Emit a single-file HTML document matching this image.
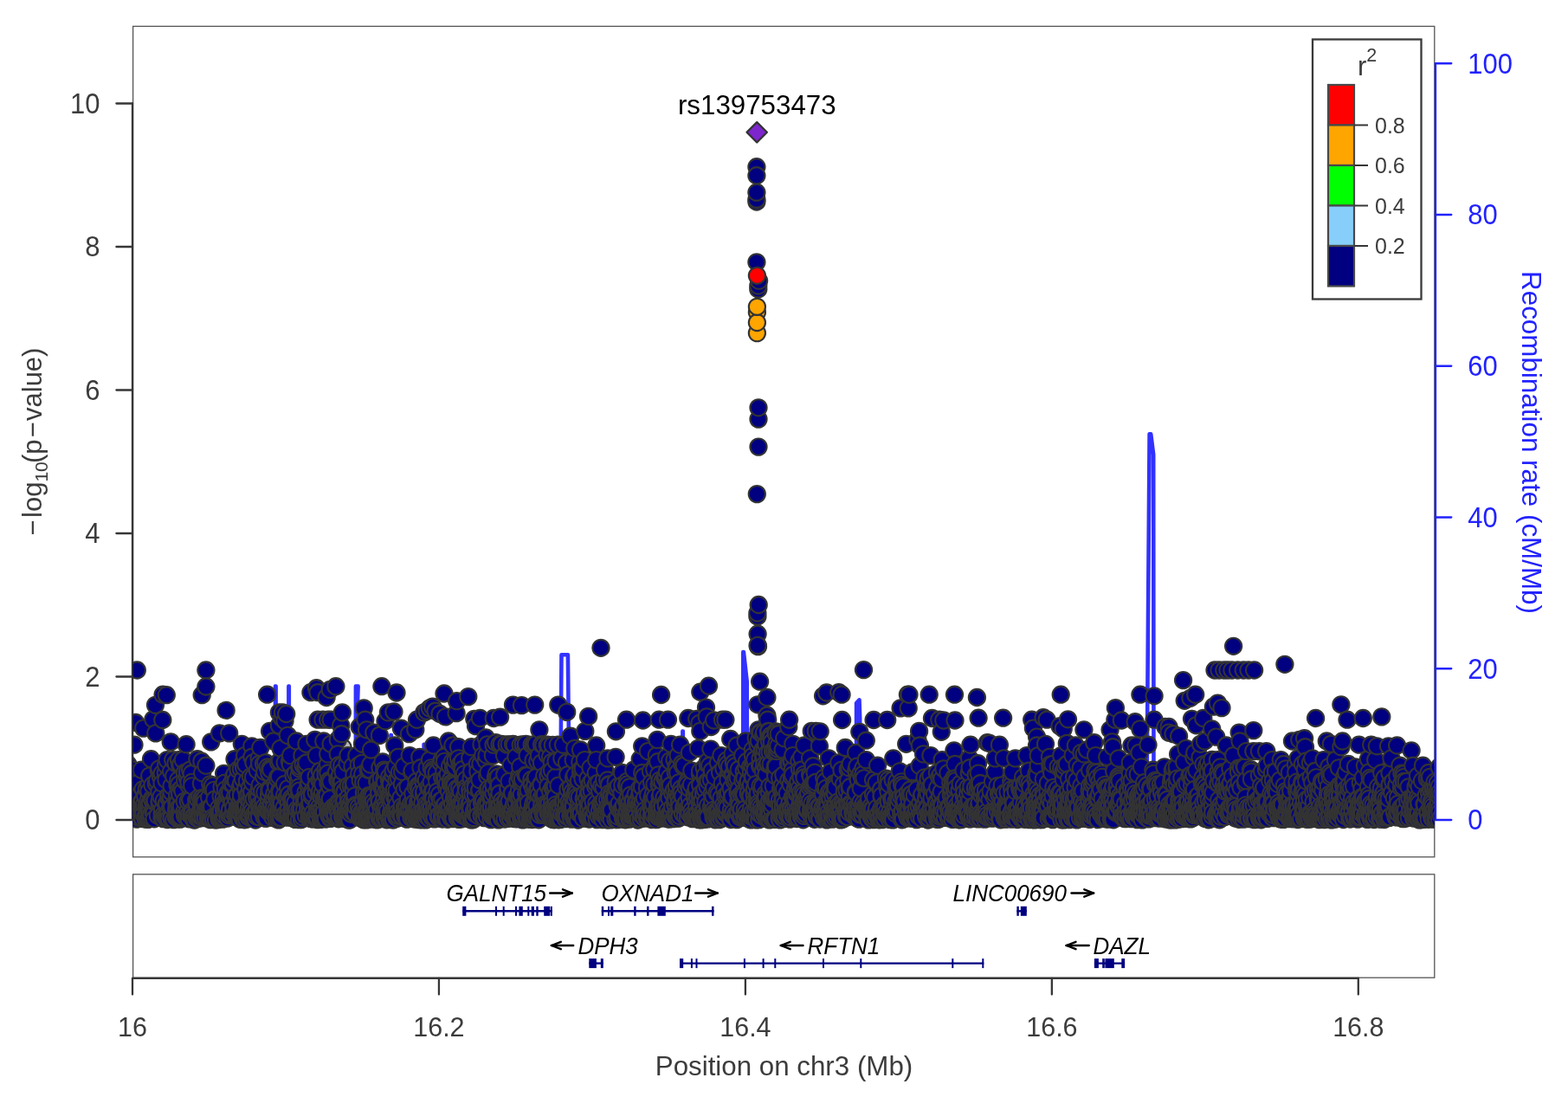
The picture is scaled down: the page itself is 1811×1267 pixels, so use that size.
<!DOCTYPE html>
<html><head><meta charset="utf-8"><title>Regional association plot chr3</title><style>html,body{margin:0;padding:0;background:#fff;overflow:hidden}svg{display:block}</style></head><body>
<svg width="1811" height="1267" viewBox="0 0 1811 1267">
<rect width="1811" height="1267" fill="#fff"/>
<defs><clipPath id="cp"><rect x="153.6" y="30.4" width="1503.2" height="959.4"/></clipPath></defs>
<rect x="153.6" y="30.4" width="1503.2" height="959.4" fill="none" stroke="#555555" stroke-width="1.3"/>
<line x1="153" y1="119.5" x2="153" y2="947.0" stroke="#363636" stroke-width="2.3" stroke-linecap="round"/>
<g clip-path="url(#cp)">
<path d="M153.0 943.0L317.9 943.0L318.0 792.5L318.6 792.5L318.7 943.0L333.3 943.0L333.4 792.5L333.8 792.5L333.9 943.0L410.8 943.0L410.9 792.5L413.6 792.5L411.2 870.0L411.4 943.0L451.3 943.0L451.4 849.0L451.9 849.0L452.0 943.0L489.5 943.0L489.6 859.7L490.0 859.7L490.1 943.0L647.2 943.0L648.5 756.2L655.9 756.2L656.9 850.0L657.0 943.0L788.3 943.0L788.4 844.5L788.8 844.5L788.9 943.0L858.2 943.0L858.3 753.1L858.9 753.1L862.7 787.0L863.0 943.0L989.0 943.0L989.1 812.0L992.5 808.4L993.2 830.0L993.3 943.0L1324.3 943.0L1327.6 501.3L1329.2 501.3L1332.2 525.0L1332.5 943.0L1657.0 943.0" fill="none" stroke="#3232ff" stroke-width="4.6" stroke-linejoin="round" stroke-linecap="round"/>
<g fill="#000080" stroke="#333333" stroke-width="2.1">
<circle cx="396.1" cy="863.5" r="9.6" fill="#b8b8b8"/>
<circle cx="145.2" cy="927.5" r="9.6"/>
<circle cx="145.3" cy="929.1" r="9.6"/>
<circle cx="145.5" cy="940.1" r="9.6"/>
<circle cx="145.8" cy="936.2" r="9.6"/>
<circle cx="146.0" cy="945.0" r="9.6"/>
<circle cx="146.8" cy="936.4" r="9.6"/>
<circle cx="147.0" cy="939.3" r="9.6"/>
<circle cx="147.7" cy="945.8" r="9.6"/>
<circle cx="147.9" cy="882.8" r="9.6"/>
<circle cx="148.6" cy="934.8" r="9.6"/>
<circle cx="148.8" cy="936.2" r="9.6"/>
<circle cx="149.1" cy="901.0" r="9.6"/>
<circle cx="149.4" cy="899.6" r="9.6"/>
<circle cx="150.5" cy="945.7" r="9.6"/>
<circle cx="150.5" cy="922.7" r="9.6"/>
<circle cx="150.5" cy="943.6" r="9.6"/>
<circle cx="150.7" cy="931.1" r="9.6"/>
<circle cx="150.9" cy="935.8" r="9.6"/>
<circle cx="150.9" cy="929.4" r="9.6"/>
<circle cx="151.1" cy="936.7" r="9.6"/>
<circle cx="151.4" cy="927.6" r="9.6"/>
<circle cx="151.6" cy="894.9" r="9.6"/>
<circle cx="152.0" cy="888.8" r="9.6"/>
<circle cx="152.1" cy="920.6" r="9.6"/>
<circle cx="152.3" cy="905.6" r="9.6"/>
<circle cx="152.8" cy="936.4" r="9.6"/>
<circle cx="153.6" cy="932.1" r="9.6"/>
<circle cx="154.0" cy="913.5" r="9.6"/>
<circle cx="154.1" cy="915.9" r="9.6"/>
<circle cx="154.4" cy="939.4" r="9.6"/>
<circle cx="154.5" cy="931.3" r="9.6"/>
<circle cx="154.7" cy="942.9" r="9.6"/>
<circle cx="155.0" cy="860.2" r="9.6"/>
<circle cx="155.4" cy="944.2" r="9.6"/>
<circle cx="155.7" cy="942.2" r="9.6"/>
<circle cx="156.1" cy="925.9" r="9.6"/>
<circle cx="156.6" cy="834.5" r="9.6"/>
<circle cx="157.0" cy="905.5" r="9.6"/>
<circle cx="157.2" cy="941.1" r="9.6"/>
<circle cx="157.7" cy="946.1" r="9.6"/>
<circle cx="158.3" cy="774.0" r="9.6"/>
<circle cx="159.1" cy="933.9" r="9.6"/>
<circle cx="159.3" cy="918.2" r="9.6"/>
<circle cx="159.4" cy="943.8" r="9.6"/>
<circle cx="159.5" cy="919.8" r="9.6"/>
<circle cx="160.9" cy="930.8" r="9.6"/>
<circle cx="161.1" cy="918.7" r="9.6"/>
<circle cx="161.8" cy="937.0" r="9.6"/>
<circle cx="161.9" cy="931.4" r="9.6"/>
<circle cx="163.1" cy="931.4" r="9.6"/>
<circle cx="163.3" cy="889.2" r="9.6"/>
<circle cx="163.3" cy="943.5" r="9.6"/>
<circle cx="163.4" cy="926.4" r="9.6"/>
<circle cx="163.4" cy="932.6" r="9.6"/>
<circle cx="164.6" cy="925.9" r="9.6"/>
<circle cx="164.6" cy="944.8" r="9.6"/>
<circle cx="164.7" cy="945.5" r="9.6"/>
<circle cx="164.9" cy="938.9" r="9.6"/>
<circle cx="165.0" cy="932.8" r="9.6"/>
<circle cx="165.1" cy="911.7" r="9.6"/>
<circle cx="165.7" cy="936.2" r="9.6"/>
<circle cx="165.7" cy="841.1" r="9.6"/>
<circle cx="165.9" cy="939.3" r="9.6"/>
<circle cx="166.5" cy="929.4" r="9.6"/>
<circle cx="167.5" cy="918.2" r="9.6"/>
<circle cx="167.8" cy="919.5" r="9.6"/>
<circle cx="168.0" cy="943.3" r="9.6"/>
<circle cx="168.1" cy="945.7" r="9.6"/>
<circle cx="168.7" cy="946.1" r="9.6"/>
<circle cx="168.9" cy="931.0" r="9.6"/>
<circle cx="169.3" cy="911.1" r="9.6"/>
<circle cx="169.9" cy="942.8" r="9.6"/>
<circle cx="170.2" cy="932.7" r="9.6"/>
<circle cx="170.3" cy="933.7" r="9.6"/>
<circle cx="171.0" cy="924.9" r="9.6"/>
<circle cx="171.0" cy="946.2" r="9.6"/>
<circle cx="171.6" cy="934.7" r="9.6"/>
<circle cx="171.8" cy="906.5" r="9.6"/>
<circle cx="171.9" cy="914.1" r="9.6"/>
<circle cx="172.1" cy="946.0" r="9.6"/>
<circle cx="172.5" cy="944.6" r="9.6"/>
<circle cx="172.6" cy="936.6" r="9.6"/>
<circle cx="172.7" cy="896.1" r="9.6"/>
<circle cx="172.9" cy="927.6" r="9.6"/>
<circle cx="173.2" cy="926.7" r="9.6"/>
<circle cx="173.3" cy="935.7" r="9.6"/>
<circle cx="173.4" cy="927.0" r="9.6"/>
<circle cx="174.4" cy="943.7" r="9.6"/>
<circle cx="174.5" cy="876.7" r="9.6"/>
<circle cx="174.6" cy="940.5" r="9.6"/>
<circle cx="174.7" cy="940.4" r="9.6"/>
<circle cx="175.4" cy="922.5" r="9.6"/>
<circle cx="176.0" cy="906.7" r="9.6"/>
<circle cx="176.2" cy="924.9" r="9.6"/>
<circle cx="176.8" cy="936.3" r="9.6"/>
<circle cx="176.8" cy="937.6" r="9.6"/>
<circle cx="176.9" cy="830.8" r="9.6"/>
<circle cx="178.0" cy="930.4" r="9.6"/>
<circle cx="178.1" cy="939.3" r="9.6"/>
<circle cx="178.2" cy="945.8" r="9.6"/>
<circle cx="178.3" cy="926.1" r="9.6"/>
<circle cx="179.3" cy="924.7" r="9.6"/>
<circle cx="179.5" cy="814.3" r="9.6"/>
<circle cx="179.8" cy="846.9" r="9.6"/>
<circle cx="180.3" cy="905.1" r="9.6"/>
<circle cx="181.5" cy="901.7" r="9.6"/>
<circle cx="182.3" cy="942.0" r="9.6"/>
<circle cx="183.2" cy="889.2" r="9.6"/>
<circle cx="183.9" cy="914.7" r="9.6"/>
<circle cx="183.9" cy="887.8" r="9.6"/>
<circle cx="184.0" cy="926.9" r="9.6"/>
<circle cx="184.3" cy="924.2" r="9.6"/>
<circle cx="185.4" cy="896.7" r="9.6"/>
<circle cx="186.1" cy="920.2" r="9.6"/>
<circle cx="187.0" cy="944.6" r="9.6"/>
<circle cx="187.1" cy="893.5" r="9.6"/>
<circle cx="187.1" cy="904.8" r="9.6"/>
<circle cx="187.3" cy="939.5" r="9.6"/>
<circle cx="187.3" cy="938.4" r="9.6"/>
<circle cx="187.5" cy="935.2" r="9.6"/>
<circle cx="187.8" cy="831.5" r="9.6"/>
<circle cx="188.1" cy="802.2" r="9.6"/>
<circle cx="188.5" cy="941.5" r="9.6"/>
<circle cx="188.7" cy="945.6" r="9.6"/>
<circle cx="189.3" cy="924.9" r="9.6"/>
<circle cx="190.5" cy="943.1" r="9.6"/>
<circle cx="191.3" cy="942.8" r="9.6"/>
<circle cx="191.3" cy="892.9" r="9.6"/>
<circle cx="191.7" cy="883.6" r="9.6"/>
<circle cx="192.0" cy="900.7" r="9.6"/>
<circle cx="192.0" cy="929.0" r="9.6"/>
<circle cx="192.3" cy="802.7" r="9.6"/>
<circle cx="192.4" cy="941.9" r="9.6"/>
<circle cx="192.7" cy="928.4" r="9.6"/>
<circle cx="193.1" cy="877.6" r="9.6"/>
<circle cx="193.3" cy="946.5" r="9.6"/>
<circle cx="193.8" cy="943.9" r="9.6"/>
<circle cx="194.7" cy="944.7" r="9.6"/>
<circle cx="194.8" cy="921.8" r="9.6"/>
<circle cx="195.0" cy="918.5" r="9.6"/>
<circle cx="195.0" cy="937.4" r="9.6"/>
<circle cx="195.1" cy="945.5" r="9.6"/>
<circle cx="196.8" cy="932.2" r="9.6"/>
<circle cx="197.2" cy="856.9" r="9.6"/>
<circle cx="197.3" cy="920.8" r="9.6"/>
<circle cx="197.6" cy="891.0" r="9.6"/>
<circle cx="198.0" cy="944.7" r="9.6"/>
<circle cx="198.0" cy="914.9" r="9.6"/>
<circle cx="198.1" cy="907.8" r="9.6"/>
<circle cx="198.1" cy="945.0" r="9.6"/>
<circle cx="198.7" cy="932.0" r="9.6"/>
<circle cx="199.7" cy="877.6" r="9.6"/>
<circle cx="200.7" cy="946.7" r="9.6"/>
<circle cx="200.7" cy="896.2" r="9.6"/>
<circle cx="203.0" cy="881.5" r="9.6"/>
<circle cx="203.2" cy="943.5" r="9.6"/>
<circle cx="203.7" cy="936.4" r="9.6"/>
<circle cx="203.9" cy="941.7" r="9.6"/>
<circle cx="203.9" cy="924.4" r="9.6"/>
<circle cx="203.9" cy="926.5" r="9.6"/>
<circle cx="204.0" cy="932.3" r="9.6"/>
<circle cx="204.6" cy="933.6" r="9.6"/>
<circle cx="204.7" cy="918.2" r="9.6"/>
<circle cx="204.9" cy="942.5" r="9.6"/>
<circle cx="205.0" cy="906.4" r="9.6"/>
<circle cx="205.5" cy="945.8" r="9.6"/>
<circle cx="205.7" cy="926.2" r="9.6"/>
<circle cx="205.9" cy="900.9" r="9.6"/>
<circle cx="206.4" cy="877.6" r="9.6"/>
<circle cx="206.5" cy="945.5" r="9.6"/>
<circle cx="206.7" cy="906.1" r="9.6"/>
<circle cx="206.8" cy="932.3" r="9.6"/>
<circle cx="207.5" cy="917.3" r="9.6"/>
<circle cx="207.6" cy="935.5" r="9.6"/>
<circle cx="207.7" cy="912.4" r="9.6"/>
<circle cx="207.7" cy="916.9" r="9.6"/>
<circle cx="207.8" cy="884.0" r="9.6"/>
<circle cx="207.9" cy="945.1" r="9.6"/>
<circle cx="208.3" cy="946.2" r="9.6"/>
<circle cx="208.5" cy="944.7" r="9.6"/>
<circle cx="208.5" cy="934.0" r="9.6"/>
<circle cx="208.8" cy="883.1" r="9.6"/>
<circle cx="209.0" cy="943.3" r="9.6"/>
<circle cx="209.3" cy="931.3" r="9.6"/>
<circle cx="209.9" cy="910.6" r="9.6"/>
<circle cx="211.1" cy="913.7" r="9.6"/>
<circle cx="211.3" cy="877.6" r="9.6"/>
<circle cx="212.9" cy="937.6" r="9.6"/>
<circle cx="213.1" cy="925.5" r="9.6"/>
<circle cx="213.3" cy="892.5" r="9.6"/>
<circle cx="213.5" cy="942.1" r="9.6"/>
<circle cx="213.7" cy="901.9" r="9.6"/>
<circle cx="214.0" cy="941.3" r="9.6"/>
<circle cx="215.1" cy="859.7" r="9.6"/>
<circle cx="215.7" cy="943.2" r="9.6"/>
<circle cx="216.3" cy="898.3" r="9.6"/>
<circle cx="216.5" cy="891.5" r="9.6"/>
<circle cx="217.0" cy="936.9" r="9.6"/>
<circle cx="217.2" cy="925.2" r="9.6"/>
<circle cx="217.8" cy="942.9" r="9.6"/>
<circle cx="218.0" cy="907.3" r="9.6"/>
<circle cx="218.1" cy="903.3" r="9.6"/>
<circle cx="218.1" cy="945.8" r="9.6"/>
<circle cx="218.5" cy="940.2" r="9.6"/>
<circle cx="219.6" cy="889.2" r="9.6"/>
<circle cx="219.7" cy="923.5" r="9.6"/>
<circle cx="219.9" cy="923.9" r="9.6"/>
<circle cx="220.7" cy="940.6" r="9.6"/>
<circle cx="221.2" cy="893.5" r="9.6"/>
<circle cx="221.6" cy="938.9" r="9.6"/>
<circle cx="221.6" cy="942.9" r="9.6"/>
<circle cx="221.7" cy="936.7" r="9.6"/>
<circle cx="221.8" cy="903.4" r="9.6"/>
<circle cx="221.9" cy="907.8" r="9.6"/>
<circle cx="222.1" cy="939.4" r="9.6"/>
<circle cx="223.6" cy="946.6" r="9.6"/>
<circle cx="223.7" cy="942.4" r="9.6"/>
<circle cx="224.4" cy="943.3" r="9.6"/>
<circle cx="224.9" cy="947.0" r="9.6"/>
<circle cx="226.7" cy="924.1" r="9.6"/>
<circle cx="226.8" cy="943.7" r="9.6"/>
<circle cx="227.2" cy="932.9" r="9.6"/>
<circle cx="227.3" cy="923.4" r="9.6"/>
<circle cx="227.5" cy="945.0" r="9.6"/>
<circle cx="227.7" cy="929.8" r="9.6"/>
<circle cx="227.9" cy="876.7" r="9.6"/>
<circle cx="228.6" cy="943.8" r="9.6"/>
<circle cx="228.9" cy="943.8" r="9.6"/>
<circle cx="229.0" cy="923.3" r="9.6"/>
<circle cx="229.6" cy="943.4" r="9.6"/>
<circle cx="229.9" cy="945.2" r="9.6"/>
<circle cx="230.0" cy="942.2" r="9.6"/>
<circle cx="230.2" cy="939.3" r="9.6"/>
<circle cx="230.5" cy="938.2" r="9.6"/>
<circle cx="230.9" cy="920.0" r="9.6"/>
<circle cx="230.9" cy="941.2" r="9.6"/>
<circle cx="231.5" cy="941.3" r="9.6"/>
<circle cx="232.3" cy="927.8" r="9.6"/>
<circle cx="232.4" cy="905.1" r="9.6"/>
<circle cx="232.5" cy="936.0" r="9.6"/>
<circle cx="232.9" cy="879.2" r="9.6"/>
<circle cx="232.9" cy="932.4" r="9.6"/>
<circle cx="233.1" cy="921.9" r="9.6"/>
<circle cx="233.2" cy="921.6" r="9.6"/>
<circle cx="233.2" cy="802.7" r="9.6"/>
<circle cx="233.3" cy="927.3" r="9.6"/>
<circle cx="233.7" cy="927.4" r="9.6"/>
<circle cx="233.7" cy="892.8" r="9.6"/>
<circle cx="233.9" cy="924.4" r="9.6"/>
<circle cx="234.1" cy="942.4" r="9.6"/>
<circle cx="234.8" cy="925.8" r="9.6"/>
<circle cx="234.8" cy="934.1" r="9.6"/>
<circle cx="234.9" cy="944.7" r="9.6"/>
<circle cx="236.5" cy="922.0" r="9.6"/>
<circle cx="236.7" cy="926.5" r="9.6"/>
<circle cx="237.2" cy="935.8" r="9.6"/>
<circle cx="237.3" cy="944.3" r="9.6"/>
<circle cx="237.9" cy="774.0" r="9.6"/>
<circle cx="237.9" cy="793.0" r="9.6"/>
<circle cx="237.9" cy="884.2" r="9.6"/>
<circle cx="238.7" cy="937.2" r="9.6"/>
<circle cx="239.3" cy="935.3" r="9.6"/>
<circle cx="240.4" cy="945.2" r="9.6"/>
<circle cx="240.4" cy="937.2" r="9.6"/>
<circle cx="240.4" cy="944.8" r="9.6"/>
<circle cx="241.0" cy="932.4" r="9.6"/>
<circle cx="241.2" cy="943.2" r="9.6"/>
<circle cx="241.3" cy="941.2" r="9.6"/>
<circle cx="241.6" cy="921.1" r="9.6"/>
<circle cx="242.2" cy="938.7" r="9.6"/>
<circle cx="242.7" cy="932.6" r="9.6"/>
<circle cx="242.8" cy="945.6" r="9.6"/>
<circle cx="242.8" cy="905.8" r="9.6"/>
<circle cx="242.9" cy="946.6" r="9.6"/>
<circle cx="243.5" cy="945.4" r="9.6"/>
<circle cx="243.7" cy="856.9" r="9.6"/>
<circle cx="244.2" cy="909.9" r="9.6"/>
<circle cx="244.2" cy="938.7" r="9.6"/>
<circle cx="244.5" cy="909.7" r="9.6"/>
<circle cx="244.6" cy="931.5" r="9.6"/>
<circle cx="245.5" cy="944.3" r="9.6"/>
<circle cx="245.6" cy="907.4" r="9.6"/>
<circle cx="246.7" cy="946.5" r="9.6"/>
<circle cx="247.3" cy="912.4" r="9.6"/>
<circle cx="248.0" cy="923.2" r="9.6"/>
<circle cx="249.5" cy="947.0" r="9.6"/>
<circle cx="252.3" cy="940.2" r="9.6"/>
<circle cx="252.9" cy="933.0" r="9.6"/>
<circle cx="253.1" cy="946.3" r="9.6"/>
<circle cx="253.3" cy="938.8" r="9.6"/>
<circle cx="253.4" cy="945.7" r="9.6"/>
<circle cx="253.5" cy="946.0" r="9.6"/>
<circle cx="253.6" cy="846.9" r="9.6"/>
<circle cx="253.7" cy="938.0" r="9.6"/>
<circle cx="254.5" cy="944.6" r="9.6"/>
<circle cx="254.8" cy="940.7" r="9.6"/>
<circle cx="255.1" cy="919.4" r="9.6"/>
<circle cx="255.3" cy="937.1" r="9.6"/>
<circle cx="256.1" cy="909.1" r="9.6"/>
<circle cx="257.3" cy="946.1" r="9.6"/>
<circle cx="257.6" cy="927.5" r="9.6"/>
<circle cx="257.9" cy="944.2" r="9.6"/>
<circle cx="258.3" cy="922.0" r="9.6"/>
<circle cx="258.4" cy="935.2" r="9.6"/>
<circle cx="258.6" cy="893.3" r="9.6"/>
<circle cx="259.1" cy="904.4" r="9.6"/>
<circle cx="259.2" cy="927.8" r="9.6"/>
<circle cx="259.4" cy="942.3" r="9.6"/>
<circle cx="259.4" cy="935.6" r="9.6"/>
<circle cx="260.3" cy="932.6" r="9.6"/>
<circle cx="260.4" cy="911.8" r="9.6"/>
<circle cx="260.5" cy="925.3" r="9.6"/>
<circle cx="260.7" cy="929.3" r="9.6"/>
<circle cx="261.1" cy="820.4" r="9.6"/>
<circle cx="262.0" cy="931.5" r="9.6"/>
<circle cx="262.7" cy="917.9" r="9.6"/>
<circle cx="263.0" cy="945.0" r="9.6"/>
<circle cx="263.2" cy="915.6" r="9.6"/>
<circle cx="264.5" cy="941.6" r="9.6"/>
<circle cx="264.7" cy="846.9" r="9.6"/>
<circle cx="265.1" cy="939.1" r="9.6"/>
<circle cx="265.7" cy="934.1" r="9.6"/>
<circle cx="265.7" cy="915.4" r="9.6"/>
<circle cx="265.8" cy="935.7" r="9.6"/>
<circle cx="267.0" cy="905.1" r="9.6"/>
<circle cx="268.2" cy="941.8" r="9.6"/>
<circle cx="268.3" cy="927.0" r="9.6"/>
<circle cx="269.3" cy="905.8" r="9.6"/>
<circle cx="269.6" cy="938.2" r="9.6"/>
<circle cx="269.8" cy="897.1" r="9.6"/>
<circle cx="269.9" cy="932.5" r="9.6"/>
<circle cx="270.0" cy="899.5" r="9.6"/>
<circle cx="271.0" cy="894.2" r="9.6"/>
<circle cx="271.0" cy="876.7" r="9.6"/>
<circle cx="271.6" cy="920.4" r="9.6"/>
<circle cx="272.1" cy="939.9" r="9.6"/>
<circle cx="272.6" cy="901.6" r="9.6"/>
<circle cx="272.8" cy="943.4" r="9.6"/>
<circle cx="273.3" cy="924.1" r="9.6"/>
<circle cx="273.4" cy="938.3" r="9.6"/>
<circle cx="274.3" cy="932.9" r="9.6"/>
<circle cx="274.3" cy="918.0" r="9.6"/>
<circle cx="274.5" cy="943.8" r="9.6"/>
<circle cx="274.7" cy="935.3" r="9.6"/>
<circle cx="275.0" cy="888.9" r="9.6"/>
<circle cx="275.2" cy="944.0" r="9.6"/>
<circle cx="275.5" cy="940.1" r="9.6"/>
<circle cx="275.5" cy="942.7" r="9.6"/>
<circle cx="275.8" cy="936.4" r="9.6"/>
<circle cx="275.8" cy="940.0" r="9.6"/>
<circle cx="276.5" cy="938.3" r="9.6"/>
<circle cx="277.1" cy="946.3" r="9.6"/>
<circle cx="277.4" cy="909.0" r="9.6"/>
<circle cx="277.9" cy="937.9" r="9.6"/>
<circle cx="277.9" cy="934.3" r="9.6"/>
<circle cx="278.1" cy="924.6" r="9.6"/>
<circle cx="278.3" cy="888.0" r="9.6"/>
<circle cx="278.5" cy="905.2" r="9.6"/>
<circle cx="278.5" cy="932.6" r="9.6"/>
<circle cx="278.5" cy="918.6" r="9.6"/>
<circle cx="278.7" cy="935.6" r="9.6"/>
<circle cx="278.8" cy="936.9" r="9.6"/>
<circle cx="279.0" cy="941.6" r="9.6"/>
<circle cx="279.3" cy="859.3" r="9.6"/>
<circle cx="280.5" cy="945.2" r="9.6"/>
<circle cx="280.5" cy="899.7" r="9.6"/>
<circle cx="280.7" cy="935.0" r="9.6"/>
<circle cx="280.7" cy="881.4" r="9.6"/>
<circle cx="281.6" cy="886.5" r="9.6"/>
<circle cx="281.7" cy="946.0" r="9.6"/>
<circle cx="281.7" cy="938.8" r="9.6"/>
<circle cx="282.2" cy="932.1" r="9.6"/>
<circle cx="282.5" cy="946.8" r="9.6"/>
<circle cx="282.6" cy="872.6" r="9.6"/>
<circle cx="282.6" cy="939.2" r="9.6"/>
<circle cx="283.1" cy="942.3" r="9.6"/>
<circle cx="283.1" cy="929.4" r="9.6"/>
<circle cx="283.8" cy="883.0" r="9.6"/>
<circle cx="283.8" cy="910.7" r="9.6"/>
<circle cx="283.9" cy="911.8" r="9.6"/>
<circle cx="284.3" cy="930.7" r="9.6"/>
<circle cx="284.9" cy="946.1" r="9.6"/>
<circle cx="285.3" cy="940.7" r="9.6"/>
<circle cx="285.4" cy="919.2" r="9.6"/>
<circle cx="285.4" cy="902.1" r="9.6"/>
<circle cx="287.1" cy="943.6" r="9.6"/>
<circle cx="287.3" cy="924.6" r="9.6"/>
<circle cx="287.3" cy="934.4" r="9.6"/>
<circle cx="287.5" cy="942.5" r="9.6"/>
<circle cx="287.8" cy="917.0" r="9.6"/>
<circle cx="288.5" cy="909.6" r="9.6"/>
<circle cx="288.6" cy="940.4" r="9.6"/>
<circle cx="289.0" cy="926.0" r="9.6"/>
<circle cx="289.4" cy="897.1" r="9.6"/>
<circle cx="289.4" cy="936.6" r="9.6"/>
<circle cx="290.4" cy="918.2" r="9.6"/>
<circle cx="290.7" cy="920.7" r="9.6"/>
<circle cx="290.7" cy="914.2" r="9.6"/>
<circle cx="290.8" cy="931.6" r="9.6"/>
<circle cx="290.9" cy="861.8" r="9.6"/>
<circle cx="290.9" cy="874.3" r="9.6"/>
<circle cx="291.6" cy="936.6" r="9.6"/>
<circle cx="291.6" cy="903.9" r="9.6"/>
<circle cx="292.5" cy="897.5" r="9.6"/>
<circle cx="292.9" cy="945.4" r="9.6"/>
<circle cx="292.9" cy="880.6" r="9.6"/>
<circle cx="293.3" cy="940.4" r="9.6"/>
<circle cx="293.3" cy="922.5" r="9.6"/>
<circle cx="293.5" cy="943.5" r="9.6"/>
<circle cx="295.1" cy="947.0" r="9.6"/>
<circle cx="295.7" cy="939.5" r="9.6"/>
<circle cx="296.0" cy="935.8" r="9.6"/>
<circle cx="296.7" cy="936.2" r="9.6"/>
<circle cx="296.8" cy="918.0" r="9.6"/>
<circle cx="296.8" cy="943.3" r="9.6"/>
<circle cx="296.8" cy="921.9" r="9.6"/>
<circle cx="297.3" cy="889.8" r="9.6"/>
<circle cx="298.8" cy="920.3" r="9.6"/>
<circle cx="299.2" cy="875.9" r="9.6"/>
<circle cx="299.2" cy="930.8" r="9.6"/>
<circle cx="299.3" cy="941.5" r="9.6"/>
<circle cx="299.3" cy="911.5" r="9.6"/>
<circle cx="299.5" cy="929.6" r="9.6"/>
<circle cx="299.6" cy="943.7" r="9.6"/>
<circle cx="299.6" cy="882.3" r="9.6"/>
<circle cx="300.2" cy="932.4" r="9.6"/>
<circle cx="300.3" cy="931.9" r="9.6"/>
<circle cx="300.3" cy="906.7" r="9.6"/>
<circle cx="300.8" cy="863.5" r="9.6"/>
<circle cx="301.4" cy="935.4" r="9.6"/>
<circle cx="301.8" cy="934.2" r="9.6"/>
<circle cx="302.6" cy="914.1" r="9.6"/>
<circle cx="303.9" cy="932.8" r="9.6"/>
<circle cx="304.0" cy="936.2" r="9.6"/>
<circle cx="304.1" cy="925.1" r="9.6"/>
<circle cx="304.3" cy="935.9" r="9.6"/>
<circle cx="304.5" cy="882.1" r="9.6"/>
<circle cx="304.6" cy="896.7" r="9.6"/>
<circle cx="304.9" cy="943.3" r="9.6"/>
<circle cx="305.4" cy="931.6" r="9.6"/>
<circle cx="305.8" cy="891.4" r="9.6"/>
<circle cx="305.9" cy="915.2" r="9.6"/>
<circle cx="306.3" cy="945.1" r="9.6"/>
<circle cx="306.4" cy="944.4" r="9.6"/>
<circle cx="306.7" cy="880.7" r="9.6"/>
<circle cx="307.0" cy="944.4" r="9.6"/>
<circle cx="307.0" cy="935.8" r="9.6"/>
<circle cx="307.1" cy="943.2" r="9.6"/>
<circle cx="307.4" cy="936.6" r="9.6"/>
<circle cx="308.1" cy="945.0" r="9.6"/>
<circle cx="308.2" cy="933.5" r="9.6"/>
<circle cx="308.6" cy="802.2" r="9.6"/>
<circle cx="309.1" cy="885.9" r="9.6"/>
<circle cx="309.6" cy="930.8" r="9.6"/>
<circle cx="309.7" cy="937.0" r="9.6"/>
<circle cx="309.8" cy="936.2" r="9.6"/>
<circle cx="310.4" cy="922.8" r="9.6"/>
<circle cx="310.5" cy="917.2" r="9.6"/>
<circle cx="310.8" cy="892.7" r="9.6"/>
<circle cx="310.9" cy="911.8" r="9.6"/>
<circle cx="311.1" cy="937.8" r="9.6"/>
<circle cx="311.5" cy="910.3" r="9.6"/>
<circle cx="311.6" cy="844.4" r="9.6"/>
<circle cx="311.8" cy="887.3" r="9.6"/>
<circle cx="311.9" cy="912.3" r="9.6"/>
<circle cx="312.8" cy="889.0" r="9.6"/>
<circle cx="313.0" cy="937.9" r="9.6"/>
<circle cx="313.4" cy="928.0" r="9.6"/>
<circle cx="313.5" cy="940.1" r="9.6"/>
<circle cx="313.9" cy="929.1" r="9.6"/>
<circle cx="314.2" cy="942.4" r="9.6"/>
<circle cx="314.9" cy="922.5" r="9.6"/>
<circle cx="315.3" cy="939.1" r="9.6"/>
<circle cx="315.4" cy="944.4" r="9.6"/>
<circle cx="315.8" cy="856.0" r="9.6"/>
<circle cx="316.1" cy="939.6" r="9.6"/>
<circle cx="316.1" cy="920.7" r="9.6"/>
<circle cx="316.6" cy="933.0" r="9.6"/>
<circle cx="316.7" cy="932.9" r="9.6"/>
<circle cx="316.9" cy="916.6" r="9.6"/>
<circle cx="317.8" cy="904.6" r="9.6"/>
<circle cx="318.4" cy="937.9" r="9.6"/>
<circle cx="318.7" cy="939.8" r="9.6"/>
<circle cx="318.9" cy="908.6" r="9.6"/>
<circle cx="319.0" cy="934.7" r="9.6"/>
<circle cx="319.3" cy="946.0" r="9.6"/>
<circle cx="319.6" cy="919.6" r="9.6"/>
<circle cx="320.6" cy="897.6" r="9.6"/>
<circle cx="320.7" cy="899.8" r="9.6"/>
<circle cx="320.7" cy="938.5" r="9.6"/>
<circle cx="321.0" cy="923.9" r="9.6"/>
<circle cx="321.1" cy="924.9" r="9.6"/>
<circle cx="321.6" cy="880.4" r="9.6"/>
<circle cx="321.6" cy="935.2" r="9.6"/>
<circle cx="321.8" cy="946.9" r="9.6"/>
<circle cx="322.3" cy="941.0" r="9.6"/>
<circle cx="322.4" cy="822.9" r="9.6"/>
<circle cx="322.4" cy="837.8" r="9.6"/>
<circle cx="322.5" cy="897.0" r="9.6"/>
<circle cx="322.7" cy="913.6" r="9.6"/>
<circle cx="322.9" cy="922.4" r="9.6"/>
<circle cx="323.0" cy="944.8" r="9.6"/>
<circle cx="323.3" cy="933.2" r="9.6"/>
<circle cx="323.4" cy="879.1" r="9.6"/>
<circle cx="323.5" cy="932.0" r="9.6"/>
<circle cx="323.6" cy="943.3" r="9.6"/>
<circle cx="323.7" cy="936.4" r="9.6"/>
<circle cx="323.7" cy="924.3" r="9.6"/>
<circle cx="323.7" cy="937.8" r="9.6"/>
<circle cx="323.8" cy="914.5" r="9.6"/>
<circle cx="324.0" cy="864.3" r="9.6"/>
<circle cx="324.3" cy="942.8" r="9.6"/>
<circle cx="324.5" cy="927.5" r="9.6"/>
<circle cx="324.8" cy="941.9" r="9.6"/>
<circle cx="324.8" cy="944.5" r="9.6"/>
<circle cx="325.1" cy="932.3" r="9.6"/>
<circle cx="325.4" cy="927.8" r="9.6"/>
<circle cx="325.7" cy="829.5" r="9.6"/>
<circle cx="326.2" cy="939.4" r="9.6"/>
<circle cx="326.5" cy="822.9" r="9.6"/>
<circle cx="328.0" cy="932.9" r="9.6"/>
<circle cx="328.5" cy="905.7" r="9.6"/>
<circle cx="328.6" cy="940.7" r="9.6"/>
<circle cx="328.7" cy="918.4" r="9.6"/>
<circle cx="329.0" cy="832.8" r="9.6"/>
<circle cx="329.2" cy="880.9" r="9.6"/>
<circle cx="329.7" cy="940.9" r="9.6"/>
<circle cx="330.7" cy="824.5" r="9.6"/>
<circle cx="330.7" cy="922.0" r="9.6"/>
<circle cx="331.5" cy="942.1" r="9.6"/>
<circle cx="332.0" cy="922.5" r="9.6"/>
<circle cx="332.2" cy="944.1" r="9.6"/>
<circle cx="332.3" cy="849.4" r="9.6"/>
<circle cx="332.7" cy="910.6" r="9.6"/>
<circle cx="333.4" cy="941.9" r="9.6"/>
<circle cx="333.4" cy="927.5" r="9.6"/>
<circle cx="333.4" cy="943.3" r="9.6"/>
<circle cx="333.5" cy="935.0" r="9.6"/>
<circle cx="333.8" cy="917.5" r="9.6"/>
<circle cx="334.1" cy="940.7" r="9.6"/>
<circle cx="334.4" cy="879.3" r="9.6"/>
<circle cx="335.3" cy="882.5" r="9.6"/>
<circle cx="335.6" cy="872.6" r="9.6"/>
<circle cx="336.3" cy="921.8" r="9.6"/>
<circle cx="336.3" cy="943.6" r="9.6"/>
<circle cx="336.8" cy="927.3" r="9.6"/>
<circle cx="336.9" cy="939.0" r="9.6"/>
<circle cx="337.5" cy="924.0" r="9.6"/>
<circle cx="337.9" cy="929.5" r="9.6"/>
<circle cx="337.9" cy="944.7" r="9.6"/>
<circle cx="338.1" cy="941.1" r="9.6"/>
<circle cx="338.2" cy="937.1" r="9.6"/>
<circle cx="338.4" cy="929.5" r="9.6"/>
<circle cx="338.7" cy="923.8" r="9.6"/>
<circle cx="339.0" cy="895.4" r="9.6"/>
<circle cx="339.0" cy="941.8" r="9.6"/>
<circle cx="339.1" cy="937.0" r="9.6"/>
<circle cx="340.6" cy="942.0" r="9.6"/>
<circle cx="340.7" cy="932.4" r="9.6"/>
<circle cx="341.0" cy="946.4" r="9.6"/>
<circle cx="341.1" cy="927.1" r="9.6"/>
<circle cx="341.2" cy="945.6" r="9.6"/>
<circle cx="341.5" cy="946.3" r="9.6"/>
<circle cx="341.5" cy="893.1" r="9.6"/>
<circle cx="341.6" cy="937.5" r="9.6"/>
<circle cx="341.6" cy="936.8" r="9.6"/>
<circle cx="342.1" cy="943.6" r="9.6"/>
<circle cx="342.1" cy="913.1" r="9.6"/>
<circle cx="342.3" cy="856.0" r="9.6"/>
<circle cx="342.3" cy="944.4" r="9.6"/>
<circle cx="343.3" cy="934.9" r="9.6"/>
<circle cx="344.4" cy="910.6" r="9.6"/>
<circle cx="344.5" cy="903.2" r="9.6"/>
<circle cx="345.1" cy="895.9" r="9.6"/>
<circle cx="345.4" cy="909.0" r="9.6"/>
<circle cx="345.4" cy="946.7" r="9.6"/>
<circle cx="345.6" cy="916.0" r="9.6"/>
<circle cx="345.9" cy="935.4" r="9.6"/>
<circle cx="345.9" cy="887.6" r="9.6"/>
<circle cx="346.0" cy="913.1" r="9.6"/>
<circle cx="346.6" cy="885.3" r="9.6"/>
<circle cx="346.7" cy="938.7" r="9.6"/>
<circle cx="348.0" cy="932.1" r="9.6"/>
<circle cx="348.3" cy="925.3" r="9.6"/>
<circle cx="348.4" cy="940.5" r="9.6"/>
<circle cx="348.4" cy="934.0" r="9.6"/>
<circle cx="348.4" cy="946.5" r="9.6"/>
<circle cx="348.9" cy="872.6" r="9.6"/>
<circle cx="349.7" cy="943.8" r="9.6"/>
<circle cx="350.1" cy="883.7" r="9.6"/>
<circle cx="351.2" cy="922.1" r="9.6"/>
<circle cx="351.4" cy="926.9" r="9.6"/>
<circle cx="351.7" cy="928.3" r="9.6"/>
<circle cx="351.7" cy="935.3" r="9.6"/>
<circle cx="352.7" cy="886.4" r="9.6"/>
<circle cx="353.2" cy="885.1" r="9.6"/>
<circle cx="353.2" cy="914.8" r="9.6"/>
<circle cx="353.3" cy="921.2" r="9.6"/>
<circle cx="353.4" cy="924.2" r="9.6"/>
<circle cx="353.4" cy="942.3" r="9.6"/>
<circle cx="353.9" cy="881.0" r="9.6"/>
<circle cx="353.9" cy="859.3" r="9.6"/>
<circle cx="355.7" cy="932.1" r="9.6"/>
<circle cx="355.8" cy="935.9" r="9.6"/>
<circle cx="355.9" cy="906.9" r="9.6"/>
<circle cx="356.9" cy="944.6" r="9.6"/>
<circle cx="356.9" cy="904.2" r="9.6"/>
<circle cx="357.1" cy="897.6" r="9.6"/>
<circle cx="357.2" cy="939.3" r="9.6"/>
<circle cx="357.6" cy="920.9" r="9.6"/>
<circle cx="358.0" cy="934.1" r="9.6"/>
<circle cx="358.3" cy="945.3" r="9.6"/>
<circle cx="358.4" cy="939.1" r="9.6"/>
<circle cx="358.7" cy="927.9" r="9.6"/>
<circle cx="358.9" cy="799.7" r="9.6"/>
<circle cx="358.9" cy="943.6" r="9.6"/>
<circle cx="359.2" cy="944.0" r="9.6"/>
<circle cx="360.3" cy="940.8" r="9.6"/>
<circle cx="360.4" cy="920.3" r="9.6"/>
<circle cx="360.6" cy="913.7" r="9.6"/>
<circle cx="360.6" cy="946.0" r="9.6"/>
<circle cx="360.7" cy="917.2" r="9.6"/>
<circle cx="360.7" cy="945.1" r="9.6"/>
<circle cx="361.2" cy="942.7" r="9.6"/>
<circle cx="362.0" cy="938.0" r="9.6"/>
<circle cx="363.4" cy="943.3" r="9.6"/>
<circle cx="363.8" cy="854.4" r="9.6"/>
<circle cx="364.3" cy="942.5" r="9.6"/>
<circle cx="365.1" cy="896.5" r="9.6"/>
<circle cx="365.2" cy="914.8" r="9.6"/>
<circle cx="365.2" cy="906.1" r="9.6"/>
<circle cx="365.5" cy="794.7" r="9.6"/>
<circle cx="365.5" cy="872.6" r="9.6"/>
<circle cx="365.6" cy="944.8" r="9.6"/>
<circle cx="365.7" cy="906.7" r="9.6"/>
<circle cx="366.0" cy="939.5" r="9.6"/>
<circle cx="366.0" cy="938.1" r="9.6"/>
<circle cx="366.2" cy="932.4" r="9.6"/>
<circle cx="366.2" cy="930.0" r="9.6"/>
<circle cx="366.6" cy="942.9" r="9.6"/>
<circle cx="366.8" cy="935.2" r="9.6"/>
<circle cx="366.8" cy="946.7" r="9.6"/>
<circle cx="366.9" cy="945.0" r="9.6"/>
<circle cx="367.0" cy="936.2" r="9.6"/>
<circle cx="367.1" cy="937.8" r="9.6"/>
<circle cx="367.1" cy="799.7" r="9.6"/>
<circle cx="367.1" cy="831.2" r="9.6"/>
<circle cx="368.8" cy="916.4" r="9.6"/>
<circle cx="368.9" cy="901.2" r="9.6"/>
<circle cx="369.1" cy="931.5" r="9.6"/>
<circle cx="369.1" cy="936.5" r="9.6"/>
<circle cx="369.5" cy="890.5" r="9.6"/>
<circle cx="369.7" cy="913.5" r="9.6"/>
<circle cx="370.4" cy="946.4" r="9.6"/>
<circle cx="370.9" cy="901.0" r="9.6"/>
<circle cx="371.2" cy="936.5" r="9.6"/>
<circle cx="371.3" cy="920.0" r="9.6"/>
<circle cx="371.5" cy="945.4" r="9.6"/>
<circle cx="371.5" cy="943.5" r="9.6"/>
<circle cx="371.6" cy="895.6" r="9.6"/>
<circle cx="371.7" cy="941.7" r="9.6"/>
<circle cx="372.0" cy="943.4" r="9.6"/>
<circle cx="372.0" cy="940.0" r="9.6"/>
<circle cx="372.6" cy="915.8" r="9.6"/>
<circle cx="372.8" cy="906.0" r="9.6"/>
<circle cx="372.9" cy="831.2" r="9.6"/>
<circle cx="372.9" cy="943.5" r="9.6"/>
<circle cx="373.2" cy="942.6" r="9.6"/>
<circle cx="373.6" cy="938.8" r="9.6"/>
<circle cx="373.8" cy="856.0" r="9.6"/>
<circle cx="374.4" cy="940.0" r="9.6"/>
<circle cx="374.4" cy="928.6" r="9.6"/>
<circle cx="374.4" cy="922.0" r="9.6"/>
<circle cx="374.7" cy="938.0" r="9.6"/>
<circle cx="375.0" cy="920.4" r="9.6"/>
<circle cx="375.9" cy="889.3" r="9.6"/>
<circle cx="376.0" cy="922.9" r="9.6"/>
<circle cx="376.1" cy="895.0" r="9.6"/>
<circle cx="376.5" cy="946.0" r="9.6"/>
<circle cx="377.0" cy="920.7" r="9.6"/>
<circle cx="377.1" cy="805.5" r="9.6"/>
<circle cx="378.1" cy="918.2" r="9.6"/>
<circle cx="378.6" cy="882.9" r="9.6"/>
<circle cx="378.7" cy="831.2" r="9.6"/>
<circle cx="378.7" cy="870.9" r="9.6"/>
<circle cx="378.8" cy="932.8" r="9.6"/>
<circle cx="378.8" cy="936.6" r="9.6"/>
<circle cx="378.9" cy="893.0" r="9.6"/>
<circle cx="379.0" cy="904.6" r="9.6"/>
<circle cx="379.8" cy="901.7" r="9.6"/>
<circle cx="380.0" cy="942.3" r="9.6"/>
<circle cx="380.0" cy="940.9" r="9.6"/>
<circle cx="380.0" cy="930.2" r="9.6"/>
<circle cx="380.1" cy="933.9" r="9.6"/>
<circle cx="380.3" cy="901.6" r="9.6"/>
<circle cx="381.0" cy="908.3" r="9.6"/>
<circle cx="381.2" cy="796.4" r="9.6"/>
<circle cx="381.3" cy="922.6" r="9.6"/>
<circle cx="381.6" cy="935.6" r="9.6"/>
<circle cx="381.7" cy="945.4" r="9.6"/>
<circle cx="381.7" cy="943.9" r="9.6"/>
<circle cx="382.0" cy="903.0" r="9.6"/>
<circle cx="382.1" cy="831.2" r="9.6"/>
<circle cx="382.1" cy="859.3" r="9.6"/>
<circle cx="382.4" cy="941.5" r="9.6"/>
<circle cx="382.7" cy="941.4" r="9.6"/>
<circle cx="382.7" cy="934.7" r="9.6"/>
<circle cx="384.1" cy="935.3" r="9.6"/>
<circle cx="384.2" cy="937.8" r="9.6"/>
<circle cx="384.4" cy="934.2" r="9.6"/>
<circle cx="384.9" cy="935.1" r="9.6"/>
<circle cx="385.2" cy="931.8" r="9.6"/>
<circle cx="387.0" cy="931.4" r="9.6"/>
<circle cx="387.1" cy="944.2" r="9.6"/>
<circle cx="387.3" cy="941.6" r="9.6"/>
<circle cx="387.7" cy="941.6" r="9.6"/>
<circle cx="387.9" cy="792.7" r="9.6"/>
<circle cx="388.5" cy="930.7" r="9.6"/>
<circle cx="388.6" cy="891.6" r="9.6"/>
<circle cx="389.2" cy="931.9" r="9.6"/>
<circle cx="389.9" cy="900.5" r="9.6"/>
<circle cx="390.3" cy="854.4" r="9.6"/>
<circle cx="390.3" cy="870.9" r="9.6"/>
<circle cx="390.4" cy="926.7" r="9.6"/>
<circle cx="390.4" cy="937.3" r="9.6"/>
<circle cx="390.6" cy="933.4" r="9.6"/>
<circle cx="391.0" cy="945.8" r="9.6"/>
<circle cx="391.3" cy="939.8" r="9.6"/>
<circle cx="391.4" cy="883.7" r="9.6"/>
<circle cx="391.5" cy="898.8" r="9.6"/>
<circle cx="391.7" cy="928.5" r="9.6"/>
<circle cx="392.1" cy="944.0" r="9.6"/>
<circle cx="392.8" cy="895.4" r="9.6"/>
<circle cx="393.5" cy="930.3" r="9.6"/>
<circle cx="393.7" cy="837.8" r="9.6"/>
<circle cx="393.7" cy="911.1" r="9.6"/>
<circle cx="393.8" cy="904.3" r="9.6"/>
<circle cx="394.4" cy="936.4" r="9.6"/>
<circle cx="394.5" cy="847.7" r="9.6"/>
<circle cx="394.7" cy="936.3" r="9.6"/>
<circle cx="394.8" cy="884.2" r="9.6"/>
<circle cx="395.0" cy="934.4" r="9.6"/>
<circle cx="395.1" cy="902.9" r="9.6"/>
<circle cx="395.1" cy="935.8" r="9.6"/>
<circle cx="395.2" cy="911.3" r="9.6"/>
<circle cx="395.3" cy="822.9" r="9.6"/>
<circle cx="395.6" cy="942.3" r="9.6"/>
<circle cx="395.7" cy="944.0" r="9.6"/>
<circle cx="396.0" cy="891.2" r="9.6"/>
<circle cx="396.3" cy="932.5" r="9.6"/>
<circle cx="396.4" cy="939.3" r="9.6"/>
<circle cx="396.6" cy="935.4" r="9.6"/>
<circle cx="397.0" cy="926.3" r="9.6"/>
<circle cx="397.3" cy="945.3" r="9.6"/>
<circle cx="397.9" cy="914.0" r="9.6"/>
<circle cx="397.9" cy="940.2" r="9.6"/>
<circle cx="398.2" cy="915.1" r="9.6"/>
<circle cx="398.2" cy="925.1" r="9.6"/>
<circle cx="398.9" cy="939.1" r="9.6"/>
<circle cx="398.9" cy="945.5" r="9.6"/>
<circle cx="399.3" cy="940.7" r="9.6"/>
<circle cx="400.0" cy="931.8" r="9.6"/>
<circle cx="400.1" cy="944.4" r="9.6"/>
<circle cx="400.5" cy="937.8" r="9.6"/>
<circle cx="401.0" cy="881.5" r="9.6"/>
<circle cx="401.2" cy="937.2" r="9.6"/>
<circle cx="401.7" cy="940.8" r="9.6"/>
<circle cx="401.8" cy="944.5" r="9.6"/>
<circle cx="401.9" cy="872.6" r="9.6"/>
<circle cx="402.2" cy="944.3" r="9.6"/>
<circle cx="402.2" cy="907.5" r="9.6"/>
<circle cx="402.2" cy="921.3" r="9.6"/>
<circle cx="402.3" cy="946.9" r="9.6"/>
<circle cx="402.5" cy="937.1" r="9.6"/>
<circle cx="402.7" cy="926.2" r="9.6"/>
<circle cx="403.0" cy="930.9" r="9.6"/>
<circle cx="403.3" cy="933.1" r="9.6"/>
<circle cx="403.9" cy="940.9" r="9.6"/>
<circle cx="404.0" cy="947.0" r="9.6"/>
<circle cx="404.5" cy="933.2" r="9.6"/>
<circle cx="405.3" cy="940.0" r="9.6"/>
<circle cx="405.3" cy="907.5" r="9.6"/>
<circle cx="406.5" cy="936.0" r="9.6"/>
<circle cx="406.5" cy="935.4" r="9.6"/>
<circle cx="407.0" cy="923.9" r="9.6"/>
<circle cx="407.0" cy="885.0" r="9.6"/>
<circle cx="407.9" cy="909.8" r="9.6"/>
<circle cx="408.1" cy="938.4" r="9.6"/>
<circle cx="408.3" cy="904.2" r="9.6"/>
<circle cx="408.3" cy="913.9" r="9.6"/>
<circle cx="408.7" cy="931.1" r="9.6"/>
<circle cx="409.0" cy="895.0" r="9.6"/>
<circle cx="409.0" cy="904.9" r="9.6"/>
<circle cx="409.2" cy="937.6" r="9.6"/>
<circle cx="409.6" cy="923.1" r="9.6"/>
<circle cx="410.1" cy="919.1" r="9.6"/>
<circle cx="410.2" cy="931.6" r="9.6"/>
<circle cx="410.5" cy="939.7" r="9.6"/>
<circle cx="411.1" cy="929.6" r="9.6"/>
<circle cx="411.1" cy="931.4" r="9.6"/>
<circle cx="411.9" cy="872.6" r="9.6"/>
<circle cx="414.2" cy="932.3" r="9.6"/>
<circle cx="414.3" cy="883.8" r="9.6"/>
<circle cx="414.7" cy="894.0" r="9.6"/>
<circle cx="415.2" cy="839.5" r="9.6"/>
<circle cx="415.4" cy="936.4" r="9.6"/>
<circle cx="415.5" cy="944.5" r="9.6"/>
<circle cx="416.2" cy="901.5" r="9.6"/>
<circle cx="416.4" cy="944.0" r="9.6"/>
<circle cx="417.5" cy="938.6" r="9.6"/>
<circle cx="418.1" cy="881.3" r="9.6"/>
<circle cx="418.2" cy="944.4" r="9.6"/>
<circle cx="418.4" cy="941.1" r="9.6"/>
<circle cx="418.5" cy="859.3" r="9.6"/>
<circle cx="418.8" cy="894.1" r="9.6"/>
<circle cx="418.9" cy="944.2" r="9.6"/>
<circle cx="419.2" cy="938.2" r="9.6"/>
<circle cx="419.6" cy="946.8" r="9.6"/>
<circle cx="419.7" cy="903.6" r="9.6"/>
<circle cx="419.7" cy="943.9" r="9.6"/>
<circle cx="419.8" cy="924.8" r="9.6"/>
<circle cx="420.2" cy="817.9" r="9.6"/>
<circle cx="420.4" cy="915.6" r="9.6"/>
<circle cx="420.6" cy="945.6" r="9.6"/>
<circle cx="421.2" cy="932.5" r="9.6"/>
<circle cx="421.8" cy="940.7" r="9.6"/>
<circle cx="421.8" cy="831.2" r="9.6"/>
<circle cx="422.3" cy="942.6" r="9.6"/>
<circle cx="423.0" cy="922.9" r="9.6"/>
<circle cx="423.0" cy="936.0" r="9.6"/>
<circle cx="423.1" cy="916.0" r="9.6"/>
<circle cx="423.1" cy="938.2" r="9.6"/>
<circle cx="423.2" cy="939.6" r="9.6"/>
<circle cx="423.2" cy="904.3" r="9.6"/>
<circle cx="423.3" cy="946.9" r="9.6"/>
<circle cx="423.5" cy="842.8" r="9.6"/>
<circle cx="423.9" cy="923.2" r="9.6"/>
<circle cx="424.4" cy="939.7" r="9.6"/>
<circle cx="424.9" cy="946.0" r="9.6"/>
<circle cx="425.2" cy="889.1" r="9.6"/>
<circle cx="425.3" cy="942.7" r="9.6"/>
<circle cx="425.5" cy="922.5" r="9.6"/>
<circle cx="425.6" cy="944.6" r="9.6"/>
<circle cx="425.7" cy="919.0" r="9.6"/>
<circle cx="426.3" cy="923.7" r="9.6"/>
<circle cx="426.3" cy="919.2" r="9.6"/>
<circle cx="426.5" cy="927.3" r="9.6"/>
<circle cx="426.7" cy="888.8" r="9.6"/>
<circle cx="427.2" cy="944.7" r="9.6"/>
<circle cx="427.4" cy="926.5" r="9.6"/>
<circle cx="427.6" cy="922.1" r="9.6"/>
<circle cx="427.8" cy="883.0" r="9.6"/>
<circle cx="428.0" cy="929.6" r="9.6"/>
<circle cx="428.1" cy="943.6" r="9.6"/>
<circle cx="428.5" cy="866.0" r="9.6"/>
<circle cx="428.8" cy="932.3" r="9.6"/>
<circle cx="429.0" cy="918.6" r="9.6"/>
<circle cx="429.5" cy="933.7" r="9.6"/>
<circle cx="429.7" cy="937.9" r="9.6"/>
<circle cx="429.9" cy="946.1" r="9.6"/>
<circle cx="430.5" cy="923.7" r="9.6"/>
<circle cx="430.6" cy="944.3" r="9.6"/>
<circle cx="431.0" cy="919.3" r="9.6"/>
<circle cx="431.3" cy="940.1" r="9.6"/>
<circle cx="431.6" cy="943.4" r="9.6"/>
<circle cx="431.6" cy="925.9" r="9.6"/>
<circle cx="431.8" cy="846.1" r="9.6"/>
<circle cx="432.4" cy="943.2" r="9.6"/>
<circle cx="432.8" cy="941.3" r="9.6"/>
<circle cx="432.9" cy="942.7" r="9.6"/>
<circle cx="433.3" cy="943.6" r="9.6"/>
<circle cx="433.7" cy="928.5" r="9.6"/>
<circle cx="434.3" cy="942.4" r="9.6"/>
<circle cx="435.0" cy="946.7" r="9.6"/>
<circle cx="435.6" cy="935.0" r="9.6"/>
<circle cx="435.7" cy="946.6" r="9.6"/>
<circle cx="435.8" cy="902.7" r="9.6"/>
<circle cx="435.8" cy="902.8" r="9.6"/>
<circle cx="436.5" cy="902.4" r="9.6"/>
<circle cx="437.3" cy="920.7" r="9.6"/>
<circle cx="437.3" cy="911.6" r="9.6"/>
<circle cx="437.7" cy="923.7" r="9.6"/>
<circle cx="437.9" cy="944.2" r="9.6"/>
<circle cx="437.9" cy="915.6" r="9.6"/>
<circle cx="438.4" cy="849.4" r="9.6"/>
<circle cx="438.5" cy="927.7" r="9.6"/>
<circle cx="438.6" cy="925.7" r="9.6"/>
<circle cx="438.8" cy="945.8" r="9.6"/>
<circle cx="438.9" cy="886.5" r="9.6"/>
<circle cx="439.0" cy="943.5" r="9.6"/>
<circle cx="439.4" cy="943.4" r="9.6"/>
<circle cx="439.9" cy="907.2" r="9.6"/>
<circle cx="439.9" cy="933.1" r="9.6"/>
<circle cx="440.2" cy="899.1" r="9.6"/>
<circle cx="440.6" cy="936.6" r="9.6"/>
<circle cx="440.9" cy="792.7" r="9.6"/>
<circle cx="441.3" cy="909.3" r="9.6"/>
<circle cx="441.5" cy="910.8" r="9.6"/>
<circle cx="441.6" cy="945.7" r="9.6"/>
<circle cx="442.0" cy="929.0" r="9.6"/>
<circle cx="442.0" cy="880.0" r="9.6"/>
<circle cx="442.2" cy="932.1" r="9.6"/>
<circle cx="443.0" cy="912.8" r="9.6"/>
<circle cx="443.2" cy="910.5" r="9.6"/>
<circle cx="443.8" cy="889.1" r="9.6"/>
<circle cx="443.9" cy="922.2" r="9.6"/>
<circle cx="444.0" cy="938.8" r="9.6"/>
<circle cx="444.0" cy="899.4" r="9.6"/>
<circle cx="444.0" cy="944.0" r="9.6"/>
<circle cx="444.0" cy="935.9" r="9.6"/>
<circle cx="444.4" cy="940.5" r="9.6"/>
<circle cx="444.5" cy="933.3" r="9.6"/>
<circle cx="444.6" cy="903.5" r="9.6"/>
<circle cx="444.9" cy="945.4" r="9.6"/>
<circle cx="445.0" cy="933.1" r="9.6"/>
<circle cx="445.0" cy="832.8" r="9.6"/>
<circle cx="445.2" cy="891.0" r="9.6"/>
<circle cx="445.5" cy="928.4" r="9.6"/>
<circle cx="445.6" cy="933.6" r="9.6"/>
<circle cx="445.9" cy="914.8" r="9.6"/>
<circle cx="446.1" cy="934.0" r="9.6"/>
<circle cx="446.7" cy="946.8" r="9.6"/>
<circle cx="447.3" cy="940.7" r="9.6"/>
<circle cx="447.8" cy="936.8" r="9.6"/>
<circle cx="448.3" cy="913.3" r="9.6"/>
<circle cx="448.4" cy="822.9" r="9.6"/>
<circle cx="448.5" cy="921.3" r="9.6"/>
<circle cx="449.3" cy="900.7" r="9.6"/>
<circle cx="449.4" cy="918.6" r="9.6"/>
<circle cx="449.5" cy="946.3" r="9.6"/>
<circle cx="449.7" cy="897.2" r="9.6"/>
<circle cx="450.3" cy="916.6" r="9.6"/>
<circle cx="450.5" cy="921.7" r="9.6"/>
<circle cx="450.8" cy="902.5" r="9.6"/>
<circle cx="450.9" cy="908.7" r="9.6"/>
<circle cx="450.9" cy="922.4" r="9.6"/>
<circle cx="451.0" cy="945.3" r="9.6"/>
<circle cx="451.1" cy="944.0" r="9.6"/>
<circle cx="451.4" cy="905.5" r="9.6"/>
<circle cx="451.4" cy="945.8" r="9.6"/>
<circle cx="451.5" cy="938.6" r="9.6"/>
<circle cx="451.5" cy="945.2" r="9.6"/>
<circle cx="451.6" cy="927.2" r="9.6"/>
<circle cx="451.8" cy="946.7" r="9.6"/>
<circle cx="452.0" cy="942.9" r="9.6"/>
<circle cx="452.8" cy="923.6" r="9.6"/>
<circle cx="453.1" cy="937.7" r="9.6"/>
<circle cx="453.8" cy="939.6" r="9.6"/>
<circle cx="453.9" cy="895.8" r="9.6"/>
<circle cx="454.2" cy="890.0" r="9.6"/>
<circle cx="454.2" cy="946.6" r="9.6"/>
<circle cx="454.6" cy="946.8" r="9.6"/>
<circle cx="455.0" cy="822.0" r="9.6"/>
<circle cx="455.4" cy="911.9" r="9.6"/>
<circle cx="455.8" cy="861.0" r="9.6"/>
<circle cx="455.9" cy="937.6" r="9.6"/>
<circle cx="456.0" cy="921.6" r="9.6"/>
<circle cx="456.6" cy="933.2" r="9.6"/>
<circle cx="457.1" cy="885.4" r="9.6"/>
<circle cx="457.7" cy="924.4" r="9.6"/>
<circle cx="457.7" cy="937.0" r="9.6"/>
<circle cx="457.7" cy="942.7" r="9.6"/>
<circle cx="457.7" cy="936.0" r="9.6"/>
<circle cx="457.7" cy="942.9" r="9.6"/>
<circle cx="457.8" cy="921.5" r="9.6"/>
<circle cx="458.0" cy="800.0" r="9.6"/>
<circle cx="458.0" cy="901.0" r="9.6"/>
<circle cx="458.2" cy="912.9" r="9.6"/>
<circle cx="458.3" cy="936.0" r="9.6"/>
<circle cx="458.8" cy="944.8" r="9.6"/>
<circle cx="458.8" cy="929.3" r="9.6"/>
<circle cx="459.2" cy="942.2" r="9.6"/>
<circle cx="459.2" cy="938.4" r="9.6"/>
<circle cx="459.5" cy="943.2" r="9.6"/>
<circle cx="459.6" cy="945.0" r="9.6"/>
<circle cx="459.9" cy="874.3" r="9.6"/>
<circle cx="460.0" cy="942.3" r="9.6"/>
<circle cx="460.2" cy="898.2" r="9.6"/>
<circle cx="461.5" cy="891.9" r="9.6"/>
<circle cx="462.3" cy="940.6" r="9.6"/>
<circle cx="462.9" cy="921.5" r="9.6"/>
<circle cx="463.1" cy="936.6" r="9.6"/>
<circle cx="463.3" cy="841.1" r="9.6"/>
<circle cx="464.0" cy="942.1" r="9.6"/>
<circle cx="464.0" cy="941.3" r="9.6"/>
<circle cx="464.3" cy="931.3" r="9.6"/>
<circle cx="464.3" cy="905.6" r="9.6"/>
<circle cx="464.5" cy="942.9" r="9.6"/>
<circle cx="464.7" cy="891.5" r="9.6"/>
<circle cx="466.7" cy="884.8" r="9.6"/>
<circle cx="467.2" cy="912.0" r="9.6"/>
<circle cx="467.3" cy="932.3" r="9.6"/>
<circle cx="467.7" cy="941.1" r="9.6"/>
<circle cx="467.8" cy="934.8" r="9.6"/>
<circle cx="468.0" cy="942.9" r="9.6"/>
<circle cx="468.9" cy="937.9" r="9.6"/>
<circle cx="469.0" cy="934.2" r="9.6"/>
<circle cx="469.2" cy="944.3" r="9.6"/>
<circle cx="469.8" cy="932.5" r="9.6"/>
<circle cx="469.8" cy="946.2" r="9.6"/>
<circle cx="470.6" cy="945.7" r="9.6"/>
<circle cx="471.0" cy="908.8" r="9.6"/>
<circle cx="471.4" cy="924.1" r="9.6"/>
<circle cx="471.7" cy="935.9" r="9.6"/>
<circle cx="472.4" cy="847.7" r="9.6"/>
<circle cx="472.9" cy="936.1" r="9.6"/>
<circle cx="473.2" cy="872.6" r="9.6"/>
<circle cx="474.5" cy="928.3" r="9.6"/>
<circle cx="475.0" cy="936.3" r="9.6"/>
<circle cx="475.0" cy="944.5" r="9.6"/>
<circle cx="475.8" cy="892.4" r="9.6"/>
<circle cx="476.1" cy="890.3" r="9.6"/>
<circle cx="476.5" cy="940.9" r="9.6"/>
<circle cx="476.8" cy="916.6" r="9.6"/>
<circle cx="476.8" cy="928.7" r="9.6"/>
<circle cx="477.1" cy="943.8" r="9.6"/>
<circle cx="477.5" cy="942.4" r="9.6"/>
<circle cx="477.7" cy="945.4" r="9.6"/>
<circle cx="477.9" cy="929.6" r="9.6"/>
<circle cx="478.2" cy="940.5" r="9.6"/>
<circle cx="478.6" cy="946.0" r="9.6"/>
<circle cx="478.7" cy="927.0" r="9.6"/>
<circle cx="479.4" cy="935.9" r="9.6"/>
<circle cx="479.8" cy="842.8" r="9.6"/>
<circle cx="479.8" cy="938.8" r="9.6"/>
<circle cx="480.3" cy="909.2" r="9.6"/>
<circle cx="480.5" cy="944.1" r="9.6"/>
<circle cx="480.7" cy="942.8" r="9.6"/>
<circle cx="480.8" cy="944.2" r="9.6"/>
<circle cx="481.1" cy="902.5" r="9.6"/>
<circle cx="481.3" cy="940.7" r="9.6"/>
<circle cx="481.5" cy="831.2" r="9.6"/>
<circle cx="481.5" cy="933.7" r="9.6"/>
<circle cx="482.2" cy="946.1" r="9.6"/>
<circle cx="482.3" cy="933.2" r="9.6"/>
<circle cx="482.7" cy="926.0" r="9.6"/>
<circle cx="482.9" cy="908.4" r="9.6"/>
<circle cx="482.9" cy="907.2" r="9.6"/>
<circle cx="483.1" cy="944.0" r="9.6"/>
<circle cx="483.3" cy="928.6" r="9.6"/>
<circle cx="483.4" cy="909.0" r="9.6"/>
<circle cx="483.5" cy="928.7" r="9.6"/>
<circle cx="483.6" cy="945.5" r="9.6"/>
<circle cx="483.9" cy="926.2" r="9.6"/>
<circle cx="484.1" cy="946.7" r="9.6"/>
<circle cx="484.1" cy="935.1" r="9.6"/>
<circle cx="484.3" cy="911.5" r="9.6"/>
<circle cx="484.4" cy="944.6" r="9.6"/>
<circle cx="484.4" cy="942.5" r="9.6"/>
<circle cx="484.8" cy="874.3" r="9.6"/>
<circle cx="484.9" cy="923.3" r="9.6"/>
<circle cx="485.0" cy="939.8" r="9.6"/>
<circle cx="485.5" cy="945.2" r="9.6"/>
<circle cx="485.6" cy="938.2" r="9.6"/>
<circle cx="485.9" cy="915.5" r="9.6"/>
<circle cx="486.0" cy="886.7" r="9.6"/>
<circle cx="486.6" cy="946.6" r="9.6"/>
<circle cx="486.7" cy="946.4" r="9.6"/>
<circle cx="486.9" cy="940.3" r="9.6"/>
<circle cx="487.3" cy="942.8" r="9.6"/>
<circle cx="487.4" cy="941.1" r="9.6"/>
<circle cx="487.9" cy="927.6" r="9.6"/>
<circle cx="488.2" cy="946.6" r="9.6"/>
<circle cx="488.4" cy="941.9" r="9.6"/>
<circle cx="488.4" cy="943.0" r="9.6"/>
<circle cx="489.1" cy="903.2" r="9.6"/>
<circle cx="489.2" cy="942.2" r="9.6"/>
<circle cx="489.4" cy="916.4" r="9.6"/>
<circle cx="489.7" cy="940.1" r="9.6"/>
<circle cx="489.7" cy="944.7" r="9.6"/>
<circle cx="489.8" cy="822.9" r="9.6"/>
<circle cx="489.8" cy="897.4" r="9.6"/>
<circle cx="489.9" cy="914.3" r="9.6"/>
<circle cx="490.1" cy="934.0" r="9.6"/>
<circle cx="490.2" cy="944.4" r="9.6"/>
<circle cx="490.9" cy="945.2" r="9.6"/>
<circle cx="491.9" cy="923.3" r="9.6"/>
<circle cx="492.0" cy="938.2" r="9.6"/>
<circle cx="492.0" cy="946.9" r="9.6"/>
<circle cx="492.3" cy="933.0" r="9.6"/>
<circle cx="492.4" cy="901.0" r="9.6"/>
<circle cx="492.7" cy="929.1" r="9.6"/>
<circle cx="492.9" cy="942.6" r="9.6"/>
<circle cx="493.1" cy="821.2" r="9.6"/>
<circle cx="493.2" cy="886.9" r="9.6"/>
<circle cx="493.4" cy="940.9" r="9.6"/>
<circle cx="493.5" cy="932.2" r="9.6"/>
<circle cx="493.9" cy="939.5" r="9.6"/>
<circle cx="494.6" cy="909.3" r="9.6"/>
<circle cx="494.6" cy="935.9" r="9.6"/>
<circle cx="495.8" cy="945.1" r="9.6"/>
<circle cx="495.8" cy="938.0" r="9.6"/>
<circle cx="496.4" cy="817.9" r="9.6"/>
<circle cx="496.4" cy="877.6" r="9.6"/>
<circle cx="496.5" cy="910.8" r="9.6"/>
<circle cx="497.1" cy="926.8" r="9.6"/>
<circle cx="497.8" cy="939.1" r="9.6"/>
<circle cx="498.1" cy="903.2" r="9.6"/>
<circle cx="498.2" cy="942.1" r="9.6"/>
<circle cx="498.2" cy="886.8" r="9.6"/>
<circle cx="498.5" cy="932.1" r="9.6"/>
<circle cx="498.9" cy="915.3" r="9.6"/>
<circle cx="499.0" cy="915.9" r="9.6"/>
<circle cx="499.1" cy="939.6" r="9.6"/>
<circle cx="499.1" cy="944.0" r="9.6"/>
<circle cx="499.5" cy="914.3" r="9.6"/>
<circle cx="499.7" cy="923.2" r="9.6"/>
<circle cx="499.7" cy="816.2" r="9.6"/>
<circle cx="500.0" cy="889.5" r="9.6"/>
<circle cx="500.0" cy="924.8" r="9.6"/>
<circle cx="500.4" cy="891.9" r="9.6"/>
<circle cx="500.4" cy="922.3" r="9.6"/>
<circle cx="500.6" cy="861.0" r="9.6"/>
<circle cx="500.7" cy="913.4" r="9.6"/>
<circle cx="500.8" cy="922.2" r="9.6"/>
<circle cx="500.9" cy="941.6" r="9.6"/>
<circle cx="501.2" cy="940.4" r="9.6"/>
<circle cx="501.6" cy="945.3" r="9.6"/>
<circle cx="501.9" cy="945.9" r="9.6"/>
<circle cx="501.9" cy="931.6" r="9.6"/>
<circle cx="502.1" cy="944.4" r="9.6"/>
<circle cx="503.0" cy="821.2" r="9.6"/>
<circle cx="503.8" cy="934.1" r="9.6"/>
<circle cx="503.9" cy="898.0" r="9.6"/>
<circle cx="504.2" cy="936.3" r="9.6"/>
<circle cx="504.3" cy="892.5" r="9.6"/>
<circle cx="504.7" cy="902.7" r="9.6"/>
<circle cx="504.7" cy="922.6" r="9.6"/>
<circle cx="504.9" cy="914.2" r="9.6"/>
<circle cx="506.3" cy="943.6" r="9.6"/>
<circle cx="506.7" cy="933.7" r="9.6"/>
<circle cx="506.9" cy="941.5" r="9.6"/>
<circle cx="507.1" cy="919.4" r="9.6"/>
<circle cx="507.4" cy="942.8" r="9.6"/>
<circle cx="507.6" cy="917.8" r="9.6"/>
<circle cx="508.0" cy="824.5" r="9.6"/>
<circle cx="508.6" cy="924.9" r="9.6"/>
<circle cx="509.0" cy="880.7" r="9.6"/>
<circle cx="510.4" cy="877.2" r="9.6"/>
<circle cx="510.5" cy="942.4" r="9.6"/>
<circle cx="510.8" cy="898.2" r="9.6"/>
<circle cx="510.8" cy="946.0" r="9.6"/>
<circle cx="510.9" cy="923.8" r="9.6"/>
<circle cx="511.4" cy="936.4" r="9.6"/>
<circle cx="512.0" cy="943.5" r="9.6"/>
<circle cx="512.5" cy="930.9" r="9.6"/>
<circle cx="512.9" cy="891.1" r="9.6"/>
<circle cx="513.0" cy="801.0" r="9.6"/>
<circle cx="513.0" cy="874.3" r="9.6"/>
<circle cx="513.1" cy="936.4" r="9.6"/>
<circle cx="513.3" cy="899.5" r="9.6"/>
<circle cx="513.6" cy="879.4" r="9.6"/>
<circle cx="514.3" cy="929.2" r="9.6"/>
<circle cx="514.5" cy="899.3" r="9.6"/>
<circle cx="514.6" cy="827.9" r="9.6"/>
<circle cx="514.9" cy="944.4" r="9.6"/>
<circle cx="515.1" cy="937.3" r="9.6"/>
<circle cx="515.5" cy="908.4" r="9.6"/>
<circle cx="515.5" cy="943.4" r="9.6"/>
<circle cx="516.1" cy="933.8" r="9.6"/>
<circle cx="516.6" cy="905.0" r="9.6"/>
<circle cx="517.0" cy="946.3" r="9.6"/>
<circle cx="517.3" cy="894.2" r="9.6"/>
<circle cx="517.4" cy="934.1" r="9.6"/>
<circle cx="518.0" cy="856.0" r="9.6"/>
<circle cx="518.5" cy="939.7" r="9.6"/>
<circle cx="518.5" cy="914.1" r="9.6"/>
<circle cx="519.2" cy="934.9" r="9.6"/>
<circle cx="519.7" cy="932.2" r="9.6"/>
<circle cx="519.7" cy="884.7" r="9.6"/>
<circle cx="520.4" cy="905.4" r="9.6"/>
<circle cx="520.5" cy="900.6" r="9.6"/>
<circle cx="520.7" cy="920.9" r="9.6"/>
<circle cx="520.8" cy="900.8" r="9.6"/>
<circle cx="520.9" cy="944.6" r="9.6"/>
<circle cx="521.6" cy="904.3" r="9.6"/>
<circle cx="522.0" cy="944.3" r="9.6"/>
<circle cx="522.2" cy="937.8" r="9.6"/>
<circle cx="522.3" cy="905.6" r="9.6"/>
<circle cx="522.6" cy="879.6" r="9.6"/>
<circle cx="522.6" cy="928.7" r="9.6"/>
<circle cx="522.7" cy="942.9" r="9.6"/>
<circle cx="522.9" cy="861.0" r="9.6"/>
<circle cx="523.2" cy="945.6" r="9.6"/>
<circle cx="523.3" cy="942.3" r="9.6"/>
<circle cx="523.6" cy="886.4" r="9.6"/>
<circle cx="524.0" cy="945.4" r="9.6"/>
<circle cx="524.1" cy="906.7" r="9.6"/>
<circle cx="524.5" cy="921.9" r="9.6"/>
<circle cx="525.0" cy="933.4" r="9.6"/>
<circle cx="525.1" cy="916.0" r="9.6"/>
<circle cx="525.4" cy="906.8" r="9.6"/>
<circle cx="525.6" cy="934.2" r="9.6"/>
<circle cx="525.7" cy="885.9" r="9.6"/>
<circle cx="525.9" cy="920.6" r="9.6"/>
<circle cx="526.1" cy="878.3" r="9.6"/>
<circle cx="527.1" cy="823.7" r="9.6"/>
<circle cx="527.1" cy="936.9" r="9.6"/>
<circle cx="527.3" cy="922.9" r="9.6"/>
<circle cx="527.6" cy="809.6" r="9.6"/>
<circle cx="527.7" cy="910.7" r="9.6"/>
<circle cx="527.9" cy="937.1" r="9.6"/>
<circle cx="528.3" cy="944.2" r="9.6"/>
<circle cx="528.4" cy="931.7" r="9.6"/>
<circle cx="528.4" cy="944.4" r="9.6"/>
<circle cx="529.1" cy="943.8" r="9.6"/>
<circle cx="529.4" cy="921.7" r="9.6"/>
<circle cx="529.5" cy="946.1" r="9.6"/>
<circle cx="529.6" cy="862.7" r="9.6"/>
<circle cx="529.6" cy="875.9" r="9.6"/>
<circle cx="530.0" cy="937.5" r="9.6"/>
<circle cx="530.3" cy="946.1" r="9.6"/>
<circle cx="530.3" cy="943.4" r="9.6"/>
<circle cx="530.3" cy="943.6" r="9.6"/>
<circle cx="530.4" cy="927.0" r="9.6"/>
<circle cx="530.5" cy="924.0" r="9.6"/>
<circle cx="530.6" cy="910.4" r="9.6"/>
<circle cx="530.7" cy="929.6" r="9.6"/>
<circle cx="530.9" cy="943.6" r="9.6"/>
<circle cx="531.0" cy="883.2" r="9.6"/>
<circle cx="531.1" cy="945.6" r="9.6"/>
<circle cx="531.6" cy="939.4" r="9.6"/>
<circle cx="532.0" cy="930.6" r="9.6"/>
<circle cx="532.2" cy="931.9" r="9.6"/>
<circle cx="532.5" cy="914.1" r="9.6"/>
<circle cx="532.6" cy="884.5" r="9.6"/>
<circle cx="533.0" cy="945.9" r="9.6"/>
<circle cx="533.0" cy="934.9" r="9.6"/>
<circle cx="533.3" cy="887.8" r="9.6"/>
<circle cx="533.4" cy="934.2" r="9.6"/>
<circle cx="533.5" cy="940.6" r="9.6"/>
<circle cx="533.6" cy="937.3" r="9.6"/>
<circle cx="534.2" cy="879.4" r="9.6"/>
<circle cx="534.4" cy="888.6" r="9.6"/>
<circle cx="534.9" cy="928.4" r="9.6"/>
<circle cx="535.0" cy="899.9" r="9.6"/>
<circle cx="535.6" cy="940.6" r="9.6"/>
<circle cx="535.7" cy="942.2" r="9.6"/>
<circle cx="535.7" cy="897.6" r="9.6"/>
<circle cx="535.8" cy="938.9" r="9.6"/>
<circle cx="536.4" cy="893.8" r="9.6"/>
<circle cx="536.5" cy="920.1" r="9.6"/>
<circle cx="536.9" cy="941.1" r="9.6"/>
<circle cx="537.2" cy="934.1" r="9.6"/>
<circle cx="537.7" cy="916.7" r="9.6"/>
<circle cx="538.0" cy="900.4" r="9.6"/>
<circle cx="538.1" cy="941.2" r="9.6"/>
<circle cx="538.1" cy="943.1" r="9.6"/>
<circle cx="538.2" cy="909.8" r="9.6"/>
<circle cx="538.6" cy="929.7" r="9.6"/>
<circle cx="538.8" cy="933.5" r="9.6"/>
<circle cx="538.9" cy="912.6" r="9.6"/>
<circle cx="538.9" cy="935.4" r="9.6"/>
<circle cx="539.2" cy="927.5" r="9.6"/>
<circle cx="539.3" cy="941.3" r="9.6"/>
<circle cx="539.4" cy="938.7" r="9.6"/>
<circle cx="540.0" cy="944.7" r="9.6"/>
<circle cx="540.8" cy="804.6" r="9.6"/>
<circle cx="541.2" cy="945.6" r="9.6"/>
<circle cx="541.9" cy="930.6" r="9.6"/>
<circle cx="542.1" cy="928.5" r="9.6"/>
<circle cx="542.7" cy="939.0" r="9.6"/>
<circle cx="542.7" cy="912.2" r="9.6"/>
<circle cx="542.8" cy="875.9" r="9.6"/>
<circle cx="543.2" cy="926.2" r="9.6"/>
<circle cx="543.3" cy="916.8" r="9.6"/>
<circle cx="543.6" cy="937.9" r="9.6"/>
<circle cx="543.6" cy="944.3" r="9.6"/>
<circle cx="543.7" cy="941.7" r="9.6"/>
<circle cx="543.7" cy="926.6" r="9.6"/>
<circle cx="543.8" cy="933.5" r="9.6"/>
<circle cx="544.1" cy="898.6" r="9.6"/>
<circle cx="544.4" cy="946.9" r="9.6"/>
<circle cx="544.5" cy="862.7" r="9.6"/>
<circle cx="544.7" cy="890.6" r="9.6"/>
<circle cx="546.0" cy="917.4" r="9.6"/>
<circle cx="546.1" cy="907.2" r="9.6"/>
<circle cx="546.2" cy="945.8" r="9.6"/>
<circle cx="546.5" cy="943.6" r="9.6"/>
<circle cx="546.6" cy="946.6" r="9.6"/>
<circle cx="547.2" cy="943.0" r="9.6"/>
<circle cx="547.3" cy="944.4" r="9.6"/>
<circle cx="547.7" cy="936.1" r="9.6"/>
<circle cx="547.8" cy="830.3" r="9.6"/>
<circle cx="548.0" cy="937.9" r="9.6"/>
<circle cx="549.0" cy="906.2" r="9.6"/>
<circle cx="549.1" cy="940.2" r="9.6"/>
<circle cx="549.2" cy="938.4" r="9.6"/>
<circle cx="549.3" cy="930.6" r="9.6"/>
<circle cx="549.3" cy="918.0" r="9.6"/>
<circle cx="549.3" cy="909.6" r="9.6"/>
<circle cx="549.4" cy="935.3" r="9.6"/>
<circle cx="549.5" cy="838.6" r="9.6"/>
<circle cx="550.9" cy="939.9" r="9.6"/>
<circle cx="550.9" cy="940.6" r="9.6"/>
<circle cx="551.4" cy="882.4" r="9.6"/>
<circle cx="551.9" cy="891.3" r="9.6"/>
<circle cx="552.1" cy="930.5" r="9.6"/>
<circle cx="552.1" cy="942.0" r="9.6"/>
<circle cx="553.5" cy="913.3" r="9.6"/>
<circle cx="554.0" cy="912.2" r="9.6"/>
<circle cx="554.0" cy="900.8" r="9.6"/>
<circle cx="554.4" cy="829.5" r="9.6"/>
<circle cx="554.9" cy="882.2" r="9.6"/>
<circle cx="556.0" cy="859.9" r="9.6"/>
<circle cx="556.0" cy="941.2" r="9.6"/>
<circle cx="556.3" cy="941.7" r="9.6"/>
<circle cx="556.4" cy="926.9" r="9.6"/>
<circle cx="556.8" cy="923.0" r="9.6"/>
<circle cx="557.7" cy="872.6" r="9.6"/>
<circle cx="557.9" cy="921.3" r="9.6"/>
<circle cx="558.1" cy="937.4" r="9.6"/>
<circle cx="558.6" cy="924.6" r="9.6"/>
<circle cx="558.9" cy="938.4" r="9.6"/>
<circle cx="559.1" cy="944.4" r="9.6"/>
<circle cx="559.5" cy="935.5" r="9.6"/>
<circle cx="559.6" cy="944.7" r="9.6"/>
<circle cx="560.3" cy="936.6" r="9.6"/>
<circle cx="561.1" cy="851.9" r="9.6"/>
<circle cx="561.2" cy="939.9" r="9.6"/>
<circle cx="561.2" cy="928.1" r="9.6"/>
<circle cx="561.2" cy="878.5" r="9.6"/>
<circle cx="561.8" cy="936.7" r="9.6"/>
<circle cx="561.9" cy="930.0" r="9.6"/>
<circle cx="562.1" cy="872.3" r="9.6"/>
<circle cx="562.7" cy="896.3" r="9.6"/>
<circle cx="562.8" cy="943.4" r="9.6"/>
<circle cx="563.0" cy="859.8" r="9.6"/>
<circle cx="563.1" cy="912.3" r="9.6"/>
<circle cx="564.0" cy="892.2" r="9.6"/>
<circle cx="564.0" cy="928.6" r="9.6"/>
<circle cx="564.3" cy="936.3" r="9.6"/>
<circle cx="564.5" cy="910.7" r="9.6"/>
<circle cx="566.7" cy="921.9" r="9.6"/>
<circle cx="566.8" cy="940.7" r="9.6"/>
<circle cx="566.9" cy="934.4" r="9.6"/>
<circle cx="567.0" cy="946.6" r="9.6"/>
<circle cx="567.1" cy="912.3" r="9.6"/>
<circle cx="567.3" cy="922.3" r="9.6"/>
<circle cx="567.4" cy="936.8" r="9.6"/>
<circle cx="567.5" cy="932.7" r="9.6"/>
<circle cx="568.0" cy="920.4" r="9.6"/>
<circle cx="568.7" cy="942.4" r="9.6"/>
<circle cx="568.7" cy="942.8" r="9.6"/>
<circle cx="569.3" cy="872.6" r="9.6"/>
<circle cx="569.5" cy="938.5" r="9.6"/>
<circle cx="569.9" cy="916.3" r="9.6"/>
<circle cx="570.0" cy="860.2" r="9.6"/>
<circle cx="570.0" cy="942.3" r="9.6"/>
<circle cx="570.0" cy="907.1" r="9.6"/>
<circle cx="570.2" cy="829.5" r="9.6"/>
<circle cx="570.8" cy="931.7" r="9.6"/>
<circle cx="571.5" cy="944.3" r="9.6"/>
<circle cx="572.4" cy="897.9" r="9.6"/>
<circle cx="572.4" cy="943.6" r="9.6"/>
<circle cx="572.7" cy="857.7" r="9.6"/>
<circle cx="573.4" cy="893.9" r="9.6"/>
<circle cx="573.5" cy="937.0" r="9.6"/>
<circle cx="573.8" cy="914.5" r="9.6"/>
<circle cx="573.8" cy="934.3" r="9.6"/>
<circle cx="573.9" cy="898.7" r="9.6"/>
<circle cx="574.2" cy="928.4" r="9.6"/>
<circle cx="574.4" cy="943.6" r="9.6"/>
<circle cx="574.9" cy="924.4" r="9.6"/>
<circle cx="575.6" cy="908.1" r="9.6"/>
<circle cx="575.6" cy="927.2" r="9.6"/>
<circle cx="575.6" cy="920.5" r="9.6"/>
<circle cx="575.6" cy="933.8" r="9.6"/>
<circle cx="575.6" cy="946.9" r="9.6"/>
<circle cx="575.7" cy="897.2" r="9.6"/>
<circle cx="576.3" cy="938.3" r="9.6"/>
<circle cx="576.5" cy="906.7" r="9.6"/>
<circle cx="576.7" cy="931.0" r="9.6"/>
<circle cx="577.0" cy="859.7" r="9.6"/>
<circle cx="577.1" cy="916.5" r="9.6"/>
<circle cx="577.3" cy="939.6" r="9.6"/>
<circle cx="577.6" cy="929.5" r="9.6"/>
<circle cx="577.6" cy="828.2" r="9.6"/>
<circle cx="578.9" cy="936.5" r="9.6"/>
<circle cx="579.2" cy="860.7" r="9.6"/>
<circle cx="579.3" cy="859.3" r="9.6"/>
<circle cx="579.6" cy="924.5" r="9.6"/>
<circle cx="579.7" cy="945.5" r="9.6"/>
<circle cx="580.1" cy="936.3" r="9.6"/>
<circle cx="580.2" cy="943.9" r="9.6"/>
<circle cx="580.3" cy="929.0" r="9.6"/>
<circle cx="580.6" cy="934.5" r="9.6"/>
<circle cx="582.2" cy="935.6" r="9.6"/>
<circle cx="582.6" cy="872.6" r="9.6"/>
<circle cx="582.8" cy="894.5" r="9.6"/>
<circle cx="583.1" cy="946.0" r="9.6"/>
<circle cx="583.8" cy="924.5" r="9.6"/>
<circle cx="583.9" cy="936.4" r="9.6"/>
<circle cx="584.6" cy="925.4" r="9.6"/>
<circle cx="585.2" cy="859.9" r="9.6"/>
<circle cx="585.2" cy="938.4" r="9.6"/>
<circle cx="585.5" cy="930.3" r="9.6"/>
<circle cx="586.6" cy="937.7" r="9.6"/>
<circle cx="586.8" cy="911.7" r="9.6"/>
<circle cx="587.0" cy="931.6" r="9.6"/>
<circle cx="587.0" cy="944.7" r="9.6"/>
<circle cx="587.0" cy="910.3" r="9.6"/>
<circle cx="587.0" cy="945.3" r="9.6"/>
<circle cx="587.3" cy="928.8" r="9.6"/>
<circle cx="588.1" cy="925.1" r="9.6"/>
<circle cx="588.1" cy="902.4" r="9.6"/>
<circle cx="588.2" cy="859.8" r="9.6"/>
<circle cx="588.4" cy="939.3" r="9.6"/>
<circle cx="588.4" cy="925.4" r="9.6"/>
<circle cx="589.4" cy="944.8" r="9.6"/>
<circle cx="590.2" cy="883.8" r="9.6"/>
<circle cx="590.3" cy="937.1" r="9.6"/>
<circle cx="590.4" cy="940.5" r="9.6"/>
<circle cx="591.1" cy="916.0" r="9.6"/>
<circle cx="591.3" cy="937.5" r="9.6"/>
<circle cx="591.6" cy="939.0" r="9.6"/>
<circle cx="591.8" cy="916.1" r="9.6"/>
<circle cx="592.1" cy="933.8" r="9.6"/>
<circle cx="592.5" cy="814.1" r="9.6"/>
<circle cx="592.5" cy="859.3" r="9.6"/>
<circle cx="592.7" cy="933.7" r="9.6"/>
<circle cx="593.6" cy="944.8" r="9.6"/>
<circle cx="593.8" cy="928.2" r="9.6"/>
<circle cx="594.2" cy="860.2" r="9.6"/>
<circle cx="594.3" cy="945.7" r="9.6"/>
<circle cx="594.5" cy="944.6" r="9.6"/>
<circle cx="595.4" cy="939.6" r="9.6"/>
<circle cx="595.9" cy="874.3" r="9.6"/>
<circle cx="596.0" cy="926.5" r="9.6"/>
<circle cx="596.4" cy="944.5" r="9.6"/>
<circle cx="596.6" cy="943.2" r="9.6"/>
<circle cx="596.9" cy="940.6" r="9.6"/>
<circle cx="597.1" cy="919.5" r="9.6"/>
<circle cx="597.2" cy="945.8" r="9.6"/>
<circle cx="598.0" cy="902.3" r="9.6"/>
<circle cx="598.3" cy="918.0" r="9.6"/>
<circle cx="598.3" cy="944.4" r="9.6"/>
<circle cx="599.1" cy="938.0" r="9.6"/>
<circle cx="599.5" cy="920.1" r="9.6"/>
<circle cx="599.5" cy="913.2" r="9.6"/>
<circle cx="599.6" cy="935.5" r="9.6"/>
<circle cx="599.6" cy="895.5" r="9.6"/>
<circle cx="600.0" cy="931.9" r="9.6"/>
<circle cx="600.3" cy="929.6" r="9.6"/>
<circle cx="600.4" cy="895.0" r="9.6"/>
<circle cx="600.6" cy="920.2" r="9.6"/>
<circle cx="600.8" cy="885.4" r="9.6"/>
<circle cx="600.8" cy="899.3" r="9.6"/>
<circle cx="601.2" cy="860.2" r="9.6"/>
<circle cx="601.8" cy="945.9" r="9.6"/>
<circle cx="601.8" cy="931.6" r="9.6"/>
<circle cx="602.1" cy="906.3" r="9.6"/>
<circle cx="602.3" cy="917.7" r="9.6"/>
<circle cx="602.5" cy="814.6" r="9.6"/>
<circle cx="602.6" cy="944.3" r="9.6"/>
<circle cx="603.3" cy="903.4" r="9.6"/>
<circle cx="603.5" cy="900.1" r="9.6"/>
<circle cx="603.7" cy="932.7" r="9.6"/>
<circle cx="603.8" cy="946.9" r="9.6"/>
<circle cx="603.9" cy="944.5" r="9.6"/>
<circle cx="604.0" cy="941.6" r="9.6"/>
<circle cx="604.2" cy="859.9" r="9.6"/>
<circle cx="605.0" cy="935.8" r="9.6"/>
<circle cx="605.7" cy="932.7" r="9.6"/>
<circle cx="605.8" cy="928.1" r="9.6"/>
<circle cx="606.0" cy="937.5" r="9.6"/>
<circle cx="606.7" cy="936.2" r="9.6"/>
<circle cx="607.0" cy="927.2" r="9.6"/>
<circle cx="607.1" cy="895.2" r="9.6"/>
<circle cx="607.1" cy="941.4" r="9.6"/>
<circle cx="607.2" cy="860.6" r="9.6"/>
<circle cx="607.3" cy="941.3" r="9.6"/>
<circle cx="607.5" cy="859.3" r="9.6"/>
<circle cx="607.5" cy="939.9" r="9.6"/>
<circle cx="607.7" cy="916.9" r="9.6"/>
<circle cx="608.6" cy="895.8" r="9.6"/>
<circle cx="608.6" cy="920.2" r="9.6"/>
<circle cx="608.7" cy="945.9" r="9.6"/>
<circle cx="608.8" cy="944.2" r="9.6"/>
<circle cx="609.1" cy="940.1" r="9.6"/>
<circle cx="609.1" cy="872.6" r="9.6"/>
<circle cx="609.7" cy="918.6" r="9.6"/>
<circle cx="609.7" cy="945.4" r="9.6"/>
<circle cx="610.2" cy="935.0" r="9.6"/>
<circle cx="610.3" cy="912.4" r="9.6"/>
<circle cx="610.4" cy="927.4" r="9.6"/>
<circle cx="612.2" cy="946.2" r="9.6"/>
<circle cx="612.4" cy="945.9" r="9.6"/>
<circle cx="613.0" cy="937.7" r="9.6"/>
<circle cx="613.0" cy="940.9" r="9.6"/>
<circle cx="613.6" cy="943.0" r="9.6"/>
<circle cx="613.9" cy="900.4" r="9.6"/>
<circle cx="614.1" cy="944.4" r="9.6"/>
<circle cx="614.2" cy="906.2" r="9.6"/>
<circle cx="614.2" cy="860.1" r="9.6"/>
<circle cx="614.6" cy="946.5" r="9.6"/>
<circle cx="615.3" cy="934.2" r="9.6"/>
<circle cx="615.5" cy="931.2" r="9.6"/>
<circle cx="616.0" cy="878.4" r="9.6"/>
<circle cx="616.0" cy="911.0" r="9.6"/>
<circle cx="616.1" cy="941.8" r="9.6"/>
<circle cx="616.1" cy="927.3" r="9.6"/>
<circle cx="616.3" cy="946.0" r="9.6"/>
<circle cx="616.4" cy="860.4" r="9.6"/>
<circle cx="617.0" cy="937.0" r="9.6"/>
<circle cx="617.0" cy="942.9" r="9.6"/>
<circle cx="617.0" cy="941.7" r="9.6"/>
<circle cx="617.1" cy="936.6" r="9.6"/>
<circle cx="617.7" cy="814.1" r="9.6"/>
<circle cx="617.8" cy="915.7" r="9.6"/>
<circle cx="617.8" cy="900.0" r="9.6"/>
<circle cx="617.9" cy="908.0" r="9.6"/>
<circle cx="618.2" cy="927.6" r="9.6"/>
<circle cx="618.2" cy="942.3" r="9.6"/>
<circle cx="618.6" cy="859.8" r="9.6"/>
<circle cx="619.1" cy="859.3" r="9.6"/>
<circle cx="619.1" cy="897.6" r="9.6"/>
<circle cx="619.2" cy="945.0" r="9.6"/>
<circle cx="619.8" cy="917.0" r="9.6"/>
<circle cx="620.0" cy="930.5" r="9.6"/>
<circle cx="620.8" cy="911.4" r="9.6"/>
<circle cx="620.8" cy="941.1" r="9.6"/>
<circle cx="620.8" cy="879.0" r="9.6"/>
<circle cx="621.1" cy="942.4" r="9.6"/>
<circle cx="621.8" cy="911.6" r="9.6"/>
<circle cx="622.1" cy="946.0" r="9.6"/>
<circle cx="622.2" cy="946.8" r="9.6"/>
<circle cx="622.3" cy="918.3" r="9.6"/>
<circle cx="622.4" cy="872.6" r="9.6"/>
<circle cx="622.9" cy="842.8" r="9.6"/>
<circle cx="623.4" cy="941.1" r="9.6"/>
<circle cx="625.0" cy="921.8" r="9.6"/>
<circle cx="625.0" cy="905.6" r="9.6"/>
<circle cx="625.1" cy="906.9" r="9.6"/>
<circle cx="625.4" cy="935.0" r="9.6"/>
<circle cx="625.4" cy="881.1" r="9.6"/>
<circle cx="625.6" cy="859.7" r="9.6"/>
<circle cx="625.8" cy="930.0" r="9.6"/>
<circle cx="626.1" cy="935.4" r="9.6"/>
<circle cx="627.1" cy="935.2" r="9.6"/>
<circle cx="627.3" cy="941.4" r="9.6"/>
<circle cx="627.5" cy="919.6" r="9.6"/>
<circle cx="627.8" cy="860.6" r="9.6"/>
<circle cx="628.1" cy="938.7" r="9.6"/>
<circle cx="628.2" cy="920.5" r="9.6"/>
<circle cx="628.3" cy="941.5" r="9.6"/>
<circle cx="628.8" cy="896.1" r="9.6"/>
<circle cx="629.1" cy="926.8" r="9.6"/>
<circle cx="629.5" cy="917.4" r="9.6"/>
<circle cx="629.5" cy="928.9" r="9.6"/>
<circle cx="629.8" cy="938.7" r="9.6"/>
<circle cx="630.0" cy="940.4" r="9.6"/>
<circle cx="630.7" cy="930.9" r="9.6"/>
<circle cx="631.6" cy="930.5" r="9.6"/>
<circle cx="632.0" cy="871.9" r="9.6"/>
<circle cx="632.0" cy="931.0" r="9.6"/>
<circle cx="632.2" cy="930.8" r="9.6"/>
<circle cx="632.3" cy="860.2" r="9.6"/>
<circle cx="632.9" cy="895.7" r="9.6"/>
<circle cx="633.0" cy="939.0" r="9.6"/>
<circle cx="633.0" cy="907.9" r="9.6"/>
<circle cx="633.6" cy="931.4" r="9.6"/>
<circle cx="633.7" cy="861.0" r="9.6"/>
<circle cx="634.1" cy="928.2" r="9.6"/>
<circle cx="634.3" cy="936.1" r="9.6"/>
<circle cx="634.4" cy="891.4" r="9.6"/>
<circle cx="634.6" cy="941.6" r="9.6"/>
<circle cx="635.6" cy="874.3" r="9.6"/>
<circle cx="635.7" cy="914.3" r="9.6"/>
<circle cx="636.7" cy="940.7" r="9.6"/>
<circle cx="636.8" cy="935.5" r="9.6"/>
<circle cx="637.2" cy="941.1" r="9.6"/>
<circle cx="637.3" cy="880.4" r="9.6"/>
<circle cx="637.4" cy="934.9" r="9.6"/>
<circle cx="637.5" cy="937.1" r="9.6"/>
<circle cx="637.5" cy="889.8" r="9.6"/>
<circle cx="637.6" cy="946.3" r="9.6"/>
<circle cx="637.7" cy="923.3" r="9.6"/>
<circle cx="637.8" cy="927.8" r="9.6"/>
<circle cx="638.0" cy="933.4" r="9.6"/>
<circle cx="638.0" cy="909.7" r="9.6"/>
<circle cx="638.3" cy="860.5" r="9.6"/>
<circle cx="638.4" cy="946.1" r="9.6"/>
<circle cx="638.4" cy="932.0" r="9.6"/>
<circle cx="639.3" cy="941.7" r="9.6"/>
<circle cx="639.5" cy="909.8" r="9.6"/>
<circle cx="639.5" cy="935.1" r="9.6"/>
<circle cx="640.1" cy="946.8" r="9.6"/>
<circle cx="641.0" cy="928.9" r="9.6"/>
<circle cx="641.2" cy="908.0" r="9.6"/>
<circle cx="641.4" cy="920.5" r="9.6"/>
<circle cx="641.5" cy="939.7" r="9.6"/>
<circle cx="641.7" cy="897.3" r="9.6"/>
<circle cx="641.7" cy="936.7" r="9.6"/>
<circle cx="642.1" cy="929.3" r="9.6"/>
<circle cx="642.1" cy="879.2" r="9.6"/>
<circle cx="642.2" cy="946.1" r="9.6"/>
<circle cx="642.9" cy="932.7" r="9.6"/>
<circle cx="643.0" cy="935.1" r="9.6"/>
<circle cx="643.5" cy="937.6" r="9.6"/>
<circle cx="643.7" cy="939.5" r="9.6"/>
<circle cx="644.2" cy="946.4" r="9.6"/>
<circle cx="644.3" cy="860.1" r="9.6"/>
<circle cx="644.4" cy="937.2" r="9.6"/>
<circle cx="644.7" cy="939.4" r="9.6"/>
<circle cx="644.8" cy="814.1" r="9.6"/>
<circle cx="645.0" cy="907.2" r="9.6"/>
<circle cx="645.2" cy="946.8" r="9.6"/>
<circle cx="645.4" cy="939.6" r="9.6"/>
<circle cx="645.5" cy="942.9" r="9.6"/>
<circle cx="646.0" cy="941.8" r="9.6"/>
<circle cx="646.1" cy="937.9" r="9.6"/>
<circle cx="646.1" cy="946.2" r="9.6"/>
<circle cx="647.3" cy="946.4" r="9.6"/>
<circle cx="648.0" cy="943.1" r="9.6"/>
<circle cx="648.0" cy="933.3" r="9.6"/>
<circle cx="648.1" cy="946.0" r="9.6"/>
<circle cx="648.9" cy="875.9" r="9.6"/>
<circle cx="649.0" cy="940.0" r="9.6"/>
<circle cx="650.5" cy="924.3" r="9.6"/>
<circle cx="650.6" cy="860.2" r="9.6"/>
<circle cx="650.6" cy="929.4" r="9.6"/>
<circle cx="651.4" cy="925.5" r="9.6"/>
<circle cx="651.5" cy="940.6" r="9.6"/>
<circle cx="653.3" cy="945.7" r="9.6"/>
<circle cx="653.4" cy="937.6" r="9.6"/>
<circle cx="653.5" cy="940.4" r="9.6"/>
<circle cx="654.2" cy="935.9" r="9.6"/>
<circle cx="654.3" cy="926.4" r="9.6"/>
<circle cx="654.4" cy="929.0" r="9.6"/>
<circle cx="654.5" cy="880.7" r="9.6"/>
<circle cx="654.7" cy="822.4" r="9.6"/>
<circle cx="654.7" cy="943.1" r="9.6"/>
<circle cx="654.7" cy="920.4" r="9.6"/>
<circle cx="654.8" cy="938.4" r="9.6"/>
<circle cx="655.2" cy="942.2" r="9.6"/>
<circle cx="655.8" cy="894.7" r="9.6"/>
<circle cx="656.0" cy="911.6" r="9.6"/>
<circle cx="657.1" cy="926.1" r="9.6"/>
<circle cx="657.6" cy="933.0" r="9.6"/>
<circle cx="657.8" cy="932.0" r="9.6"/>
<circle cx="658.7" cy="928.8" r="9.6"/>
<circle cx="658.8" cy="942.3" r="9.6"/>
<circle cx="658.9" cy="850.2" r="9.6"/>
<circle cx="659.3" cy="932.9" r="9.6"/>
<circle cx="659.4" cy="909.3" r="9.6"/>
<circle cx="659.7" cy="927.6" r="9.6"/>
<circle cx="660.0" cy="946.1" r="9.6"/>
<circle cx="660.1" cy="936.8" r="9.6"/>
<circle cx="660.4" cy="935.6" r="9.6"/>
<circle cx="660.5" cy="939.2" r="9.6"/>
<circle cx="660.5" cy="918.1" r="9.6"/>
<circle cx="660.5" cy="936.6" r="9.6"/>
<circle cx="661.1" cy="936.7" r="9.6"/>
<circle cx="661.2" cy="914.5" r="9.6"/>
<circle cx="661.7" cy="942.1" r="9.6"/>
<circle cx="661.9" cy="929.8" r="9.6"/>
<circle cx="662.0" cy="932.6" r="9.6"/>
<circle cx="662.2" cy="877.6" r="9.6"/>
<circle cx="662.2" cy="940.0" r="9.6"/>
<circle cx="662.5" cy="936.7" r="9.6"/>
<circle cx="662.5" cy="931.6" r="9.6"/>
<circle cx="662.6" cy="897.9" r="9.6"/>
<circle cx="663.0" cy="945.2" r="9.6"/>
<circle cx="663.5" cy="918.2" r="9.6"/>
<circle cx="663.7" cy="945.3" r="9.6"/>
<circle cx="663.8" cy="941.3" r="9.6"/>
<circle cx="663.8" cy="864.3" r="9.6"/>
<circle cx="663.9" cy="895.2" r="9.6"/>
<circle cx="664.0" cy="941.4" r="9.6"/>
<circle cx="664.4" cy="922.7" r="9.6"/>
<circle cx="664.8" cy="943.6" r="9.6"/>
<circle cx="665.0" cy="913.5" r="9.6"/>
<circle cx="665.1" cy="941.2" r="9.6"/>
<circle cx="665.8" cy="916.4" r="9.6"/>
<circle cx="666.8" cy="919.9" r="9.6"/>
<circle cx="667.4" cy="934.3" r="9.6"/>
<circle cx="667.6" cy="947.0" r="9.6"/>
<circle cx="668.4" cy="901.5" r="9.6"/>
<circle cx="668.7" cy="939.4" r="9.6"/>
<circle cx="668.8" cy="926.6" r="9.6"/>
<circle cx="669.1" cy="935.9" r="9.6"/>
<circle cx="669.3" cy="920.7" r="9.6"/>
<circle cx="669.8" cy="880.3" r="9.6"/>
<circle cx="670.1" cy="938.9" r="9.6"/>
<circle cx="670.5" cy="866.0" r="9.6"/>
<circle cx="670.6" cy="892.2" r="9.6"/>
<circle cx="671.0" cy="888.5" r="9.6"/>
<circle cx="671.3" cy="939.0" r="9.6"/>
<circle cx="673.1" cy="899.7" r="9.6"/>
<circle cx="673.3" cy="887.9" r="9.6"/>
<circle cx="673.6" cy="945.2" r="9.6"/>
<circle cx="674.2" cy="922.1" r="9.6"/>
<circle cx="674.7" cy="932.8" r="9.6"/>
<circle cx="675.3" cy="925.5" r="9.6"/>
<circle cx="675.4" cy="877.6" r="9.6"/>
<circle cx="675.4" cy="916.6" r="9.6"/>
<circle cx="675.8" cy="844.4" r="9.6"/>
<circle cx="676.1" cy="934.3" r="9.6"/>
<circle cx="677.8" cy="922.2" r="9.6"/>
<circle cx="678.0" cy="941.9" r="9.6"/>
<circle cx="678.7" cy="939.6" r="9.6"/>
<circle cx="679.0" cy="899.3" r="9.6"/>
<circle cx="679.2" cy="934.8" r="9.6"/>
<circle cx="679.2" cy="934.2" r="9.6"/>
<circle cx="679.3" cy="928.9" r="9.6"/>
<circle cx="679.3" cy="945.6" r="9.6"/>
<circle cx="679.5" cy="943.2" r="9.6"/>
<circle cx="679.6" cy="827.4" r="9.6"/>
<circle cx="679.6" cy="915.4" r="9.6"/>
<circle cx="679.7" cy="933.2" r="9.6"/>
<circle cx="680.4" cy="914.0" r="9.6"/>
<circle cx="680.5" cy="943.2" r="9.6"/>
<circle cx="680.7" cy="906.6" r="9.6"/>
<circle cx="680.8" cy="946.0" r="9.6"/>
<circle cx="680.8" cy="943.5" r="9.6"/>
<circle cx="681.4" cy="929.9" r="9.6"/>
<circle cx="681.9" cy="941.9" r="9.6"/>
<circle cx="681.9" cy="942.3" r="9.6"/>
<circle cx="681.9" cy="904.5" r="9.6"/>
<circle cx="682.0" cy="886.9" r="9.6"/>
<circle cx="682.6" cy="939.1" r="9.6"/>
<circle cx="682.8" cy="940.3" r="9.6"/>
<circle cx="683.3" cy="913.4" r="9.6"/>
<circle cx="684.2" cy="944.3" r="9.6"/>
<circle cx="684.3" cy="901.7" r="9.6"/>
<circle cx="684.5" cy="943.0" r="9.6"/>
<circle cx="685.0" cy="925.8" r="9.6"/>
<circle cx="685.3" cy="944.9" r="9.6"/>
<circle cx="687.1" cy="938.0" r="9.6"/>
<circle cx="687.7" cy="908.3" r="9.6"/>
<circle cx="688.3" cy="892.8" r="9.6"/>
<circle cx="688.7" cy="861.0" r="9.6"/>
<circle cx="688.7" cy="877.6" r="9.6"/>
<circle cx="688.9" cy="927.9" r="9.6"/>
<circle cx="688.9" cy="905.3" r="9.6"/>
<circle cx="689.1" cy="933.9" r="9.6"/>
<circle cx="689.3" cy="946.6" r="9.6"/>
<circle cx="691.6" cy="942.9" r="9.6"/>
<circle cx="691.8" cy="903.8" r="9.6"/>
<circle cx="692.6" cy="936.0" r="9.6"/>
<circle cx="692.7" cy="913.6" r="9.6"/>
<circle cx="693.5" cy="928.5" r="9.6"/>
<circle cx="694.0" cy="748.3" r="9.6"/>
<circle cx="694.1" cy="942.4" r="9.6"/>
<circle cx="694.8" cy="908.0" r="9.6"/>
<circle cx="695.2" cy="927.7" r="9.6"/>
<circle cx="695.4" cy="942.7" r="9.6"/>
<circle cx="695.8" cy="930.8" r="9.6"/>
<circle cx="696.0" cy="935.5" r="9.6"/>
<circle cx="696.2" cy="946.6" r="9.6"/>
<circle cx="696.3" cy="935.1" r="9.6"/>
<circle cx="696.6" cy="935.1" r="9.6"/>
<circle cx="696.7" cy="940.4" r="9.6"/>
<circle cx="696.8" cy="937.3" r="9.6"/>
<circle cx="697.2" cy="909.8" r="9.6"/>
<circle cx="697.6" cy="932.8" r="9.6"/>
<circle cx="697.7" cy="900.9" r="9.6"/>
<circle cx="697.9" cy="940.8" r="9.6"/>
<circle cx="697.9" cy="939.1" r="9.6"/>
<circle cx="698.1" cy="924.0" r="9.6"/>
<circle cx="698.6" cy="889.2" r="9.6"/>
<circle cx="699.2" cy="938.0" r="9.6"/>
<circle cx="699.4" cy="937.8" r="9.6"/>
<circle cx="700.4" cy="938.6" r="9.6"/>
<circle cx="700.7" cy="942.9" r="9.6"/>
<circle cx="701.6" cy="923.9" r="9.6"/>
<circle cx="701.8" cy="901.0" r="9.6"/>
<circle cx="701.9" cy="947.0" r="9.6"/>
<circle cx="701.9" cy="875.9" r="9.6"/>
<circle cx="702.1" cy="932.0" r="9.6"/>
<circle cx="703.2" cy="906.0" r="9.6"/>
<circle cx="703.2" cy="942.4" r="9.6"/>
<circle cx="703.5" cy="906.5" r="9.6"/>
<circle cx="703.7" cy="916.3" r="9.6"/>
<circle cx="703.7" cy="934.0" r="9.6"/>
<circle cx="704.4" cy="936.8" r="9.6"/>
<circle cx="704.7" cy="921.4" r="9.6"/>
<circle cx="705.4" cy="934.3" r="9.6"/>
<circle cx="705.4" cy="939.9" r="9.6"/>
<circle cx="705.4" cy="941.5" r="9.6"/>
<circle cx="706.0" cy="944.0" r="9.6"/>
<circle cx="706.3" cy="946.8" r="9.6"/>
<circle cx="706.3" cy="917.0" r="9.6"/>
<circle cx="706.3" cy="935.7" r="9.6"/>
<circle cx="706.4" cy="920.2" r="9.6"/>
<circle cx="708.7" cy="921.8" r="9.6"/>
<circle cx="710.5" cy="915.8" r="9.6"/>
<circle cx="710.5" cy="921.2" r="9.6"/>
<circle cx="711.0" cy="946.5" r="9.6"/>
<circle cx="711.1" cy="874.3" r="9.6"/>
<circle cx="711.2" cy="903.3" r="9.6"/>
<circle cx="711.4" cy="844.8" r="9.6"/>
<circle cx="712.0" cy="910.3" r="9.6"/>
<circle cx="712.7" cy="910.4" r="9.6"/>
<circle cx="713.4" cy="930.9" r="9.6"/>
<circle cx="713.4" cy="946.6" r="9.6"/>
<circle cx="713.5" cy="943.0" r="9.6"/>
<circle cx="714.6" cy="907.9" r="9.6"/>
<circle cx="715.3" cy="934.7" r="9.6"/>
<circle cx="715.3" cy="927.8" r="9.6"/>
<circle cx="717.3" cy="935.5" r="9.6"/>
<circle cx="717.9" cy="915.9" r="9.6"/>
<circle cx="718.0" cy="937.1" r="9.6"/>
<circle cx="718.2" cy="938.9" r="9.6"/>
<circle cx="718.5" cy="892.5" r="9.6"/>
<circle cx="718.9" cy="906.9" r="9.6"/>
<circle cx="719.5" cy="944.4" r="9.6"/>
<circle cx="720.0" cy="945.0" r="9.6"/>
<circle cx="720.1" cy="946.3" r="9.6"/>
<circle cx="720.3" cy="938.1" r="9.6"/>
<circle cx="720.5" cy="930.2" r="9.6"/>
<circle cx="720.5" cy="945.6" r="9.6"/>
<circle cx="722.2" cy="946.8" r="9.6"/>
<circle cx="723.2" cy="944.9" r="9.6"/>
<circle cx="723.5" cy="907.0" r="9.6"/>
<circle cx="723.5" cy="831.2" r="9.6"/>
<circle cx="723.5" cy="925.5" r="9.6"/>
<circle cx="723.7" cy="945.6" r="9.6"/>
<circle cx="723.8" cy="938.9" r="9.6"/>
<circle cx="723.8" cy="941.4" r="9.6"/>
<circle cx="723.9" cy="945.9" r="9.6"/>
<circle cx="724.5" cy="902.3" r="9.6"/>
<circle cx="724.6" cy="935.6" r="9.6"/>
<circle cx="725.0" cy="928.3" r="9.6"/>
<circle cx="725.0" cy="905.9" r="9.6"/>
<circle cx="725.1" cy="923.9" r="9.6"/>
<circle cx="725.3" cy="924.5" r="9.6"/>
<circle cx="725.5" cy="922.1" r="9.6"/>
<circle cx="726.4" cy="932.7" r="9.6"/>
<circle cx="726.6" cy="943.1" r="9.6"/>
<circle cx="726.6" cy="944.0" r="9.6"/>
<circle cx="727.0" cy="946.1" r="9.6"/>
<circle cx="727.2" cy="909.0" r="9.6"/>
<circle cx="727.2" cy="941.0" r="9.6"/>
<circle cx="727.3" cy="926.5" r="9.6"/>
<circle cx="727.4" cy="944.3" r="9.6"/>
<circle cx="728.2" cy="941.6" r="9.6"/>
<circle cx="728.4" cy="936.7" r="9.6"/>
<circle cx="728.7" cy="918.1" r="9.6"/>
<circle cx="729.1" cy="931.5" r="9.6"/>
<circle cx="729.4" cy="938.5" r="9.6"/>
<circle cx="729.9" cy="940.5" r="9.6"/>
<circle cx="730.1" cy="937.0" r="9.6"/>
<circle cx="730.7" cy="932.9" r="9.6"/>
<circle cx="730.7" cy="928.4" r="9.6"/>
<circle cx="730.8" cy="928.0" r="9.6"/>
<circle cx="730.9" cy="924.6" r="9.6"/>
<circle cx="731.5" cy="925.3" r="9.6"/>
<circle cx="731.6" cy="943.0" r="9.6"/>
<circle cx="731.8" cy="889.2" r="9.6"/>
<circle cx="732.5" cy="938.5" r="9.6"/>
<circle cx="732.5" cy="936.6" r="9.6"/>
<circle cx="732.6" cy="942.2" r="9.6"/>
<circle cx="733.6" cy="940.4" r="9.6"/>
<circle cx="734.0" cy="932.3" r="9.6"/>
<circle cx="734.2" cy="917.5" r="9.6"/>
<circle cx="734.3" cy="930.8" r="9.6"/>
<circle cx="734.6" cy="926.2" r="9.6"/>
<circle cx="735.5" cy="941.8" r="9.6"/>
<circle cx="735.9" cy="927.4" r="9.6"/>
<circle cx="736.5" cy="947.0" r="9.6"/>
<circle cx="737.1" cy="931.1" r="9.6"/>
<circle cx="737.4" cy="946.1" r="9.6"/>
<circle cx="737.9" cy="929.9" r="9.6"/>
<circle cx="738.8" cy="917.9" r="9.6"/>
<circle cx="738.9" cy="910.4" r="9.6"/>
<circle cx="739.2" cy="931.8" r="9.6"/>
<circle cx="739.2" cy="876.7" r="9.6"/>
<circle cx="739.5" cy="927.0" r="9.6"/>
<circle cx="739.8" cy="916.1" r="9.6"/>
<circle cx="740.1" cy="945.8" r="9.6"/>
<circle cx="740.7" cy="941.1" r="9.6"/>
<circle cx="740.8" cy="940.2" r="9.6"/>
<circle cx="741.4" cy="928.7" r="9.6"/>
<circle cx="741.6" cy="909.0" r="9.6"/>
<circle cx="741.7" cy="861.8" r="9.6"/>
<circle cx="741.7" cy="892.5" r="9.6"/>
<circle cx="742.5" cy="925.6" r="9.6"/>
<circle cx="742.6" cy="832.0" r="9.6"/>
<circle cx="743.1" cy="938.4" r="9.6"/>
<circle cx="743.5" cy="896.8" r="9.6"/>
<circle cx="743.5" cy="941.9" r="9.6"/>
<circle cx="743.6" cy="897.0" r="9.6"/>
<circle cx="744.4" cy="945.0" r="9.6"/>
<circle cx="744.4" cy="922.1" r="9.6"/>
<circle cx="745.0" cy="935.7" r="9.6"/>
<circle cx="745.9" cy="940.3" r="9.6"/>
<circle cx="747.3" cy="944.6" r="9.6"/>
<circle cx="747.5" cy="909.9" r="9.6"/>
<circle cx="748.4" cy="867.6" r="9.6"/>
<circle cx="748.4" cy="943.6" r="9.6"/>
<circle cx="748.7" cy="918.5" r="9.6"/>
<circle cx="749.0" cy="939.5" r="9.6"/>
<circle cx="751.5" cy="890.7" r="9.6"/>
<circle cx="751.6" cy="931.9" r="9.6"/>
<circle cx="752.1" cy="929.5" r="9.6"/>
<circle cx="752.2" cy="942.4" r="9.6"/>
<circle cx="752.5" cy="944.6" r="9.6"/>
<circle cx="752.5" cy="946.5" r="9.6"/>
<circle cx="752.6" cy="925.7" r="9.6"/>
<circle cx="752.6" cy="903.7" r="9.6"/>
<circle cx="753.2" cy="921.2" r="9.6"/>
<circle cx="753.4" cy="922.2" r="9.6"/>
<circle cx="753.4" cy="936.6" r="9.6"/>
<circle cx="753.5" cy="945.2" r="9.6"/>
<circle cx="753.7" cy="927.3" r="9.6"/>
<circle cx="754.4" cy="917.4" r="9.6"/>
<circle cx="754.8" cy="929.0" r="9.6"/>
<circle cx="754.9" cy="929.0" r="9.6"/>
<circle cx="755.0" cy="941.8" r="9.6"/>
<circle cx="755.8" cy="888.7" r="9.6"/>
<circle cx="756.0" cy="906.1" r="9.6"/>
<circle cx="756.6" cy="920.6" r="9.6"/>
<circle cx="757.9" cy="944.6" r="9.6"/>
<circle cx="758.3" cy="872.6" r="9.6"/>
<circle cx="758.3" cy="945.4" r="9.6"/>
<circle cx="758.4" cy="936.4" r="9.6"/>
<circle cx="758.4" cy="946.6" r="9.6"/>
<circle cx="759.1" cy="854.4" r="9.6"/>
<circle cx="759.7" cy="943.1" r="9.6"/>
<circle cx="759.7" cy="931.0" r="9.6"/>
<circle cx="759.8" cy="879.7" r="9.6"/>
<circle cx="760.1" cy="931.7" r="9.6"/>
<circle cx="760.3" cy="943.5" r="9.6"/>
<circle cx="760.5" cy="938.4" r="9.6"/>
<circle cx="760.6" cy="894.8" r="9.6"/>
<circle cx="761.1" cy="906.2" r="9.6"/>
<circle cx="761.3" cy="831.2" r="9.6"/>
<circle cx="761.7" cy="930.5" r="9.6"/>
<circle cx="761.8" cy="906.1" r="9.6"/>
<circle cx="762.0" cy="937.5" r="9.6"/>
<circle cx="762.2" cy="939.6" r="9.6"/>
<circle cx="762.2" cy="944.5" r="9.6"/>
<circle cx="762.2" cy="920.3" r="9.6"/>
<circle cx="762.2" cy="901.1" r="9.6"/>
<circle cx="762.9" cy="934.8" r="9.6"/>
<circle cx="763.2" cy="917.9" r="9.6"/>
<circle cx="763.6" cy="802.5" r="9.6"/>
<circle cx="763.8" cy="944.9" r="9.6"/>
<circle cx="764.7" cy="937.9" r="9.6"/>
<circle cx="765.0" cy="902.5" r="9.6"/>
<circle cx="765.2" cy="944.3" r="9.6"/>
<circle cx="765.3" cy="931.9" r="9.6"/>
<circle cx="767.0" cy="921.4" r="9.6"/>
<circle cx="767.5" cy="944.9" r="9.6"/>
<circle cx="767.8" cy="898.4" r="9.6"/>
<circle cx="769.1" cy="897.1" r="9.6"/>
<circle cx="769.1" cy="926.6" r="9.6"/>
<circle cx="769.2" cy="942.6" r="9.6"/>
<circle cx="769.2" cy="930.9" r="9.6"/>
<circle cx="769.5" cy="929.7" r="9.6"/>
<circle cx="769.5" cy="945.0" r="9.6"/>
<circle cx="769.7" cy="939.5" r="9.6"/>
<circle cx="769.9" cy="874.3" r="9.6"/>
<circle cx="769.9" cy="940.8" r="9.6"/>
<circle cx="770.3" cy="941.3" r="9.6"/>
<circle cx="770.4" cy="891.3" r="9.6"/>
<circle cx="771.0" cy="904.9" r="9.6"/>
<circle cx="771.4" cy="936.3" r="9.6"/>
<circle cx="771.5" cy="831.2" r="9.6"/>
<circle cx="771.8" cy="946.0" r="9.6"/>
<circle cx="771.9" cy="943.1" r="9.6"/>
<circle cx="772.1" cy="908.3" r="9.6"/>
<circle cx="772.3" cy="918.8" r="9.6"/>
<circle cx="772.5" cy="944.9" r="9.6"/>
<circle cx="773.1" cy="921.9" r="9.6"/>
<circle cx="773.3" cy="939.9" r="9.6"/>
<circle cx="773.4" cy="898.0" r="9.6"/>
<circle cx="773.7" cy="945.9" r="9.6"/>
<circle cx="773.7" cy="878.9" r="9.6"/>
<circle cx="774.1" cy="943.5" r="9.6"/>
<circle cx="774.4" cy="940.4" r="9.6"/>
<circle cx="774.4" cy="907.2" r="9.6"/>
<circle cx="774.9" cy="859.3" r="9.6"/>
<circle cx="775.7" cy="939.3" r="9.6"/>
<circle cx="775.8" cy="937.2" r="9.6"/>
<circle cx="775.9" cy="939.1" r="9.6"/>
<circle cx="776.7" cy="931.9" r="9.6"/>
<circle cx="776.8" cy="916.4" r="9.6"/>
<circle cx="777.6" cy="945.6" r="9.6"/>
<circle cx="778.6" cy="912.2" r="9.6"/>
<circle cx="779.1" cy="877.4" r="9.6"/>
<circle cx="779.3" cy="941.6" r="9.6"/>
<circle cx="779.4" cy="923.6" r="9.6"/>
<circle cx="779.8" cy="929.6" r="9.6"/>
<circle cx="780.1" cy="926.8" r="9.6"/>
<circle cx="780.2" cy="892.0" r="9.6"/>
<circle cx="780.3" cy="929.5" r="9.6"/>
<circle cx="780.5" cy="940.2" r="9.6"/>
<circle cx="780.8" cy="924.3" r="9.6"/>
<circle cx="781.0" cy="885.0" r="9.6"/>
<circle cx="781.1" cy="940.9" r="9.6"/>
<circle cx="781.4" cy="913.6" r="9.6"/>
<circle cx="781.5" cy="940.3" r="9.6"/>
<circle cx="781.5" cy="907.8" r="9.6"/>
<circle cx="781.8" cy="887.1" r="9.6"/>
<circle cx="782.1" cy="944.9" r="9.6"/>
<circle cx="782.2" cy="940.2" r="9.6"/>
<circle cx="782.8" cy="892.2" r="9.6"/>
<circle cx="783.2" cy="872.6" r="9.6"/>
<circle cx="783.6" cy="918.9" r="9.6"/>
<circle cx="783.7" cy="945.1" r="9.6"/>
<circle cx="783.9" cy="921.7" r="9.6"/>
<circle cx="784.0" cy="928.3" r="9.6"/>
<circle cx="784.2" cy="903.9" r="9.6"/>
<circle cx="784.8" cy="936.7" r="9.6"/>
<circle cx="785.1" cy="925.9" r="9.6"/>
<circle cx="785.2" cy="942.5" r="9.6"/>
<circle cx="785.2" cy="932.1" r="9.6"/>
<circle cx="785.6" cy="860.2" r="9.6"/>
<circle cx="786.6" cy="911.0" r="9.6"/>
<circle cx="787.0" cy="918.0" r="9.6"/>
<circle cx="787.2" cy="915.3" r="9.6"/>
<circle cx="787.7" cy="882.5" r="9.6"/>
<circle cx="787.8" cy="881.9" r="9.6"/>
<circle cx="788.4" cy="939.6" r="9.6"/>
<circle cx="788.7" cy="919.6" r="9.6"/>
<circle cx="789.1" cy="885.3" r="9.6"/>
<circle cx="789.5" cy="884.1" r="9.6"/>
<circle cx="789.7" cy="932.9" r="9.6"/>
<circle cx="790.3" cy="884.0" r="9.6"/>
<circle cx="790.7" cy="930.1" r="9.6"/>
<circle cx="791.3" cy="931.4" r="9.6"/>
<circle cx="791.4" cy="942.5" r="9.6"/>
<circle cx="792.1" cy="908.4" r="9.6"/>
<circle cx="792.8" cy="934.0" r="9.6"/>
<circle cx="793.1" cy="926.6" r="9.6"/>
<circle cx="793.9" cy="902.9" r="9.6"/>
<circle cx="794.1" cy="905.7" r="9.6"/>
<circle cx="794.3" cy="943.7" r="9.6"/>
<circle cx="794.5" cy="933.1" r="9.6"/>
<circle cx="794.8" cy="829.5" r="9.6"/>
<circle cx="795.6" cy="935.4" r="9.6"/>
<circle cx="796.0" cy="939.8" r="9.6"/>
<circle cx="796.1" cy="921.2" r="9.6"/>
<circle cx="796.3" cy="910.6" r="9.6"/>
<circle cx="796.4" cy="869.3" r="9.6"/>
<circle cx="797.3" cy="930.2" r="9.6"/>
<circle cx="798.4" cy="906.2" r="9.6"/>
<circle cx="798.7" cy="942.4" r="9.6"/>
<circle cx="798.9" cy="890.1" r="9.6"/>
<circle cx="799.1" cy="935.7" r="9.6"/>
<circle cx="799.5" cy="943.5" r="9.6"/>
<circle cx="799.7" cy="940.9" r="9.6"/>
<circle cx="799.7" cy="945.6" r="9.6"/>
<circle cx="801.2" cy="944.3" r="9.6"/>
<circle cx="802.1" cy="917.4" r="9.6"/>
<circle cx="802.5" cy="921.5" r="9.6"/>
<circle cx="802.6" cy="941.2" r="9.6"/>
<circle cx="803.4" cy="944.4" r="9.6"/>
<circle cx="803.8" cy="913.6" r="9.6"/>
<circle cx="803.9" cy="925.6" r="9.6"/>
<circle cx="804.1" cy="944.4" r="9.6"/>
<circle cx="804.3" cy="910.4" r="9.6"/>
<circle cx="804.6" cy="943.0" r="9.6"/>
<circle cx="804.7" cy="830.3" r="9.6"/>
<circle cx="804.8" cy="932.2" r="9.6"/>
<circle cx="805.0" cy="939.4" r="9.6"/>
<circle cx="805.5" cy="940.7" r="9.6"/>
<circle cx="805.9" cy="922.0" r="9.6"/>
<circle cx="806.3" cy="944.8" r="9.6"/>
<circle cx="806.4" cy="864.3" r="9.6"/>
<circle cx="807.0" cy="946.7" r="9.6"/>
<circle cx="808.0" cy="835.3" r="9.6"/>
<circle cx="808.2" cy="927.1" r="9.6"/>
<circle cx="808.4" cy="893.7" r="9.6"/>
<circle cx="808.6" cy="890.5" r="9.6"/>
<circle cx="808.7" cy="920.1" r="9.6"/>
<circle cx="808.8" cy="906.8" r="9.6"/>
<circle cx="808.8" cy="925.4" r="9.6"/>
<circle cx="808.8" cy="799.2" r="9.6"/>
<circle cx="808.8" cy="844.4" r="9.6"/>
<circle cx="809.0" cy="943.5" r="9.6"/>
<circle cx="809.1" cy="942.4" r="9.6"/>
<circle cx="809.1" cy="925.3" r="9.6"/>
<circle cx="809.2" cy="917.3" r="9.6"/>
<circle cx="809.4" cy="935.1" r="9.6"/>
<circle cx="809.6" cy="940.1" r="9.6"/>
<circle cx="809.8" cy="943.8" r="9.6"/>
<circle cx="809.8" cy="946.9" r="9.6"/>
<circle cx="811.1" cy="924.4" r="9.6"/>
<circle cx="811.1" cy="946.4" r="9.6"/>
<circle cx="811.3" cy="946.1" r="9.6"/>
<circle cx="811.7" cy="939.1" r="9.6"/>
<circle cx="812.3" cy="941.6" r="9.6"/>
<circle cx="812.6" cy="916.2" r="9.6"/>
<circle cx="812.8" cy="939.6" r="9.6"/>
<circle cx="813.1" cy="937.5" r="9.6"/>
<circle cx="813.1" cy="942.6" r="9.6"/>
<circle cx="813.2" cy="886.7" r="9.6"/>
<circle cx="813.2" cy="944.5" r="9.6"/>
<circle cx="814.0" cy="911.8" r="9.6"/>
<circle cx="814.1" cy="898.6" r="9.6"/>
<circle cx="814.5" cy="946.3" r="9.6"/>
<circle cx="814.5" cy="895.3" r="9.6"/>
<circle cx="814.9" cy="926.3" r="9.6"/>
<circle cx="815.3" cy="942.2" r="9.6"/>
<circle cx="815.4" cy="944.3" r="9.6"/>
<circle cx="815.5" cy="944.5" r="9.6"/>
<circle cx="815.5" cy="944.3" r="9.6"/>
<circle cx="815.5" cy="817.1" r="9.6"/>
<circle cx="816.3" cy="827.9" r="9.6"/>
<circle cx="816.4" cy="902.9" r="9.6"/>
<circle cx="816.9" cy="908.1" r="9.6"/>
<circle cx="817.1" cy="882.5" r="9.6"/>
<circle cx="817.4" cy="933.6" r="9.6"/>
<circle cx="817.6" cy="879.3" r="9.6"/>
<circle cx="817.6" cy="930.6" r="9.6"/>
<circle cx="817.7" cy="945.9" r="9.6"/>
<circle cx="817.8" cy="943.8" r="9.6"/>
<circle cx="818.0" cy="902.0" r="9.6"/>
<circle cx="818.5" cy="792.2" r="9.6"/>
<circle cx="819.6" cy="884.2" r="9.6"/>
<circle cx="820.9" cy="865.1" r="9.6"/>
<circle cx="821.2" cy="932.6" r="9.6"/>
<circle cx="821.3" cy="839.5" r="9.6"/>
<circle cx="821.3" cy="900.2" r="9.6"/>
<circle cx="822.2" cy="916.8" r="9.6"/>
<circle cx="822.3" cy="890.4" r="9.6"/>
<circle cx="822.5" cy="936.2" r="9.6"/>
<circle cx="822.8" cy="926.1" r="9.6"/>
<circle cx="823.9" cy="919.4" r="9.6"/>
<circle cx="824.0" cy="943.8" r="9.6"/>
<circle cx="824.2" cy="935.3" r="9.6"/>
<circle cx="824.6" cy="832.0" r="9.6"/>
<circle cx="824.7" cy="910.3" r="9.6"/>
<circle cx="825.0" cy="943.8" r="9.6"/>
<circle cx="825.4" cy="938.4" r="9.6"/>
<circle cx="825.5" cy="940.9" r="9.6"/>
<circle cx="825.6" cy="897.0" r="9.6"/>
<circle cx="825.9" cy="946.8" r="9.6"/>
<circle cx="826.0" cy="940.8" r="9.6"/>
<circle cx="828.0" cy="939.8" r="9.6"/>
<circle cx="828.0" cy="915.6" r="9.6"/>
<circle cx="828.2" cy="935.8" r="9.6"/>
<circle cx="828.4" cy="945.9" r="9.6"/>
<circle cx="828.6" cy="937.8" r="9.6"/>
<circle cx="828.7" cy="940.0" r="9.6"/>
<circle cx="828.9" cy="936.3" r="9.6"/>
<circle cx="829.0" cy="944.9" r="9.6"/>
<circle cx="829.5" cy="881.0" r="9.6"/>
<circle cx="829.8" cy="937.6" r="9.6"/>
<circle cx="830.0" cy="917.3" r="9.6"/>
<circle cx="830.6" cy="946.6" r="9.6"/>
<circle cx="831.1" cy="941.0" r="9.6"/>
<circle cx="831.2" cy="942.2" r="9.6"/>
<circle cx="831.6" cy="892.2" r="9.6"/>
<circle cx="832.7" cy="928.1" r="9.6"/>
<circle cx="832.9" cy="872.6" r="9.6"/>
<circle cx="833.0" cy="921.9" r="9.6"/>
<circle cx="833.1" cy="942.0" r="9.6"/>
<circle cx="833.2" cy="945.0" r="9.6"/>
<circle cx="833.3" cy="943.7" r="9.6"/>
<circle cx="833.3" cy="945.6" r="9.6"/>
<circle cx="834.3" cy="904.7" r="9.6"/>
<circle cx="834.5" cy="831.2" r="9.6"/>
<circle cx="835.7" cy="944.0" r="9.6"/>
<circle cx="835.9" cy="928.9" r="9.6"/>
<circle cx="835.9" cy="887.4" r="9.6"/>
<circle cx="836.7" cy="943.1" r="9.6"/>
<circle cx="836.9" cy="912.1" r="9.6"/>
<circle cx="837.7" cy="932.1" r="9.6"/>
<circle cx="837.9" cy="831.2" r="9.6"/>
<circle cx="837.9" cy="919.3" r="9.6"/>
<circle cx="838.0" cy="939.1" r="9.6"/>
<circle cx="838.8" cy="879.9" r="9.6"/>
<circle cx="839.0" cy="937.8" r="9.6"/>
<circle cx="839.2" cy="940.2" r="9.6"/>
<circle cx="839.4" cy="878.1" r="9.6"/>
<circle cx="840.0" cy="938.9" r="9.6"/>
<circle cx="840.0" cy="882.9" r="9.6"/>
<circle cx="840.0" cy="933.0" r="9.6"/>
<circle cx="840.1" cy="918.2" r="9.6"/>
<circle cx="841.0" cy="895.3" r="9.6"/>
<circle cx="841.0" cy="900.9" r="9.6"/>
<circle cx="841.5" cy="915.2" r="9.6"/>
<circle cx="842.4" cy="890.1" r="9.6"/>
<circle cx="842.6" cy="885.4" r="9.6"/>
<circle cx="842.9" cy="944.7" r="9.6"/>
<circle cx="843.4" cy="940.8" r="9.6"/>
<circle cx="843.7" cy="853.5" r="9.6"/>
<circle cx="844.1" cy="946.5" r="9.6"/>
<circle cx="844.2" cy="910.4" r="9.6"/>
<circle cx="844.4" cy="935.4" r="9.6"/>
<circle cx="844.5" cy="924.2" r="9.6"/>
<circle cx="845.3" cy="920.1" r="9.6"/>
<circle cx="845.6" cy="940.4" r="9.6"/>
<circle cx="846.0" cy="894.8" r="9.6"/>
<circle cx="846.1" cy="870.9" r="9.6"/>
<circle cx="846.2" cy="919.9" r="9.6"/>
<circle cx="846.9" cy="938.8" r="9.6"/>
<circle cx="846.9" cy="939.1" r="9.6"/>
<circle cx="846.9" cy="895.8" r="9.6"/>
<circle cx="847.0" cy="942.4" r="9.6"/>
<circle cx="847.0" cy="938.4" r="9.6"/>
<circle cx="847.5" cy="881.2" r="9.6"/>
<circle cx="848.1" cy="902.1" r="9.6"/>
<circle cx="848.7" cy="886.8" r="9.6"/>
<circle cx="849.3" cy="884.8" r="9.6"/>
<circle cx="849.6" cy="940.6" r="9.6"/>
<circle cx="850.0" cy="900.2" r="9.6"/>
<circle cx="850.0" cy="945.3" r="9.6"/>
<circle cx="851.1" cy="861.0" r="9.6"/>
<circle cx="851.1" cy="946.6" r="9.6"/>
<circle cx="852.1" cy="915.8" r="9.6"/>
<circle cx="852.2" cy="898.3" r="9.6"/>
<circle cx="852.3" cy="938.7" r="9.6"/>
<circle cx="852.8" cy="938.0" r="9.6"/>
<circle cx="852.9" cy="927.1" r="9.6"/>
<circle cx="853.1" cy="912.3" r="9.6"/>
<circle cx="853.3" cy="925.7" r="9.6"/>
<circle cx="853.3" cy="888.5" r="9.6"/>
<circle cx="853.3" cy="923.2" r="9.6"/>
<circle cx="854.0" cy="919.6" r="9.6"/>
<circle cx="854.2" cy="930.6" r="9.6"/>
<circle cx="855.2" cy="944.0" r="9.6"/>
<circle cx="855.9" cy="935.8" r="9.6"/>
<circle cx="856.3" cy="917.3" r="9.6"/>
<circle cx="856.3" cy="942.1" r="9.6"/>
<circle cx="856.5" cy="934.5" r="9.6"/>
<circle cx="857.7" cy="872.6" r="9.6"/>
<circle cx="857.9" cy="901.4" r="9.6"/>
<circle cx="858.0" cy="915.3" r="9.6"/>
<circle cx="859.0" cy="917.6" r="9.6"/>
<circle cx="859.3" cy="890.6" r="9.6"/>
<circle cx="859.4" cy="942.0" r="9.6"/>
<circle cx="859.7" cy="917.6" r="9.6"/>
<circle cx="859.9" cy="898.5" r="9.6"/>
<circle cx="860.3" cy="934.5" r="9.6"/>
<circle cx="860.5" cy="944.2" r="9.6"/>
<circle cx="861.1" cy="856.0" r="9.6"/>
<circle cx="861.6" cy="939.6" r="9.6"/>
<circle cx="861.8" cy="886.9" r="9.6"/>
<circle cx="862.1" cy="938.5" r="9.6"/>
<circle cx="862.5" cy="879.5" r="9.6"/>
<circle cx="863.0" cy="943.6" r="9.6"/>
<circle cx="863.2" cy="905.4" r="9.6"/>
<circle cx="863.6" cy="942.5" r="9.6"/>
<circle cx="864.3" cy="942.9" r="9.6"/>
<circle cx="864.3" cy="916.4" r="9.6"/>
<circle cx="864.4" cy="901.1" r="9.6"/>
<circle cx="864.5" cy="902.1" r="9.6"/>
<circle cx="864.6" cy="945.8" r="9.6"/>
<circle cx="865.9" cy="919.8" r="9.6"/>
<circle cx="865.9" cy="946.2" r="9.6"/>
<circle cx="866.1" cy="943.3" r="9.6"/>
<circle cx="866.6" cy="885.6" r="9.6"/>
<circle cx="867.1" cy="919.3" r="9.6"/>
<circle cx="867.4" cy="891.8" r="9.6"/>
<circle cx="867.4" cy="946.9" r="9.6"/>
<circle cx="867.5" cy="942.9" r="9.6"/>
<circle cx="867.5" cy="906.3" r="9.6"/>
<circle cx="867.7" cy="933.5" r="9.6"/>
<circle cx="868.2" cy="940.8" r="9.6"/>
<circle cx="868.9" cy="885.0" r="9.6"/>
<circle cx="869.3" cy="897.9" r="9.6"/>
<circle cx="869.3" cy="866.0" r="9.6"/>
<circle cx="869.4" cy="938.4" r="9.6"/>
<circle cx="869.5" cy="873.1" r="9.6"/>
<circle cx="869.5" cy="938.0" r="9.6"/>
<circle cx="869.8" cy="897.3" r="9.6"/>
<circle cx="870.3" cy="880.3" r="9.6"/>
<circle cx="871.2" cy="917.3" r="9.6"/>
<circle cx="871.3" cy="925.8" r="9.6"/>
<circle cx="871.4" cy="943.7" r="9.6"/>
<circle cx="871.6" cy="910.9" r="9.6"/>
<circle cx="871.7" cy="877.4" r="9.6"/>
<circle cx="872.1" cy="889.5" r="9.6"/>
<circle cx="872.3" cy="938.4" r="9.6"/>
<circle cx="872.4" cy="941.5" r="9.6"/>
<circle cx="872.8" cy="940.9" r="9.6"/>
<circle cx="873.0" cy="935.3" r="9.6"/>
<circle cx="873.1" cy="905.6" r="9.6"/>
<circle cx="873.2" cy="852.3" r="9.6"/>
<circle cx="873.6" cy="946.9" r="9.6"/>
<circle cx="874.0" cy="922.4" r="9.6"/>
<circle cx="874.2" cy="926.2" r="9.6"/>
<circle cx="874.3" cy="930.5" r="9.6"/>
<circle cx="875.1" cy="924.3" r="9.6"/>
<circle cx="875.1" cy="860.5" r="9.6"/>
<circle cx="875.1" cy="813.8" r="9.6"/>
<circle cx="875.5" cy="916.4" r="9.6"/>
<circle cx="875.5" cy="746.6" r="9.6"/>
<circle cx="875.7" cy="927.9" r="9.6"/>
<circle cx="876.0" cy="842.8" r="9.6"/>
<circle cx="876.4" cy="855.9" r="9.6"/>
<circle cx="876.8" cy="930.5" r="9.6"/>
<circle cx="876.8" cy="946.6" r="9.6"/>
<circle cx="877.0" cy="939.9" r="9.6"/>
<circle cx="877.6" cy="787.2" r="9.6"/>
<circle cx="877.6" cy="884.6" r="9.6"/>
<circle cx="877.8" cy="845.7" r="9.6"/>
<circle cx="878.1" cy="876.1" r="9.6"/>
<circle cx="878.1" cy="907.7" r="9.6"/>
<circle cx="878.6" cy="846.3" r="9.6"/>
<circle cx="878.7" cy="884.2" r="9.6"/>
<circle cx="879.1" cy="932.2" r="9.6"/>
<circle cx="879.3" cy="938.2" r="9.6"/>
<circle cx="879.7" cy="912.5" r="9.6"/>
<circle cx="879.9" cy="868.2" r="9.6"/>
<circle cx="880.0" cy="936.5" r="9.6"/>
<circle cx="880.2" cy="942.1" r="9.6"/>
<circle cx="880.7" cy="908.4" r="9.6"/>
<circle cx="880.9" cy="866.0" r="9.6"/>
<circle cx="881.3" cy="890.4" r="9.6"/>
<circle cx="881.7" cy="849.5" r="9.6"/>
<circle cx="881.8" cy="875.3" r="9.6"/>
<circle cx="882.4" cy="874.0" r="9.6"/>
<circle cx="882.4" cy="937.1" r="9.6"/>
<circle cx="882.6" cy="940.3" r="9.6"/>
<circle cx="882.6" cy="846.1" r="9.6"/>
<circle cx="882.8" cy="883.2" r="9.6"/>
<circle cx="883.3" cy="865.4" r="9.6"/>
<circle cx="883.6" cy="925.6" r="9.6"/>
<circle cx="883.6" cy="921.8" r="9.6"/>
<circle cx="884.2" cy="916.9" r="9.6"/>
<circle cx="884.2" cy="934.2" r="9.6"/>
<circle cx="884.4" cy="939.5" r="9.6"/>
<circle cx="884.7" cy="885.9" r="9.6"/>
<circle cx="884.7" cy="859.6" r="9.6"/>
<circle cx="884.8" cy="920.4" r="9.6"/>
<circle cx="885.0" cy="894.5" r="9.6"/>
<circle cx="885.4" cy="945.8" r="9.6"/>
<circle cx="885.8" cy="945.1" r="9.6"/>
<circle cx="885.9" cy="805.5" r="9.6"/>
<circle cx="885.9" cy="826.2" r="9.6"/>
<circle cx="886.2" cy="944.7" r="9.6"/>
<circle cx="886.3" cy="869.7" r="9.6"/>
<circle cx="886.6" cy="882.5" r="9.6"/>
<circle cx="886.6" cy="930.3" r="9.6"/>
<circle cx="886.7" cy="831.2" r="9.6"/>
<circle cx="887.1" cy="881.9" r="9.6"/>
<circle cx="887.2" cy="939.8" r="9.6"/>
<circle cx="887.3" cy="940.0" r="9.6"/>
<circle cx="887.3" cy="940.1" r="9.6"/>
<circle cx="887.6" cy="844.3" r="9.6"/>
<circle cx="887.9" cy="935.4" r="9.6"/>
<circle cx="887.9" cy="849.7" r="9.6"/>
<circle cx="888.1" cy="844.9" r="9.6"/>
<circle cx="888.3" cy="915.5" r="9.6"/>
<circle cx="888.3" cy="925.9" r="9.6"/>
<circle cx="888.4" cy="855.9" r="9.6"/>
<circle cx="888.7" cy="946.9" r="9.6"/>
<circle cx="888.9" cy="908.2" r="9.6"/>
<circle cx="889.0" cy="868.6" r="9.6"/>
<circle cx="889.0" cy="925.0" r="9.6"/>
<circle cx="889.0" cy="937.4" r="9.6"/>
<circle cx="889.0" cy="946.4" r="9.6"/>
<circle cx="889.3" cy="941.4" r="9.6"/>
<circle cx="889.8" cy="850.0" r="9.6"/>
<circle cx="890.1" cy="882.9" r="9.6"/>
<circle cx="890.9" cy="849.4" r="9.6"/>
<circle cx="891.1" cy="922.7" r="9.6"/>
<circle cx="891.1" cy="852.1" r="9.6"/>
<circle cx="891.3" cy="857.2" r="9.6"/>
<circle cx="891.4" cy="944.9" r="9.6"/>
<circle cx="891.6" cy="934.5" r="9.6"/>
<circle cx="891.7" cy="921.2" r="9.6"/>
<circle cx="891.9" cy="922.2" r="9.6"/>
<circle cx="891.9" cy="925.3" r="9.6"/>
<circle cx="892.1" cy="928.9" r="9.6"/>
<circle cx="892.5" cy="867.6" r="9.6"/>
<circle cx="892.7" cy="922.1" r="9.6"/>
<circle cx="893.2" cy="907.8" r="9.6"/>
<circle cx="893.3" cy="946.1" r="9.6"/>
<circle cx="894.3" cy="922.7" r="9.6"/>
<circle cx="894.4" cy="946.4" r="9.6"/>
<circle cx="894.7" cy="889.9" r="9.6"/>
<circle cx="894.8" cy="867.7" r="9.6"/>
<circle cx="895.5" cy="885.6" r="9.6"/>
<circle cx="895.5" cy="885.6" r="9.6"/>
<circle cx="895.7" cy="884.5" r="9.6"/>
<circle cx="895.7" cy="896.2" r="9.6"/>
<circle cx="895.7" cy="946.2" r="9.6"/>
<circle cx="895.9" cy="946.1" r="9.6"/>
<circle cx="896.1" cy="844.9" r="9.6"/>
<circle cx="896.2" cy="847.2" r="9.6"/>
<circle cx="896.3" cy="885.2" r="9.6"/>
<circle cx="896.5" cy="923.8" r="9.6"/>
<circle cx="896.8" cy="859.2" r="9.6"/>
<circle cx="897.0" cy="867.5" r="9.6"/>
<circle cx="897.1" cy="921.1" r="9.6"/>
<circle cx="898.2" cy="864.8" r="9.6"/>
<circle cx="898.9" cy="861.8" r="9.6"/>
<circle cx="899.2" cy="847.7" r="9.6"/>
<circle cx="900.1" cy="945.7" r="9.6"/>
<circle cx="900.3" cy="942.7" r="9.6"/>
<circle cx="900.5" cy="924.0" r="9.6"/>
<circle cx="900.7" cy="898.4" r="9.6"/>
<circle cx="900.9" cy="946.9" r="9.6"/>
<circle cx="901.0" cy="936.2" r="9.6"/>
<circle cx="901.4" cy="939.3" r="9.6"/>
<circle cx="901.4" cy="930.3" r="9.6"/>
<circle cx="901.6" cy="910.6" r="9.6"/>
<circle cx="902.4" cy="942.8" r="9.6"/>
<circle cx="903.4" cy="910.7" r="9.6"/>
<circle cx="903.4" cy="907.2" r="9.6"/>
<circle cx="903.8" cy="944.1" r="9.6"/>
<circle cx="903.8" cy="939.0" r="9.6"/>
<circle cx="904.1" cy="921.0" r="9.6"/>
<circle cx="904.2" cy="866.0" r="9.6"/>
<circle cx="904.3" cy="925.9" r="9.6"/>
<circle cx="904.3" cy="931.2" r="9.6"/>
<circle cx="904.8" cy="923.9" r="9.6"/>
<circle cx="904.8" cy="895.0" r="9.6"/>
<circle cx="905.1" cy="940.0" r="9.6"/>
<circle cx="905.6" cy="945.7" r="9.6"/>
<circle cx="905.7" cy="911.0" r="9.6"/>
<circle cx="905.8" cy="852.7" r="9.6"/>
<circle cx="906.1" cy="942.7" r="9.6"/>
<circle cx="906.5" cy="942.9" r="9.6"/>
<circle cx="906.8" cy="929.9" r="9.6"/>
<circle cx="907.0" cy="927.7" r="9.6"/>
<circle cx="907.8" cy="936.0" r="9.6"/>
<circle cx="909.1" cy="941.2" r="9.6"/>
<circle cx="909.3" cy="916.3" r="9.6"/>
<circle cx="909.5" cy="936.2" r="9.6"/>
<circle cx="910.2" cy="942.2" r="9.6"/>
<circle cx="910.6" cy="881.8" r="9.6"/>
<circle cx="910.7" cy="937.3" r="9.6"/>
<circle cx="910.7" cy="935.6" r="9.6"/>
<circle cx="910.8" cy="839.5" r="9.6"/>
<circle cx="910.9" cy="901.3" r="9.6"/>
<circle cx="911.6" cy="831.2" r="9.6"/>
<circle cx="911.6" cy="882.3" r="9.6"/>
<circle cx="912.1" cy="927.2" r="9.6"/>
<circle cx="912.3" cy="946.2" r="9.6"/>
<circle cx="912.4" cy="939.5" r="9.6"/>
<circle cx="913.2" cy="933.0" r="9.6"/>
<circle cx="913.3" cy="905.7" r="9.6"/>
<circle cx="913.3" cy="943.8" r="9.6"/>
<circle cx="914.0" cy="879.4" r="9.6"/>
<circle cx="914.1" cy="933.2" r="9.6"/>
<circle cx="914.4" cy="897.3" r="9.6"/>
<circle cx="914.5" cy="878.9" r="9.6"/>
<circle cx="915.2" cy="889.4" r="9.6"/>
<circle cx="915.3" cy="920.5" r="9.6"/>
<circle cx="915.7" cy="895.1" r="9.6"/>
<circle cx="915.8" cy="859.3" r="9.6"/>
<circle cx="915.8" cy="872.6" r="9.6"/>
<circle cx="916.1" cy="941.4" r="9.6"/>
<circle cx="916.1" cy="937.5" r="9.6"/>
<circle cx="916.5" cy="919.1" r="9.6"/>
<circle cx="916.6" cy="933.5" r="9.6"/>
<circle cx="916.6" cy="940.8" r="9.6"/>
<circle cx="917.4" cy="942.9" r="9.6"/>
<circle cx="917.4" cy="919.2" r="9.6"/>
<circle cx="918.3" cy="928.2" r="9.6"/>
<circle cx="918.5" cy="910.8" r="9.6"/>
<circle cx="918.6" cy="913.2" r="9.6"/>
<circle cx="919.0" cy="923.8" r="9.6"/>
<circle cx="919.5" cy="941.2" r="9.6"/>
<circle cx="920.2" cy="942.3" r="9.6"/>
<circle cx="920.3" cy="916.4" r="9.6"/>
<circle cx="920.4" cy="945.5" r="9.6"/>
<circle cx="920.5" cy="936.2" r="9.6"/>
<circle cx="921.0" cy="915.1" r="9.6"/>
<circle cx="921.2" cy="939.9" r="9.6"/>
<circle cx="921.5" cy="908.7" r="9.6"/>
<circle cx="921.5" cy="944.7" r="9.6"/>
<circle cx="921.7" cy="939.4" r="9.6"/>
<circle cx="921.9" cy="902.5" r="9.6"/>
<circle cx="922.0" cy="938.7" r="9.6"/>
<circle cx="922.5" cy="945.0" r="9.6"/>
<circle cx="922.9" cy="879.1" r="9.6"/>
<circle cx="923.5" cy="910.4" r="9.6"/>
<circle cx="923.6" cy="888.8" r="9.6"/>
<circle cx="923.9" cy="929.6" r="9.6"/>
<circle cx="924.7" cy="936.7" r="9.6"/>
<circle cx="924.8" cy="897.3" r="9.6"/>
<circle cx="924.8" cy="918.9" r="9.6"/>
<circle cx="925.0" cy="915.1" r="9.6"/>
<circle cx="925.1" cy="924.3" r="9.6"/>
<circle cx="925.1" cy="897.8" r="9.6"/>
<circle cx="925.2" cy="939.1" r="9.6"/>
<circle cx="925.2" cy="926.8" r="9.6"/>
<circle cx="925.3" cy="943.3" r="9.6"/>
<circle cx="925.7" cy="874.3" r="9.6"/>
<circle cx="926.0" cy="923.8" r="9.6"/>
<circle cx="926.3" cy="889.0" r="9.6"/>
<circle cx="927.0" cy="943.0" r="9.6"/>
<circle cx="927.5" cy="940.6" r="9.6"/>
<circle cx="927.6" cy="946.8" r="9.6"/>
<circle cx="927.7" cy="934.8" r="9.6"/>
<circle cx="927.8" cy="914.9" r="9.6"/>
<circle cx="927.9" cy="934.9" r="9.6"/>
<circle cx="928.2" cy="936.4" r="9.6"/>
<circle cx="928.3" cy="932.5" r="9.6"/>
<circle cx="928.4" cy="925.8" r="9.6"/>
<circle cx="928.5" cy="925.5" r="9.6"/>
<circle cx="928.8" cy="942.4" r="9.6"/>
<circle cx="928.8" cy="894.4" r="9.6"/>
<circle cx="929.0" cy="898.0" r="9.6"/>
<circle cx="929.0" cy="861.0" r="9.6"/>
<circle cx="929.1" cy="919.1" r="9.6"/>
<circle cx="929.2" cy="917.3" r="9.6"/>
<circle cx="929.5" cy="937.4" r="9.6"/>
<circle cx="929.6" cy="939.3" r="9.6"/>
<circle cx="929.7" cy="938.4" r="9.6"/>
<circle cx="930.1" cy="924.5" r="9.6"/>
<circle cx="930.4" cy="940.1" r="9.6"/>
<circle cx="930.6" cy="929.4" r="9.6"/>
<circle cx="931.5" cy="920.8" r="9.6"/>
<circle cx="931.7" cy="935.1" r="9.6"/>
<circle cx="931.8" cy="931.2" r="9.6"/>
<circle cx="932.2" cy="929.6" r="9.6"/>
<circle cx="932.8" cy="934.5" r="9.6"/>
<circle cx="933.2" cy="923.2" r="9.6"/>
<circle cx="933.7" cy="915.5" r="9.6"/>
<circle cx="935.3" cy="909.5" r="9.6"/>
<circle cx="935.6" cy="925.1" r="9.6"/>
<circle cx="935.6" cy="894.6" r="9.6"/>
<circle cx="935.6" cy="875.9" r="9.6"/>
<circle cx="936.5" cy="937.2" r="9.6"/>
<circle cx="936.5" cy="897.2" r="9.6"/>
<circle cx="936.6" cy="941.4" r="9.6"/>
<circle cx="936.8" cy="934.1" r="9.6"/>
<circle cx="937.2" cy="907.2" r="9.6"/>
<circle cx="937.3" cy="844.4" r="9.6"/>
<circle cx="937.4" cy="937.8" r="9.6"/>
<circle cx="937.7" cy="938.1" r="9.6"/>
<circle cx="938.0" cy="928.0" r="9.6"/>
<circle cx="939.0" cy="905.8" r="9.6"/>
<circle cx="939.2" cy="884.7" r="9.6"/>
<circle cx="939.6" cy="939.6" r="9.6"/>
<circle cx="939.6" cy="934.2" r="9.6"/>
<circle cx="939.8" cy="941.9" r="9.6"/>
<circle cx="939.8" cy="903.4" r="9.6"/>
<circle cx="939.9" cy="943.5" r="9.6"/>
<circle cx="940.0" cy="942.8" r="9.6"/>
<circle cx="940.1" cy="937.7" r="9.6"/>
<circle cx="940.2" cy="905.2" r="9.6"/>
<circle cx="940.4" cy="939.0" r="9.6"/>
<circle cx="940.7" cy="946.3" r="9.6"/>
<circle cx="941.0" cy="934.0" r="9.6"/>
<circle cx="941.1" cy="892.2" r="9.6"/>
<circle cx="941.3" cy="906.3" r="9.6"/>
<circle cx="941.7" cy="927.4" r="9.6"/>
<circle cx="941.7" cy="930.0" r="9.6"/>
<circle cx="942.1" cy="903.5" r="9.6"/>
<circle cx="942.3" cy="844.4" r="9.6"/>
<circle cx="942.5" cy="938.1" r="9.6"/>
<circle cx="942.7" cy="935.9" r="9.6"/>
<circle cx="942.7" cy="939.5" r="9.6"/>
<circle cx="942.8" cy="937.1" r="9.6"/>
<circle cx="943.4" cy="943.3" r="9.6"/>
<circle cx="943.9" cy="928.9" r="9.6"/>
<circle cx="945.9" cy="931.2" r="9.6"/>
<circle cx="946.0" cy="944.2" r="9.6"/>
<circle cx="946.1" cy="945.0" r="9.6"/>
<circle cx="946.4" cy="934.5" r="9.6"/>
<circle cx="946.4" cy="861.8" r="9.6"/>
<circle cx="947.0" cy="946.0" r="9.6"/>
<circle cx="947.1" cy="931.8" r="9.6"/>
<circle cx="947.2" cy="844.8" r="9.6"/>
<circle cx="949.0" cy="937.7" r="9.6"/>
<circle cx="950.0" cy="933.4" r="9.6"/>
<circle cx="950.6" cy="803.8" r="9.6"/>
<circle cx="950.6" cy="917.1" r="9.6"/>
<circle cx="950.7" cy="931.8" r="9.6"/>
<circle cx="951.8" cy="898.3" r="9.6"/>
<circle cx="951.8" cy="944.4" r="9.6"/>
<circle cx="952.0" cy="909.3" r="9.6"/>
<circle cx="952.1" cy="937.8" r="9.6"/>
<circle cx="952.9" cy="928.3" r="9.6"/>
<circle cx="953.0" cy="929.4" r="9.6"/>
<circle cx="953.2" cy="902.5" r="9.6"/>
<circle cx="953.4" cy="935.4" r="9.6"/>
<circle cx="953.7" cy="943.0" r="9.6"/>
<circle cx="954.4" cy="910.4" r="9.6"/>
<circle cx="954.4" cy="937.9" r="9.6"/>
<circle cx="954.7" cy="800.0" r="9.6"/>
<circle cx="954.8" cy="925.0" r="9.6"/>
<circle cx="954.9" cy="946.9" r="9.6"/>
<circle cx="955.3" cy="928.1" r="9.6"/>
<circle cx="956.1" cy="945.0" r="9.6"/>
<circle cx="956.1" cy="931.4" r="9.6"/>
<circle cx="956.8" cy="938.6" r="9.6"/>
<circle cx="956.9" cy="943.1" r="9.6"/>
<circle cx="957.2" cy="875.9" r="9.6"/>
<circle cx="957.2" cy="915.6" r="9.6"/>
<circle cx="958.3" cy="942.7" r="9.6"/>
<circle cx="958.4" cy="922.6" r="9.6"/>
<circle cx="958.4" cy="914.3" r="9.6"/>
<circle cx="958.9" cy="921.6" r="9.6"/>
<circle cx="959.3" cy="891.3" r="9.6"/>
<circle cx="960.5" cy="915.2" r="9.6"/>
<circle cx="960.9" cy="941.8" r="9.6"/>
<circle cx="961.0" cy="930.2" r="9.6"/>
<circle cx="961.7" cy="946.2" r="9.6"/>
<circle cx="962.0" cy="919.6" r="9.6"/>
<circle cx="962.4" cy="933.7" r="9.6"/>
<circle cx="963.0" cy="937.1" r="9.6"/>
<circle cx="963.1" cy="943.2" r="9.6"/>
<circle cx="963.4" cy="905.0" r="9.6"/>
<circle cx="963.8" cy="915.1" r="9.6"/>
<circle cx="964.2" cy="935.4" r="9.6"/>
<circle cx="964.5" cy="906.9" r="9.6"/>
<circle cx="964.5" cy="932.3" r="9.6"/>
<circle cx="964.6" cy="916.8" r="9.6"/>
<circle cx="964.6" cy="944.3" r="9.6"/>
<circle cx="964.8" cy="945.3" r="9.6"/>
<circle cx="965.1" cy="928.0" r="9.6"/>
<circle cx="965.2" cy="931.1" r="9.6"/>
<circle cx="965.2" cy="909.4" r="9.6"/>
<circle cx="965.5" cy="935.9" r="9.6"/>
<circle cx="966.9" cy="943.7" r="9.6"/>
<circle cx="966.9" cy="937.6" r="9.6"/>
<circle cx="968.6" cy="925.7" r="9.6"/>
<circle cx="968.7" cy="936.0" r="9.6"/>
<circle cx="968.8" cy="799.7" r="9.6"/>
<circle cx="968.8" cy="880.9" r="9.6"/>
<circle cx="969.3" cy="930.1" r="9.6"/>
<circle cx="969.3" cy="935.7" r="9.6"/>
<circle cx="970.0" cy="941.8" r="9.6"/>
<circle cx="970.2" cy="899.5" r="9.6"/>
<circle cx="970.4" cy="931.3" r="9.6"/>
<circle cx="970.6" cy="946.0" r="9.6"/>
<circle cx="970.7" cy="942.2" r="9.6"/>
<circle cx="970.9" cy="940.7" r="9.6"/>
<circle cx="970.9" cy="946.9" r="9.6"/>
<circle cx="971.1" cy="927.8" r="9.6"/>
<circle cx="971.6" cy="946.2" r="9.6"/>
<circle cx="971.7" cy="943.0" r="9.6"/>
<circle cx="971.8" cy="936.7" r="9.6"/>
<circle cx="972.0" cy="889.4" r="9.6"/>
<circle cx="972.1" cy="943.0" r="9.6"/>
<circle cx="972.1" cy="802.2" r="9.6"/>
<circle cx="972.6" cy="831.5" r="9.6"/>
<circle cx="972.7" cy="946.0" r="9.6"/>
<circle cx="973.4" cy="928.1" r="9.6"/>
<circle cx="973.6" cy="946.1" r="9.6"/>
<circle cx="974.0" cy="945.2" r="9.6"/>
<circle cx="974.6" cy="905.7" r="9.6"/>
<circle cx="974.8" cy="930.4" r="9.6"/>
<circle cx="975.3" cy="914.7" r="9.6"/>
<circle cx="975.7" cy="931.1" r="9.6"/>
<circle cx="976.3" cy="863.5" r="9.6"/>
<circle cx="976.6" cy="936.9" r="9.6"/>
<circle cx="977.4" cy="942.8" r="9.6"/>
<circle cx="978.0" cy="912.9" r="9.6"/>
<circle cx="978.1" cy="935.5" r="9.6"/>
<circle cx="978.1" cy="942.7" r="9.6"/>
<circle cx="978.5" cy="929.4" r="9.6"/>
<circle cx="978.8" cy="933.7" r="9.6"/>
<circle cx="978.8" cy="931.4" r="9.6"/>
<circle cx="979.0" cy="942.0" r="9.6"/>
<circle cx="979.2" cy="888.6" r="9.6"/>
<circle cx="979.3" cy="943.5" r="9.6"/>
<circle cx="979.7" cy="928.6" r="9.6"/>
<circle cx="979.8" cy="901.3" r="9.6"/>
<circle cx="980.7" cy="886.8" r="9.6"/>
<circle cx="981.1" cy="938.5" r="9.6"/>
<circle cx="981.2" cy="910.4" r="9.6"/>
<circle cx="981.3" cy="921.0" r="9.6"/>
<circle cx="981.9" cy="908.7" r="9.6"/>
<circle cx="982.1" cy="882.5" r="9.6"/>
<circle cx="982.1" cy="928.3" r="9.6"/>
<circle cx="984.2" cy="928.4" r="9.6"/>
<circle cx="984.8" cy="939.0" r="9.6"/>
<circle cx="984.9" cy="932.8" r="9.6"/>
<circle cx="986.3" cy="935.4" r="9.6"/>
<circle cx="986.7" cy="942.6" r="9.6"/>
<circle cx="987.3" cy="928.3" r="9.6"/>
<circle cx="987.5" cy="934.7" r="9.6"/>
<circle cx="988.4" cy="914.5" r="9.6"/>
<circle cx="988.5" cy="932.8" r="9.6"/>
<circle cx="988.7" cy="869.3" r="9.6"/>
<circle cx="988.9" cy="915.8" r="9.6"/>
<circle cx="988.9" cy="889.5" r="9.6"/>
<circle cx="989.1" cy="944.2" r="9.6"/>
<circle cx="989.3" cy="891.9" r="9.6"/>
<circle cx="990.0" cy="885.1" r="9.6"/>
<circle cx="990.3" cy="945.1" r="9.6"/>
<circle cx="990.8" cy="898.5" r="9.6"/>
<circle cx="990.8" cy="932.8" r="9.6"/>
<circle cx="991.3" cy="900.4" r="9.6"/>
<circle cx="991.3" cy="932.7" r="9.6"/>
<circle cx="992.1" cy="946.1" r="9.6"/>
<circle cx="992.7" cy="929.6" r="9.6"/>
<circle cx="992.8" cy="845.3" r="9.6"/>
<circle cx="993.0" cy="940.7" r="9.6"/>
<circle cx="994.0" cy="893.5" r="9.6"/>
<circle cx="994.2" cy="925.9" r="9.6"/>
<circle cx="994.2" cy="910.5" r="9.6"/>
<circle cx="995.0" cy="938.8" r="9.6"/>
<circle cx="995.7" cy="898.0" r="9.6"/>
<circle cx="996.1" cy="941.4" r="9.6"/>
<circle cx="996.5" cy="929.9" r="9.6"/>
<circle cx="996.7" cy="936.7" r="9.6"/>
<circle cx="997.1" cy="887.1" r="9.6"/>
<circle cx="997.2" cy="894.0" r="9.6"/>
<circle cx="997.5" cy="773.6" r="9.6"/>
<circle cx="997.5" cy="927.7" r="9.6"/>
<circle cx="997.9" cy="936.4" r="9.6"/>
<circle cx="998.0" cy="898.8" r="9.6"/>
<circle cx="999.2" cy="930.9" r="9.6"/>
<circle cx="999.7" cy="931.5" r="9.6"/>
<circle cx="1000.3" cy="855.2" r="9.6"/>
<circle cx="1000.3" cy="877.6" r="9.6"/>
<circle cx="1000.4" cy="930.5" r="9.6"/>
<circle cx="1001.3" cy="931.6" r="9.6"/>
<circle cx="1001.7" cy="944.9" r="9.6"/>
<circle cx="1001.8" cy="942.9" r="9.6"/>
<circle cx="1002.6" cy="933.6" r="9.6"/>
<circle cx="1002.6" cy="943.6" r="9.6"/>
<circle cx="1002.9" cy="945.0" r="9.6"/>
<circle cx="1002.9" cy="928.5" r="9.6"/>
<circle cx="1003.1" cy="946.9" r="9.6"/>
<circle cx="1003.1" cy="924.9" r="9.6"/>
<circle cx="1003.7" cy="922.3" r="9.6"/>
<circle cx="1004.6" cy="933.2" r="9.6"/>
<circle cx="1005.1" cy="939.1" r="9.6"/>
<circle cx="1005.4" cy="941.8" r="9.6"/>
<circle cx="1006.6" cy="935.4" r="9.6"/>
<circle cx="1006.7" cy="934.9" r="9.6"/>
<circle cx="1006.7" cy="930.2" r="9.6"/>
<circle cx="1006.8" cy="944.1" r="9.6"/>
<circle cx="1007.4" cy="945.4" r="9.6"/>
<circle cx="1007.6" cy="935.0" r="9.6"/>
<circle cx="1007.9" cy="933.6" r="9.6"/>
<circle cx="1008.3" cy="934.5" r="9.6"/>
<circle cx="1008.4" cy="917.6" r="9.6"/>
<circle cx="1008.6" cy="900.8" r="9.6"/>
<circle cx="1009.1" cy="831.5" r="9.6"/>
<circle cx="1009.1" cy="946.7" r="9.6"/>
<circle cx="1010.0" cy="942.3" r="9.6"/>
<circle cx="1010.2" cy="941.3" r="9.6"/>
<circle cx="1010.7" cy="940.9" r="9.6"/>
<circle cx="1010.7" cy="921.0" r="9.6"/>
<circle cx="1011.0" cy="944.5" r="9.6"/>
<circle cx="1011.0" cy="944.7" r="9.6"/>
<circle cx="1011.9" cy="939.8" r="9.6"/>
<circle cx="1012.0" cy="905.0" r="9.6"/>
<circle cx="1012.3" cy="903.7" r="9.6"/>
<circle cx="1012.5" cy="934.4" r="9.6"/>
<circle cx="1012.8" cy="933.4" r="9.6"/>
<circle cx="1013.6" cy="884.2" r="9.6"/>
<circle cx="1013.7" cy="943.6" r="9.6"/>
<circle cx="1014.7" cy="940.0" r="9.6"/>
<circle cx="1015.3" cy="946.8" r="9.6"/>
<circle cx="1016.0" cy="944.6" r="9.6"/>
<circle cx="1017.1" cy="935.5" r="9.6"/>
<circle cx="1017.4" cy="912.4" r="9.6"/>
<circle cx="1017.8" cy="911.8" r="9.6"/>
<circle cx="1018.1" cy="920.2" r="9.6"/>
<circle cx="1018.3" cy="919.0" r="9.6"/>
<circle cx="1018.3" cy="945.0" r="9.6"/>
<circle cx="1018.5" cy="933.0" r="9.6"/>
<circle cx="1018.7" cy="936.9" r="9.6"/>
<circle cx="1018.8" cy="941.3" r="9.6"/>
<circle cx="1018.8" cy="946.6" r="9.6"/>
<circle cx="1018.9" cy="941.4" r="9.6"/>
<circle cx="1021.1" cy="938.8" r="9.6"/>
<circle cx="1021.2" cy="945.6" r="9.6"/>
<circle cx="1021.7" cy="945.3" r="9.6"/>
<circle cx="1022.0" cy="931.2" r="9.6"/>
<circle cx="1022.0" cy="929.9" r="9.6"/>
<circle cx="1022.1" cy="929.4" r="9.6"/>
<circle cx="1022.2" cy="934.4" r="9.6"/>
<circle cx="1022.2" cy="928.8" r="9.6"/>
<circle cx="1022.3" cy="933.0" r="9.6"/>
<circle cx="1022.9" cy="940.2" r="9.6"/>
<circle cx="1023.5" cy="899.1" r="9.6"/>
<circle cx="1024.3" cy="937.4" r="9.6"/>
<circle cx="1024.7" cy="831.5" r="9.6"/>
<circle cx="1024.8" cy="908.6" r="9.6"/>
<circle cx="1025.3" cy="942.2" r="9.6"/>
<circle cx="1025.7" cy="924.9" r="9.6"/>
<circle cx="1026.0" cy="914.5" r="9.6"/>
<circle cx="1026.2" cy="900.8" r="9.6"/>
<circle cx="1026.4" cy="925.8" r="9.6"/>
<circle cx="1026.7" cy="905.4" r="9.6"/>
<circle cx="1027.2" cy="946.5" r="9.6"/>
<circle cx="1027.2" cy="942.3" r="9.6"/>
<circle cx="1028.0" cy="938.1" r="9.6"/>
<circle cx="1028.1" cy="937.2" r="9.6"/>
<circle cx="1028.3" cy="943.5" r="9.6"/>
<circle cx="1028.5" cy="942.9" r="9.6"/>
<circle cx="1028.7" cy="942.7" r="9.6"/>
<circle cx="1029.0" cy="943.7" r="9.6"/>
<circle cx="1029.7" cy="923.0" r="9.6"/>
<circle cx="1030.8" cy="941.7" r="9.6"/>
<circle cx="1030.9" cy="943.9" r="9.6"/>
<circle cx="1031.0" cy="929.3" r="9.6"/>
<circle cx="1031.1" cy="946.9" r="9.6"/>
<circle cx="1031.2" cy="900.9" r="9.6"/>
<circle cx="1031.5" cy="922.2" r="9.6"/>
<circle cx="1031.7" cy="944.0" r="9.6"/>
<circle cx="1031.8" cy="875.9" r="9.6"/>
<circle cx="1031.9" cy="946.4" r="9.6"/>
<circle cx="1033.3" cy="933.7" r="9.6"/>
<circle cx="1034.5" cy="939.7" r="9.6"/>
<circle cx="1034.7" cy="929.9" r="9.6"/>
<circle cx="1035.0" cy="910.6" r="9.6"/>
<circle cx="1035.1" cy="925.3" r="9.6"/>
<circle cx="1035.1" cy="907.6" r="9.6"/>
<circle cx="1035.5" cy="907.8" r="9.6"/>
<circle cx="1035.9" cy="902.5" r="9.6"/>
<circle cx="1035.9" cy="913.7" r="9.6"/>
<circle cx="1036.2" cy="937.2" r="9.6"/>
<circle cx="1036.4" cy="910.8" r="9.6"/>
<circle cx="1037.2" cy="908.1" r="9.6"/>
<circle cx="1037.3" cy="924.9" r="9.6"/>
<circle cx="1037.4" cy="928.7" r="9.6"/>
<circle cx="1037.6" cy="930.0" r="9.6"/>
<circle cx="1038.5" cy="923.1" r="9.6"/>
<circle cx="1039.2" cy="890.8" r="9.6"/>
<circle cx="1040.1" cy="817.9" r="9.6"/>
<circle cx="1040.7" cy="919.9" r="9.6"/>
<circle cx="1040.8" cy="939.5" r="9.6"/>
<circle cx="1041.1" cy="941.3" r="9.6"/>
<circle cx="1041.3" cy="902.9" r="9.6"/>
<circle cx="1041.4" cy="939.1" r="9.6"/>
<circle cx="1041.6" cy="938.6" r="9.6"/>
<circle cx="1041.7" cy="946.8" r="9.6"/>
<circle cx="1041.8" cy="906.4" r="9.6"/>
<circle cx="1042.6" cy="937.1" r="9.6"/>
<circle cx="1043.3" cy="918.9" r="9.6"/>
<circle cx="1043.3" cy="946.1" r="9.6"/>
<circle cx="1043.5" cy="908.6" r="9.6"/>
<circle cx="1043.9" cy="926.9" r="9.6"/>
<circle cx="1044.2" cy="919.9" r="9.6"/>
<circle cx="1044.6" cy="930.6" r="9.6"/>
<circle cx="1045.0" cy="925.2" r="9.6"/>
<circle cx="1046.5" cy="935.3" r="9.6"/>
<circle cx="1046.7" cy="859.3" r="9.6"/>
<circle cx="1046.9" cy="940.0" r="9.6"/>
<circle cx="1048.4" cy="802.2" r="9.6"/>
<circle cx="1048.4" cy="915.8" r="9.6"/>
<circle cx="1048.5" cy="944.8" r="9.6"/>
<circle cx="1048.7" cy="935.1" r="9.6"/>
<circle cx="1049.1" cy="937.8" r="9.6"/>
<circle cx="1049.2" cy="817.9" r="9.6"/>
<circle cx="1049.4" cy="920.7" r="9.6"/>
<circle cx="1049.8" cy="936.4" r="9.6"/>
<circle cx="1050.0" cy="935.0" r="9.6"/>
<circle cx="1050.0" cy="802.2" r="9.6"/>
<circle cx="1050.3" cy="924.8" r="9.6"/>
<circle cx="1050.8" cy="943.8" r="9.6"/>
<circle cx="1050.9" cy="944.8" r="9.6"/>
<circle cx="1051.1" cy="912.2" r="9.6"/>
<circle cx="1051.2" cy="918.1" r="9.6"/>
<circle cx="1051.9" cy="941.7" r="9.6"/>
<circle cx="1052.0" cy="943.4" r="9.6"/>
<circle cx="1052.3" cy="943.9" r="9.6"/>
<circle cx="1052.8" cy="932.2" r="9.6"/>
<circle cx="1052.8" cy="940.5" r="9.6"/>
<circle cx="1053.0" cy="917.2" r="9.6"/>
<circle cx="1053.1" cy="944.1" r="9.6"/>
<circle cx="1053.5" cy="942.7" r="9.6"/>
<circle cx="1053.6" cy="945.2" r="9.6"/>
<circle cx="1053.7" cy="936.3" r="9.6"/>
<circle cx="1054.1" cy="928.8" r="9.6"/>
<circle cx="1054.1" cy="891.6" r="9.6"/>
<circle cx="1054.4" cy="938.5" r="9.6"/>
<circle cx="1055.5" cy="942.5" r="9.6"/>
<circle cx="1056.3" cy="918.3" r="9.6"/>
<circle cx="1056.7" cy="943.5" r="9.6"/>
<circle cx="1056.7" cy="945.0" r="9.6"/>
<circle cx="1058.5" cy="941.6" r="9.6"/>
<circle cx="1058.6" cy="944.0" r="9.6"/>
<circle cx="1058.6" cy="944.6" r="9.6"/>
<circle cx="1058.6" cy="946.6" r="9.6"/>
<circle cx="1058.7" cy="933.7" r="9.6"/>
<circle cx="1059.3" cy="911.7" r="9.6"/>
<circle cx="1059.9" cy="854.4" r="9.6"/>
<circle cx="1061.2" cy="942.8" r="9.6"/>
<circle cx="1061.2" cy="931.7" r="9.6"/>
<circle cx="1061.6" cy="844.4" r="9.6"/>
<circle cx="1062.1" cy="884.5" r="9.6"/>
<circle cx="1062.4" cy="861.0" r="9.6"/>
<circle cx="1063.0" cy="927.1" r="9.6"/>
<circle cx="1063.1" cy="939.8" r="9.6"/>
<circle cx="1064.4" cy="941.6" r="9.6"/>
<circle cx="1064.5" cy="918.9" r="9.6"/>
<circle cx="1064.7" cy="945.4" r="9.6"/>
<circle cx="1065.0" cy="917.7" r="9.6"/>
<circle cx="1065.5" cy="932.8" r="9.6"/>
<circle cx="1066.6" cy="870.9" r="9.6"/>
<circle cx="1066.7" cy="931.9" r="9.6"/>
<circle cx="1068.0" cy="897.8" r="9.6"/>
<circle cx="1068.1" cy="929.8" r="9.6"/>
<circle cx="1068.5" cy="936.3" r="9.6"/>
<circle cx="1068.9" cy="908.6" r="9.6"/>
<circle cx="1069.7" cy="943.3" r="9.6"/>
<circle cx="1069.9" cy="920.1" r="9.6"/>
<circle cx="1070.0" cy="922.4" r="9.6"/>
<circle cx="1070.2" cy="908.4" r="9.6"/>
<circle cx="1070.7" cy="932.3" r="9.6"/>
<circle cx="1070.9" cy="934.3" r="9.6"/>
<circle cx="1071.1" cy="908.9" r="9.6"/>
<circle cx="1071.8" cy="947.0" r="9.6"/>
<circle cx="1072.0" cy="899.2" r="9.6"/>
<circle cx="1072.0" cy="940.1" r="9.6"/>
<circle cx="1072.1" cy="916.7" r="9.6"/>
<circle cx="1072.9" cy="944.8" r="9.6"/>
<circle cx="1073.2" cy="802.2" r="9.6"/>
<circle cx="1073.5" cy="940.8" r="9.6"/>
<circle cx="1073.8" cy="909.4" r="9.6"/>
<circle cx="1074.4" cy="939.4" r="9.6"/>
<circle cx="1074.9" cy="872.6" r="9.6"/>
<circle cx="1075.0" cy="896.0" r="9.6"/>
<circle cx="1075.1" cy="938.8" r="9.6"/>
<circle cx="1075.8" cy="935.4" r="9.6"/>
<circle cx="1075.8" cy="931.5" r="9.6"/>
<circle cx="1076.0" cy="935.9" r="9.6"/>
<circle cx="1076.0" cy="921.7" r="9.6"/>
<circle cx="1076.0" cy="909.6" r="9.6"/>
<circle cx="1076.5" cy="906.4" r="9.6"/>
<circle cx="1076.5" cy="829.5" r="9.6"/>
<circle cx="1076.8" cy="940.2" r="9.6"/>
<circle cx="1077.9" cy="943.0" r="9.6"/>
<circle cx="1078.7" cy="945.7" r="9.6"/>
<circle cx="1078.9" cy="933.9" r="9.6"/>
<circle cx="1079.5" cy="917.2" r="9.6"/>
<circle cx="1081.4" cy="926.7" r="9.6"/>
<circle cx="1081.6" cy="939.6" r="9.6"/>
<circle cx="1081.8" cy="928.2" r="9.6"/>
<circle cx="1082.2" cy="943.2" r="9.6"/>
<circle cx="1082.4" cy="892.6" r="9.6"/>
<circle cx="1082.8" cy="910.0" r="9.6"/>
<circle cx="1082.8" cy="936.1" r="9.6"/>
<circle cx="1082.9" cy="946.4" r="9.6"/>
<circle cx="1083.2" cy="942.0" r="9.6"/>
<circle cx="1083.7" cy="943.2" r="9.6"/>
<circle cx="1084.1" cy="930.3" r="9.6"/>
<circle cx="1084.6" cy="937.0" r="9.6"/>
<circle cx="1084.7" cy="934.0" r="9.6"/>
<circle cx="1084.8" cy="945.9" r="9.6"/>
<circle cx="1084.8" cy="897.4" r="9.6"/>
<circle cx="1084.8" cy="831.2" r="9.6"/>
<circle cx="1085.0" cy="941.3" r="9.6"/>
<circle cx="1085.0" cy="941.6" r="9.6"/>
<circle cx="1085.5" cy="943.0" r="9.6"/>
<circle cx="1085.6" cy="919.1" r="9.6"/>
<circle cx="1086.2" cy="937.7" r="9.6"/>
<circle cx="1086.5" cy="894.9" r="9.6"/>
<circle cx="1086.9" cy="938.0" r="9.6"/>
<circle cx="1087.2" cy="914.6" r="9.6"/>
<circle cx="1087.2" cy="938.1" r="9.6"/>
<circle cx="1087.3" cy="845.3" r="9.6"/>
<circle cx="1087.5" cy="941.6" r="9.6"/>
<circle cx="1087.7" cy="928.9" r="9.6"/>
<circle cx="1087.8" cy="899.6" r="9.6"/>
<circle cx="1088.1" cy="941.1" r="9.6"/>
<circle cx="1088.1" cy="877.6" r="9.6"/>
<circle cx="1088.2" cy="930.6" r="9.6"/>
<circle cx="1089.8" cy="832.0" r="9.6"/>
<circle cx="1089.9" cy="887.9" r="9.6"/>
<circle cx="1090.0" cy="936.7" r="9.6"/>
<circle cx="1091.4" cy="944.3" r="9.6"/>
<circle cx="1092.3" cy="937.8" r="9.6"/>
<circle cx="1092.7" cy="927.9" r="9.6"/>
<circle cx="1093.4" cy="921.2" r="9.6"/>
<circle cx="1094.9" cy="892.9" r="9.6"/>
<circle cx="1095.3" cy="944.8" r="9.6"/>
<circle cx="1095.4" cy="932.1" r="9.6"/>
<circle cx="1095.4" cy="934.0" r="9.6"/>
<circle cx="1095.8" cy="935.2" r="9.6"/>
<circle cx="1096.4" cy="942.7" r="9.6"/>
<circle cx="1097.0" cy="932.4" r="9.6"/>
<circle cx="1097.8" cy="904.2" r="9.6"/>
<circle cx="1098.1" cy="911.1" r="9.6"/>
<circle cx="1098.2" cy="937.9" r="9.6"/>
<circle cx="1098.3" cy="918.4" r="9.6"/>
<circle cx="1099.2" cy="911.6" r="9.6"/>
<circle cx="1100.1" cy="925.4" r="9.6"/>
<circle cx="1100.2" cy="946.4" r="9.6"/>
<circle cx="1100.5" cy="902.6" r="9.6"/>
<circle cx="1100.8" cy="939.8" r="9.6"/>
<circle cx="1100.9" cy="918.9" r="9.6"/>
<circle cx="1101.1" cy="927.3" r="9.6"/>
<circle cx="1101.2" cy="907.3" r="9.6"/>
<circle cx="1101.4" cy="941.6" r="9.6"/>
<circle cx="1101.9" cy="898.1" r="9.6"/>
<circle cx="1101.9" cy="866.8" r="9.6"/>
<circle cx="1102.0" cy="936.7" r="9.6"/>
<circle cx="1102.5" cy="802.2" r="9.6"/>
<circle cx="1102.6" cy="900.7" r="9.6"/>
<circle cx="1102.7" cy="913.8" r="9.6"/>
<circle cx="1102.9" cy="936.0" r="9.6"/>
<circle cx="1102.9" cy="936.2" r="9.6"/>
<circle cx="1103.0" cy="832.0" r="9.6"/>
<circle cx="1103.0" cy="882.5" r="9.6"/>
<circle cx="1103.3" cy="913.9" r="9.6"/>
<circle cx="1103.3" cy="926.2" r="9.6"/>
<circle cx="1103.3" cy="898.8" r="9.6"/>
<circle cx="1103.5" cy="904.8" r="9.6"/>
<circle cx="1103.6" cy="933.5" r="9.6"/>
<circle cx="1103.7" cy="904.6" r="9.6"/>
<circle cx="1103.9" cy="901.6" r="9.6"/>
<circle cx="1104.3" cy="940.3" r="9.6"/>
<circle cx="1104.5" cy="909.9" r="9.6"/>
<circle cx="1104.6" cy="943.9" r="9.6"/>
<circle cx="1105.5" cy="930.1" r="9.6"/>
<circle cx="1105.6" cy="935.1" r="9.6"/>
<circle cx="1105.8" cy="937.2" r="9.6"/>
<circle cx="1106.1" cy="939.5" r="9.6"/>
<circle cx="1106.9" cy="944.1" r="9.6"/>
<circle cx="1107.0" cy="940.2" r="9.6"/>
<circle cx="1107.4" cy="946.5" r="9.6"/>
<circle cx="1108.0" cy="946.8" r="9.6"/>
<circle cx="1108.1" cy="912.5" r="9.6"/>
<circle cx="1108.6" cy="937.1" r="9.6"/>
<circle cx="1108.8" cy="941.6" r="9.6"/>
<circle cx="1109.1" cy="905.2" r="9.6"/>
<circle cx="1109.1" cy="944.7" r="9.6"/>
<circle cx="1109.1" cy="924.2" r="9.6"/>
<circle cx="1109.8" cy="941.6" r="9.6"/>
<circle cx="1109.9" cy="941.4" r="9.6"/>
<circle cx="1110.3" cy="946.5" r="9.6"/>
<circle cx="1111.9" cy="946.0" r="9.6"/>
<circle cx="1112.2" cy="931.0" r="9.6"/>
<circle cx="1112.3" cy="939.0" r="9.6"/>
<circle cx="1112.9" cy="935.3" r="9.6"/>
<circle cx="1113.0" cy="890.0" r="9.6"/>
<circle cx="1113.4" cy="907.9" r="9.6"/>
<circle cx="1113.5" cy="920.3" r="9.6"/>
<circle cx="1113.6" cy="942.0" r="9.6"/>
<circle cx="1114.0" cy="915.4" r="9.6"/>
<circle cx="1114.3" cy="934.2" r="9.6"/>
<circle cx="1115.0" cy="931.9" r="9.6"/>
<circle cx="1115.5" cy="923.5" r="9.6"/>
<circle cx="1116.1" cy="930.3" r="9.6"/>
<circle cx="1117.7" cy="916.4" r="9.6"/>
<circle cx="1118.1" cy="930.8" r="9.6"/>
<circle cx="1118.1" cy="909.4" r="9.6"/>
<circle cx="1118.4" cy="943.0" r="9.6"/>
<circle cx="1119.0" cy="934.3" r="9.6"/>
<circle cx="1119.0" cy="937.9" r="9.6"/>
<circle cx="1119.3" cy="892.7" r="9.6"/>
<circle cx="1119.6" cy="875.9" r="9.6"/>
<circle cx="1119.7" cy="945.6" r="9.6"/>
<circle cx="1120.0" cy="924.1" r="9.6"/>
<circle cx="1120.2" cy="886.7" r="9.6"/>
<circle cx="1120.6" cy="945.9" r="9.6"/>
<circle cx="1120.7" cy="941.7" r="9.6"/>
<circle cx="1120.7" cy="914.5" r="9.6"/>
<circle cx="1120.9" cy="860.2" r="9.6"/>
<circle cx="1121.8" cy="908.6" r="9.6"/>
<circle cx="1122.7" cy="931.7" r="9.6"/>
<circle cx="1122.7" cy="945.4" r="9.6"/>
<circle cx="1123.4" cy="942.4" r="9.6"/>
<circle cx="1123.6" cy="942.4" r="9.6"/>
<circle cx="1123.8" cy="932.9" r="9.6"/>
<circle cx="1124.6" cy="934.9" r="9.6"/>
<circle cx="1126.2" cy="934.0" r="9.6"/>
<circle cx="1126.5" cy="942.8" r="9.6"/>
<circle cx="1126.5" cy="910.4" r="9.6"/>
<circle cx="1127.1" cy="929.3" r="9.6"/>
<circle cx="1127.2" cy="895.0" r="9.6"/>
<circle cx="1128.4" cy="805.5" r="9.6"/>
<circle cx="1128.8" cy="937.3" r="9.6"/>
<circle cx="1129.0" cy="941.2" r="9.6"/>
<circle cx="1129.0" cy="912.5" r="9.6"/>
<circle cx="1129.2" cy="939.9" r="9.6"/>
<circle cx="1129.2" cy="942.4" r="9.6"/>
<circle cx="1129.3" cy="945.9" r="9.6"/>
<circle cx="1129.6" cy="881.7" r="9.6"/>
<circle cx="1130.0" cy="905.4" r="9.6"/>
<circle cx="1130.1" cy="829.2" r="9.6"/>
<circle cx="1130.2" cy="893.1" r="9.6"/>
<circle cx="1130.3" cy="930.3" r="9.6"/>
<circle cx="1130.4" cy="908.7" r="9.6"/>
<circle cx="1131.2" cy="927.2" r="9.6"/>
<circle cx="1131.7" cy="944.8" r="9.6"/>
<circle cx="1132.1" cy="907.3" r="9.6"/>
<circle cx="1132.2" cy="905.2" r="9.6"/>
<circle cx="1132.3" cy="913.9" r="9.6"/>
<circle cx="1132.3" cy="904.7" r="9.6"/>
<circle cx="1132.7" cy="941.1" r="9.6"/>
<circle cx="1133.1" cy="938.7" r="9.6"/>
<circle cx="1133.5" cy="942.5" r="9.6"/>
<circle cx="1133.6" cy="945.8" r="9.6"/>
<circle cx="1133.8" cy="918.6" r="9.6"/>
<circle cx="1134.7" cy="913.6" r="9.6"/>
<circle cx="1134.7" cy="941.4" r="9.6"/>
<circle cx="1135.9" cy="941.0" r="9.6"/>
<circle cx="1136.4" cy="939.3" r="9.6"/>
<circle cx="1136.6" cy="937.3" r="9.6"/>
<circle cx="1137.3" cy="943.0" r="9.6"/>
<circle cx="1137.5" cy="921.0" r="9.6"/>
<circle cx="1137.7" cy="931.2" r="9.6"/>
<circle cx="1137.7" cy="946.2" r="9.6"/>
<circle cx="1137.7" cy="918.8" r="9.6"/>
<circle cx="1137.8" cy="931.5" r="9.6"/>
<circle cx="1138.0" cy="918.4" r="9.6"/>
<circle cx="1138.2" cy="921.2" r="9.6"/>
<circle cx="1138.3" cy="942.2" r="9.6"/>
<circle cx="1138.5" cy="912.9" r="9.6"/>
<circle cx="1139.0" cy="942.7" r="9.6"/>
<circle cx="1139.1" cy="929.1" r="9.6"/>
<circle cx="1139.6" cy="937.9" r="9.6"/>
<circle cx="1139.7" cy="943.7" r="9.6"/>
<circle cx="1139.9" cy="919.1" r="9.6"/>
<circle cx="1140.1" cy="941.6" r="9.6"/>
<circle cx="1140.3" cy="857.7" r="9.6"/>
<circle cx="1142.3" cy="943.7" r="9.6"/>
<circle cx="1142.8" cy="858.5" r="9.6"/>
<circle cx="1143.1" cy="923.2" r="9.6"/>
<circle cx="1144.2" cy="913.9" r="9.6"/>
<circle cx="1144.7" cy="942.8" r="9.6"/>
<circle cx="1145.5" cy="943.8" r="9.6"/>
<circle cx="1145.9" cy="945.1" r="9.6"/>
<circle cx="1146.1" cy="940.3" r="9.6"/>
<circle cx="1146.5" cy="902.5" r="9.6"/>
<circle cx="1146.5" cy="936.3" r="9.6"/>
<circle cx="1146.6" cy="939.1" r="9.6"/>
<circle cx="1147.1" cy="944.5" r="9.6"/>
<circle cx="1148.3" cy="920.5" r="9.6"/>
<circle cx="1149.2" cy="943.0" r="9.6"/>
<circle cx="1149.4" cy="936.6" r="9.6"/>
<circle cx="1149.5" cy="939.3" r="9.6"/>
<circle cx="1149.5" cy="891.7" r="9.6"/>
<circle cx="1149.5" cy="875.9" r="9.6"/>
<circle cx="1149.6" cy="917.5" r="9.6"/>
<circle cx="1152.0" cy="907.7" r="9.6"/>
<circle cx="1152.7" cy="937.1" r="9.6"/>
<circle cx="1153.5" cy="917.1" r="9.6"/>
<circle cx="1154.0" cy="931.6" r="9.6"/>
<circle cx="1154.4" cy="860.2" r="9.6"/>
<circle cx="1154.5" cy="944.8" r="9.6"/>
<circle cx="1155.5" cy="941.2" r="9.6"/>
<circle cx="1155.5" cy="915.6" r="9.6"/>
<circle cx="1155.5" cy="946.1" r="9.6"/>
<circle cx="1155.7" cy="946.8" r="9.6"/>
<circle cx="1155.8" cy="929.4" r="9.6"/>
<circle cx="1155.8" cy="935.4" r="9.6"/>
<circle cx="1156.7" cy="932.6" r="9.6"/>
<circle cx="1156.9" cy="911.0" r="9.6"/>
<circle cx="1157.4" cy="906.9" r="9.6"/>
<circle cx="1157.8" cy="936.5" r="9.6"/>
<circle cx="1158.3" cy="925.7" r="9.6"/>
<circle cx="1158.6" cy="829.2" r="9.6"/>
<circle cx="1159.0" cy="934.2" r="9.6"/>
<circle cx="1159.4" cy="875.9" r="9.6"/>
<circle cx="1160.0" cy="942.0" r="9.6"/>
<circle cx="1160.0" cy="943.9" r="9.6"/>
<circle cx="1160.1" cy="916.0" r="9.6"/>
<circle cx="1160.8" cy="938.5" r="9.6"/>
<circle cx="1161.0" cy="942.2" r="9.6"/>
<circle cx="1161.0" cy="941.4" r="9.6"/>
<circle cx="1161.4" cy="946.2" r="9.6"/>
<circle cx="1161.4" cy="942.6" r="9.6"/>
<circle cx="1161.6" cy="931.4" r="9.6"/>
<circle cx="1162.8" cy="945.7" r="9.6"/>
<circle cx="1162.8" cy="926.6" r="9.6"/>
<circle cx="1162.9" cy="927.9" r="9.6"/>
<circle cx="1163.1" cy="930.4" r="9.6"/>
<circle cx="1163.2" cy="941.1" r="9.6"/>
<circle cx="1163.2" cy="945.6" r="9.6"/>
<circle cx="1163.8" cy="932.0" r="9.6"/>
<circle cx="1163.9" cy="937.2" r="9.6"/>
<circle cx="1163.9" cy="934.8" r="9.6"/>
<circle cx="1164.0" cy="914.7" r="9.6"/>
<circle cx="1164.1" cy="943.1" r="9.6"/>
<circle cx="1164.2" cy="943.0" r="9.6"/>
<circle cx="1164.5" cy="934.7" r="9.6"/>
<circle cx="1164.7" cy="943.8" r="9.6"/>
<circle cx="1167.3" cy="942.0" r="9.6"/>
<circle cx="1167.8" cy="902.0" r="9.6"/>
<circle cx="1167.9" cy="944.7" r="9.6"/>
<circle cx="1168.1" cy="906.8" r="9.6"/>
<circle cx="1168.3" cy="942.3" r="9.6"/>
<circle cx="1168.4" cy="946.1" r="9.6"/>
<circle cx="1168.5" cy="937.4" r="9.6"/>
<circle cx="1168.8" cy="911.4" r="9.6"/>
<circle cx="1169.1" cy="917.4" r="9.6"/>
<circle cx="1169.2" cy="943.3" r="9.6"/>
<circle cx="1169.3" cy="891.7" r="9.6"/>
<circle cx="1170.2" cy="927.4" r="9.6"/>
<circle cx="1170.9" cy="934.4" r="9.6"/>
<circle cx="1171.1" cy="934.8" r="9.6"/>
<circle cx="1171.1" cy="927.9" r="9.6"/>
<circle cx="1171.4" cy="944.2" r="9.6"/>
<circle cx="1172.7" cy="875.9" r="9.6"/>
<circle cx="1172.8" cy="910.8" r="9.6"/>
<circle cx="1172.8" cy="945.0" r="9.6"/>
<circle cx="1173.3" cy="913.9" r="9.6"/>
<circle cx="1173.9" cy="941.4" r="9.6"/>
<circle cx="1173.9" cy="934.2" r="9.6"/>
<circle cx="1174.1" cy="936.3" r="9.6"/>
<circle cx="1175.0" cy="946.5" r="9.6"/>
<circle cx="1175.2" cy="938.0" r="9.6"/>
<circle cx="1176.0" cy="939.6" r="9.6"/>
<circle cx="1176.4" cy="934.9" r="9.6"/>
<circle cx="1176.8" cy="941.1" r="9.6"/>
<circle cx="1178.0" cy="911.8" r="9.6"/>
<circle cx="1178.0" cy="910.1" r="9.6"/>
<circle cx="1178.0" cy="907.8" r="9.6"/>
<circle cx="1178.9" cy="942.9" r="9.6"/>
<circle cx="1179.0" cy="906.6" r="9.6"/>
<circle cx="1179.2" cy="927.0" r="9.6"/>
<circle cx="1179.7" cy="945.8" r="9.6"/>
<circle cx="1179.7" cy="915.4" r="9.6"/>
<circle cx="1179.9" cy="942.8" r="9.6"/>
<circle cx="1180.1" cy="938.4" r="9.6"/>
<circle cx="1180.5" cy="944.4" r="9.6"/>
<circle cx="1181.0" cy="944.4" r="9.6"/>
<circle cx="1181.3" cy="935.1" r="9.6"/>
<circle cx="1181.6" cy="897.9" r="9.6"/>
<circle cx="1181.8" cy="916.0" r="9.6"/>
<circle cx="1182.1" cy="935.6" r="9.6"/>
<circle cx="1182.5" cy="939.1" r="9.6"/>
<circle cx="1182.8" cy="914.3" r="9.6"/>
<circle cx="1183.0" cy="904.5" r="9.6"/>
<circle cx="1183.1" cy="928.8" r="9.6"/>
<circle cx="1183.7" cy="946.3" r="9.6"/>
<circle cx="1183.8" cy="941.8" r="9.6"/>
<circle cx="1183.9" cy="905.6" r="9.6"/>
<circle cx="1184.6" cy="938.0" r="9.6"/>
<circle cx="1185.2" cy="931.6" r="9.6"/>
<circle cx="1185.9" cy="872.6" r="9.6"/>
<circle cx="1186.1" cy="939.1" r="9.6"/>
<circle cx="1186.7" cy="902.5" r="9.6"/>
<circle cx="1186.8" cy="941.2" r="9.6"/>
<circle cx="1187.6" cy="941.0" r="9.6"/>
<circle cx="1188.0" cy="941.8" r="9.6"/>
<circle cx="1188.1" cy="921.7" r="9.6"/>
<circle cx="1188.4" cy="890.2" r="9.6"/>
<circle cx="1188.5" cy="940.5" r="9.6"/>
<circle cx="1188.6" cy="924.5" r="9.6"/>
<circle cx="1188.7" cy="946.0" r="9.6"/>
<circle cx="1188.9" cy="946.7" r="9.6"/>
<circle cx="1189.1" cy="904.8" r="9.6"/>
<circle cx="1189.3" cy="926.1" r="9.6"/>
<circle cx="1189.7" cy="940.1" r="9.6"/>
<circle cx="1189.8" cy="939.9" r="9.6"/>
<circle cx="1189.9" cy="909.5" r="9.6"/>
<circle cx="1190.5" cy="927.7" r="9.6"/>
<circle cx="1191.3" cy="933.4" r="9.6"/>
<circle cx="1191.7" cy="831.2" r="9.6"/>
<circle cx="1191.8" cy="946.3" r="9.6"/>
<circle cx="1192.4" cy="944.2" r="9.6"/>
<circle cx="1192.5" cy="946.5" r="9.6"/>
<circle cx="1193.0" cy="945.6" r="9.6"/>
<circle cx="1193.4" cy="841.1" r="9.6"/>
<circle cx="1194.0" cy="916.8" r="9.6"/>
<circle cx="1194.5" cy="933.5" r="9.6"/>
<circle cx="1194.6" cy="921.0" r="9.6"/>
<circle cx="1194.9" cy="946.9" r="9.6"/>
<circle cx="1195.3" cy="927.6" r="9.6"/>
<circle cx="1195.5" cy="940.6" r="9.6"/>
<circle cx="1195.9" cy="929.4" r="9.6"/>
<circle cx="1195.9" cy="900.2" r="9.6"/>
<circle cx="1196.6" cy="926.2" r="9.6"/>
<circle cx="1196.9" cy="893.5" r="9.6"/>
<circle cx="1197.1" cy="906.5" r="9.6"/>
<circle cx="1197.2" cy="911.5" r="9.6"/>
<circle cx="1197.2" cy="945.6" r="9.6"/>
<circle cx="1197.3" cy="941.6" r="9.6"/>
<circle cx="1197.4" cy="942.0" r="9.6"/>
<circle cx="1197.5" cy="851.1" r="9.6"/>
<circle cx="1197.5" cy="861.0" r="9.6"/>
<circle cx="1197.6" cy="938.3" r="9.6"/>
<circle cx="1197.8" cy="910.9" r="9.6"/>
<circle cx="1198.0" cy="925.4" r="9.6"/>
<circle cx="1198.1" cy="930.5" r="9.6"/>
<circle cx="1198.2" cy="895.7" r="9.6"/>
<circle cx="1198.6" cy="930.3" r="9.6"/>
<circle cx="1198.7" cy="942.5" r="9.6"/>
<circle cx="1199.0" cy="934.3" r="9.6"/>
<circle cx="1199.1" cy="884.5" r="9.6"/>
<circle cx="1199.2" cy="872.6" r="9.6"/>
<circle cx="1199.2" cy="915.2" r="9.6"/>
<circle cx="1200.7" cy="945.7" r="9.6"/>
<circle cx="1200.8" cy="946.7" r="9.6"/>
<circle cx="1201.3" cy="943.4" r="9.6"/>
<circle cx="1201.3" cy="934.0" r="9.6"/>
<circle cx="1201.5" cy="918.4" r="9.6"/>
<circle cx="1201.6" cy="924.6" r="9.6"/>
<circle cx="1202.1" cy="930.6" r="9.6"/>
<circle cx="1202.5" cy="945.5" r="9.6"/>
<circle cx="1202.8" cy="942.2" r="9.6"/>
<circle cx="1203.5" cy="941.3" r="9.6"/>
<circle cx="1203.6" cy="946.6" r="9.6"/>
<circle cx="1203.7" cy="931.6" r="9.6"/>
<circle cx="1204.1" cy="942.9" r="9.6"/>
<circle cx="1204.4" cy="938.8" r="9.6"/>
<circle cx="1204.6" cy="942.8" r="9.6"/>
<circle cx="1204.7" cy="929.2" r="9.6"/>
<circle cx="1205.0" cy="936.3" r="9.6"/>
<circle cx="1205.0" cy="828.7" r="9.6"/>
<circle cx="1205.1" cy="944.5" r="9.6"/>
<circle cx="1205.2" cy="916.0" r="9.6"/>
<circle cx="1205.2" cy="900.0" r="9.6"/>
<circle cx="1206.0" cy="918.8" r="9.6"/>
<circle cx="1206.4" cy="928.1" r="9.6"/>
<circle cx="1207.5" cy="859.3" r="9.6"/>
<circle cx="1208.0" cy="924.6" r="9.6"/>
<circle cx="1209.1" cy="831.2" r="9.6"/>
<circle cx="1209.7" cy="933.3" r="9.6"/>
<circle cx="1210.1" cy="919.8" r="9.6"/>
<circle cx="1210.1" cy="914.4" r="9.6"/>
<circle cx="1210.3" cy="904.5" r="9.6"/>
<circle cx="1210.4" cy="930.3" r="9.6"/>
<circle cx="1211.2" cy="945.2" r="9.6"/>
<circle cx="1212.0" cy="920.9" r="9.6"/>
<circle cx="1212.4" cy="924.4" r="9.6"/>
<circle cx="1212.4" cy="874.3" r="9.6"/>
<circle cx="1212.7" cy="883.1" r="9.6"/>
<circle cx="1213.0" cy="942.8" r="9.6"/>
<circle cx="1213.2" cy="888.1" r="9.6"/>
<circle cx="1213.8" cy="941.0" r="9.6"/>
<circle cx="1214.0" cy="883.9" r="9.6"/>
<circle cx="1214.5" cy="927.5" r="9.6"/>
<circle cx="1214.6" cy="892.4" r="9.6"/>
<circle cx="1214.8" cy="941.5" r="9.6"/>
<circle cx="1215.2" cy="940.2" r="9.6"/>
<circle cx="1215.8" cy="882.5" r="9.6"/>
<circle cx="1215.8" cy="944.5" r="9.6"/>
<circle cx="1215.9" cy="942.3" r="9.6"/>
<circle cx="1216.0" cy="946.7" r="9.6"/>
<circle cx="1216.1" cy="919.3" r="9.6"/>
<circle cx="1216.7" cy="942.1" r="9.6"/>
<circle cx="1216.9" cy="945.0" r="9.6"/>
<circle cx="1216.9" cy="909.4" r="9.6"/>
<circle cx="1219.3" cy="930.2" r="9.6"/>
<circle cx="1219.5" cy="937.1" r="9.6"/>
<circle cx="1219.7" cy="913.7" r="9.6"/>
<circle cx="1220.9" cy="937.4" r="9.6"/>
<circle cx="1221.6" cy="911.3" r="9.6"/>
<circle cx="1221.8" cy="925.2" r="9.6"/>
<circle cx="1222.1" cy="934.9" r="9.6"/>
<circle cx="1222.2" cy="885.7" r="9.6"/>
<circle cx="1223.2" cy="917.6" r="9.6"/>
<circle cx="1223.9" cy="925.7" r="9.6"/>
<circle cx="1223.9" cy="915.7" r="9.6"/>
<circle cx="1224.0" cy="838.6" r="9.6"/>
<circle cx="1225.1" cy="935.6" r="9.6"/>
<circle cx="1225.2" cy="802.2" r="9.6"/>
<circle cx="1225.6" cy="938.6" r="9.6"/>
<circle cx="1225.6" cy="915.8" r="9.6"/>
<circle cx="1225.7" cy="872.6" r="9.6"/>
<circle cx="1225.7" cy="887.4" r="9.6"/>
<circle cx="1225.8" cy="923.3" r="9.6"/>
<circle cx="1225.9" cy="946.8" r="9.6"/>
<circle cx="1226.0" cy="929.7" r="9.6"/>
<circle cx="1226.1" cy="925.6" r="9.6"/>
<circle cx="1226.5" cy="937.5" r="9.6"/>
<circle cx="1227.4" cy="928.7" r="9.6"/>
<circle cx="1227.5" cy="938.1" r="9.6"/>
<circle cx="1227.5" cy="929.0" r="9.6"/>
<circle cx="1227.8" cy="894.1" r="9.6"/>
<circle cx="1228.2" cy="841.9" r="9.6"/>
<circle cx="1228.3" cy="900.2" r="9.6"/>
<circle cx="1228.3" cy="890.4" r="9.6"/>
<circle cx="1229.1" cy="946.9" r="9.6"/>
<circle cx="1229.2" cy="946.1" r="9.6"/>
<circle cx="1229.3" cy="890.2" r="9.6"/>
<circle cx="1229.5" cy="918.4" r="9.6"/>
<circle cx="1229.9" cy="918.0" r="9.6"/>
<circle cx="1230.1" cy="884.7" r="9.6"/>
<circle cx="1230.6" cy="939.6" r="9.6"/>
<circle cx="1230.7" cy="924.1" r="9.6"/>
<circle cx="1231.4" cy="937.7" r="9.6"/>
<circle cx="1231.4" cy="932.7" r="9.6"/>
<circle cx="1231.4" cy="933.4" r="9.6"/>
<circle cx="1231.9" cy="939.5" r="9.6"/>
<circle cx="1232.3" cy="858.5" r="9.6"/>
<circle cx="1232.3" cy="882.5" r="9.6"/>
<circle cx="1232.8" cy="943.6" r="9.6"/>
<circle cx="1233.0" cy="930.5" r="9.6"/>
<circle cx="1233.1" cy="946.3" r="9.6"/>
<circle cx="1233.5" cy="830.8" r="9.6"/>
<circle cx="1233.5" cy="931.4" r="9.6"/>
<circle cx="1233.8" cy="919.9" r="9.6"/>
<circle cx="1233.8" cy="913.9" r="9.6"/>
<circle cx="1234.3" cy="936.4" r="9.6"/>
<circle cx="1234.5" cy="921.3" r="9.6"/>
<circle cx="1234.6" cy="899.8" r="9.6"/>
<circle cx="1234.9" cy="937.6" r="9.6"/>
<circle cx="1234.9" cy="945.5" r="9.6"/>
<circle cx="1235.2" cy="946.6" r="9.6"/>
<circle cx="1235.5" cy="931.6" r="9.6"/>
<circle cx="1235.6" cy="926.8" r="9.6"/>
<circle cx="1236.0" cy="928.7" r="9.6"/>
<circle cx="1236.4" cy="919.3" r="9.6"/>
<circle cx="1236.6" cy="940.5" r="9.6"/>
<circle cx="1237.1" cy="909.0" r="9.6"/>
<circle cx="1237.6" cy="922.4" r="9.6"/>
<circle cx="1238.0" cy="942.6" r="9.6"/>
<circle cx="1238.1" cy="935.8" r="9.6"/>
<circle cx="1238.7" cy="944.7" r="9.6"/>
<circle cx="1239.0" cy="872.6" r="9.6"/>
<circle cx="1239.6" cy="932.6" r="9.6"/>
<circle cx="1239.8" cy="929.9" r="9.6"/>
<circle cx="1240.2" cy="941.3" r="9.6"/>
<circle cx="1240.3" cy="922.6" r="9.6"/>
<circle cx="1240.6" cy="897.3" r="9.6"/>
<circle cx="1241.0" cy="924.9" r="9.6"/>
<circle cx="1241.2" cy="944.9" r="9.6"/>
<circle cx="1241.7" cy="928.9" r="9.6"/>
<circle cx="1241.8" cy="943.1" r="9.6"/>
<circle cx="1241.9" cy="945.0" r="9.6"/>
<circle cx="1242.0" cy="909.5" r="9.6"/>
<circle cx="1242.3" cy="861.0" r="9.6"/>
<circle cx="1242.4" cy="939.3" r="9.6"/>
<circle cx="1242.7" cy="946.3" r="9.6"/>
<circle cx="1242.9" cy="920.4" r="9.6"/>
<circle cx="1243.4" cy="939.4" r="9.6"/>
<circle cx="1243.8" cy="942.7" r="9.6"/>
<circle cx="1243.9" cy="901.4" r="9.6"/>
<circle cx="1243.9" cy="946.9" r="9.6"/>
<circle cx="1244.0" cy="935.0" r="9.6"/>
<circle cx="1244.1" cy="883.7" r="9.6"/>
<circle cx="1244.1" cy="931.5" r="9.6"/>
<circle cx="1244.3" cy="933.3" r="9.6"/>
<circle cx="1245.6" cy="931.9" r="9.6"/>
<circle cx="1245.7" cy="932.7" r="9.6"/>
<circle cx="1246.4" cy="916.6" r="9.6"/>
<circle cx="1247.6" cy="944.7" r="9.6"/>
<circle cx="1248.2" cy="887.4" r="9.6"/>
<circle cx="1248.8" cy="916.9" r="9.6"/>
<circle cx="1248.8" cy="921.2" r="9.6"/>
<circle cx="1248.9" cy="869.3" r="9.6"/>
<circle cx="1248.9" cy="907.5" r="9.6"/>
<circle cx="1249.6" cy="925.6" r="9.6"/>
<circle cx="1249.8" cy="938.1" r="9.6"/>
<circle cx="1249.9" cy="937.7" r="9.6"/>
<circle cx="1250.1" cy="933.2" r="9.6"/>
<circle cx="1250.3" cy="945.0" r="9.6"/>
<circle cx="1250.9" cy="913.5" r="9.6"/>
<circle cx="1251.7" cy="935.8" r="9.6"/>
<circle cx="1251.9" cy="842.8" r="9.6"/>
<circle cx="1252.1" cy="928.1" r="9.6"/>
<circle cx="1252.2" cy="870.9" r="9.6"/>
<circle cx="1252.2" cy="945.3" r="9.6"/>
<circle cx="1252.3" cy="931.3" r="9.6"/>
<circle cx="1252.7" cy="943.1" r="9.6"/>
<circle cx="1252.9" cy="897.2" r="9.6"/>
<circle cx="1253.6" cy="938.7" r="9.6"/>
<circle cx="1253.8" cy="934.8" r="9.6"/>
<circle cx="1254.5" cy="938.5" r="9.6"/>
<circle cx="1255.0" cy="942.3" r="9.6"/>
<circle cx="1255.5" cy="866.0" r="9.6"/>
<circle cx="1256.3" cy="938.4" r="9.6"/>
<circle cx="1256.6" cy="944.2" r="9.6"/>
<circle cx="1256.7" cy="935.5" r="9.6"/>
<circle cx="1256.9" cy="943.4" r="9.6"/>
<circle cx="1257.2" cy="945.4" r="9.6"/>
<circle cx="1257.4" cy="923.0" r="9.6"/>
<circle cx="1257.9" cy="946.3" r="9.6"/>
<circle cx="1258.1" cy="912.7" r="9.6"/>
<circle cx="1258.2" cy="925.5" r="9.6"/>
<circle cx="1258.7" cy="889.8" r="9.6"/>
<circle cx="1258.8" cy="907.3" r="9.6"/>
<circle cx="1259.3" cy="918.2" r="9.6"/>
<circle cx="1259.7" cy="932.9" r="9.6"/>
<circle cx="1259.7" cy="942.4" r="9.6"/>
<circle cx="1259.9" cy="946.0" r="9.6"/>
<circle cx="1259.9" cy="919.7" r="9.6"/>
<circle cx="1260.4" cy="915.4" r="9.6"/>
<circle cx="1260.7" cy="942.0" r="9.6"/>
<circle cx="1260.8" cy="930.3" r="9.6"/>
<circle cx="1261.5" cy="932.8" r="9.6"/>
<circle cx="1261.5" cy="906.0" r="9.6"/>
<circle cx="1262.6" cy="931.0" r="9.6"/>
<circle cx="1262.8" cy="940.6" r="9.6"/>
<circle cx="1262.8" cy="935.7" r="9.6"/>
<circle cx="1263.3" cy="903.7" r="9.6"/>
<circle cx="1263.8" cy="857.7" r="9.6"/>
<circle cx="1263.9" cy="899.2" r="9.6"/>
<circle cx="1264.9" cy="890.1" r="9.6"/>
<circle cx="1264.9" cy="944.6" r="9.6"/>
<circle cx="1265.1" cy="938.3" r="9.6"/>
<circle cx="1265.3" cy="943.3" r="9.6"/>
<circle cx="1265.5" cy="872.6" r="9.6"/>
<circle cx="1265.5" cy="944.8" r="9.6"/>
<circle cx="1265.5" cy="916.4" r="9.6"/>
<circle cx="1266.5" cy="892.2" r="9.6"/>
<circle cx="1267.1" cy="922.6" r="9.6"/>
<circle cx="1267.6" cy="922.6" r="9.6"/>
<circle cx="1267.7" cy="941.0" r="9.6"/>
<circle cx="1267.9" cy="898.1" r="9.6"/>
<circle cx="1268.1" cy="946.6" r="9.6"/>
<circle cx="1268.5" cy="921.7" r="9.6"/>
<circle cx="1269.6" cy="917.2" r="9.6"/>
<circle cx="1270.0" cy="902.2" r="9.6"/>
<circle cx="1270.5" cy="909.2" r="9.6"/>
<circle cx="1271.2" cy="937.8" r="9.6"/>
<circle cx="1271.4" cy="936.3" r="9.6"/>
<circle cx="1271.5" cy="940.0" r="9.6"/>
<circle cx="1271.5" cy="939.1" r="9.6"/>
<circle cx="1271.7" cy="911.8" r="9.6"/>
<circle cx="1272.8" cy="893.8" r="9.6"/>
<circle cx="1273.1" cy="922.5" r="9.6"/>
<circle cx="1273.3" cy="897.3" r="9.6"/>
<circle cx="1273.4" cy="939.9" r="9.6"/>
<circle cx="1274.1" cy="944.0" r="9.6"/>
<circle cx="1275.2" cy="931.4" r="9.6"/>
<circle cx="1275.3" cy="945.2" r="9.6"/>
<circle cx="1275.4" cy="944.8" r="9.6"/>
<circle cx="1275.8" cy="942.3" r="9.6"/>
<circle cx="1276.1" cy="936.0" r="9.6"/>
<circle cx="1276.3" cy="906.4" r="9.6"/>
<circle cx="1277.0" cy="932.0" r="9.6"/>
<circle cx="1277.4" cy="946.1" r="9.6"/>
<circle cx="1277.4" cy="930.2" r="9.6"/>
<circle cx="1278.1" cy="909.5" r="9.6"/>
<circle cx="1278.6" cy="943.9" r="9.6"/>
<circle cx="1278.7" cy="874.3" r="9.6"/>
<circle cx="1278.9" cy="924.8" r="9.6"/>
<circle cx="1279.1" cy="910.8" r="9.6"/>
<circle cx="1279.2" cy="932.8" r="9.6"/>
<circle cx="1279.4" cy="945.8" r="9.6"/>
<circle cx="1279.4" cy="935.6" r="9.6"/>
<circle cx="1280.0" cy="930.4" r="9.6"/>
<circle cx="1281.0" cy="910.1" r="9.6"/>
<circle cx="1281.4" cy="929.6" r="9.6"/>
<circle cx="1281.6" cy="921.8" r="9.6"/>
<circle cx="1282.1" cy="842.8" r="9.6"/>
<circle cx="1282.4" cy="921.9" r="9.6"/>
<circle cx="1282.5" cy="937.3" r="9.6"/>
<circle cx="1283.1" cy="945.9" r="9.6"/>
<circle cx="1283.4" cy="915.5" r="9.6"/>
<circle cx="1283.8" cy="939.9" r="9.6"/>
<circle cx="1284.0" cy="943.7" r="9.6"/>
<circle cx="1284.0" cy="914.0" r="9.6"/>
<circle cx="1284.2" cy="918.7" r="9.6"/>
<circle cx="1284.3" cy="943.8" r="9.6"/>
<circle cx="1284.5" cy="927.9" r="9.6"/>
<circle cx="1284.5" cy="856.9" r="9.6"/>
<circle cx="1284.7" cy="935.3" r="9.6"/>
<circle cx="1285.1" cy="941.0" r="9.6"/>
<circle cx="1285.2" cy="923.6" r="9.6"/>
<circle cx="1285.3" cy="912.0" r="9.6"/>
<circle cx="1285.3" cy="943.5" r="9.6"/>
<circle cx="1285.4" cy="862.7" r="9.6"/>
<circle cx="1285.8" cy="908.5" r="9.6"/>
<circle cx="1286.0" cy="946.8" r="9.6"/>
<circle cx="1286.3" cy="929.3" r="9.6"/>
<circle cx="1286.7" cy="890.6" r="9.6"/>
<circle cx="1287.9" cy="831.2" r="9.6"/>
<circle cx="1288.4" cy="817.6" r="9.6"/>
<circle cx="1288.7" cy="938.5" r="9.6"/>
<circle cx="1288.8" cy="924.3" r="9.6"/>
<circle cx="1289.0" cy="935.4" r="9.6"/>
<circle cx="1289.8" cy="936.7" r="9.6"/>
<circle cx="1289.9" cy="910.5" r="9.6"/>
<circle cx="1290.7" cy="906.3" r="9.6"/>
<circle cx="1290.7" cy="906.3" r="9.6"/>
<circle cx="1291.2" cy="929.3" r="9.6"/>
<circle cx="1291.5" cy="914.2" r="9.6"/>
<circle cx="1291.8" cy="896.7" r="9.6"/>
<circle cx="1292.0" cy="875.9" r="9.6"/>
<circle cx="1292.2" cy="899.5" r="9.6"/>
<circle cx="1292.2" cy="931.2" r="9.6"/>
<circle cx="1293.2" cy="902.0" r="9.6"/>
<circle cx="1293.2" cy="926.5" r="9.6"/>
<circle cx="1293.3" cy="919.6" r="9.6"/>
<circle cx="1293.6" cy="922.8" r="9.6"/>
<circle cx="1293.8" cy="925.4" r="9.6"/>
<circle cx="1294.2" cy="929.9" r="9.6"/>
<circle cx="1295.0" cy="923.3" r="9.6"/>
<circle cx="1295.3" cy="832.0" r="9.6"/>
<circle cx="1295.4" cy="937.0" r="9.6"/>
<circle cx="1295.5" cy="942.6" r="9.6"/>
<circle cx="1297.0" cy="943.0" r="9.6"/>
<circle cx="1297.9" cy="945.3" r="9.6"/>
<circle cx="1298.6" cy="908.2" r="9.6"/>
<circle cx="1299.7" cy="928.4" r="9.6"/>
<circle cx="1300.0" cy="945.7" r="9.6"/>
<circle cx="1300.2" cy="938.2" r="9.6"/>
<circle cx="1300.7" cy="941.5" r="9.6"/>
<circle cx="1302.1" cy="912.6" r="9.6"/>
<circle cx="1303.1" cy="915.0" r="9.6"/>
<circle cx="1303.1" cy="944.4" r="9.6"/>
<circle cx="1303.2" cy="940.7" r="9.6"/>
<circle cx="1303.3" cy="945.4" r="9.6"/>
<circle cx="1303.5" cy="924.0" r="9.6"/>
<circle cx="1303.9" cy="930.7" r="9.6"/>
<circle cx="1303.9" cy="943.7" r="9.6"/>
<circle cx="1303.9" cy="934.6" r="9.6"/>
<circle cx="1304.3" cy="942.3" r="9.6"/>
<circle cx="1304.6" cy="900.3" r="9.6"/>
<circle cx="1304.8" cy="920.1" r="9.6"/>
<circle cx="1305.2" cy="893.2" r="9.6"/>
<circle cx="1305.3" cy="880.9" r="9.6"/>
<circle cx="1306.5" cy="910.6" r="9.6"/>
<circle cx="1306.6" cy="945.6" r="9.6"/>
<circle cx="1306.9" cy="861.0" r="9.6"/>
<circle cx="1307.2" cy="901.4" r="9.6"/>
<circle cx="1307.3" cy="926.0" r="9.6"/>
<circle cx="1307.5" cy="937.9" r="9.6"/>
<circle cx="1307.7" cy="924.2" r="9.6"/>
<circle cx="1308.8" cy="939.2" r="9.6"/>
<circle cx="1309.1" cy="943.1" r="9.6"/>
<circle cx="1309.2" cy="912.6" r="9.6"/>
<circle cx="1309.6" cy="934.1" r="9.6"/>
<circle cx="1309.8" cy="933.9" r="9.6"/>
<circle cx="1310.0" cy="893.7" r="9.6"/>
<circle cx="1310.4" cy="922.3" r="9.6"/>
<circle cx="1310.6" cy="939.2" r="9.6"/>
<circle cx="1310.7" cy="942.1" r="9.6"/>
<circle cx="1311.1" cy="833.7" r="9.6"/>
<circle cx="1311.7" cy="916.7" r="9.6"/>
<circle cx="1311.8" cy="916.4" r="9.6"/>
<circle cx="1311.9" cy="861.0" r="9.6"/>
<circle cx="1312.4" cy="941.3" r="9.6"/>
<circle cx="1312.6" cy="942.5" r="9.6"/>
<circle cx="1313.1" cy="940.9" r="9.6"/>
<circle cx="1313.6" cy="946.7" r="9.6"/>
<circle cx="1314.1" cy="920.3" r="9.6"/>
<circle cx="1314.2" cy="894.2" r="9.6"/>
<circle cx="1314.4" cy="941.1" r="9.6"/>
<circle cx="1314.4" cy="940.1" r="9.6"/>
<circle cx="1314.4" cy="924.7" r="9.6"/>
<circle cx="1314.5" cy="940.0" r="9.6"/>
<circle cx="1314.7" cy="919.2" r="9.6"/>
<circle cx="1315.9" cy="940.9" r="9.6"/>
<circle cx="1316.0" cy="869.3" r="9.6"/>
<circle cx="1316.1" cy="916.4" r="9.6"/>
<circle cx="1316.3" cy="938.5" r="9.6"/>
<circle cx="1316.3" cy="933.0" r="9.6"/>
<circle cx="1316.6" cy="920.0" r="9.6"/>
<circle cx="1316.8" cy="928.6" r="9.6"/>
<circle cx="1316.9" cy="802.2" r="9.6"/>
<circle cx="1316.9" cy="841.9" r="9.6"/>
<circle cx="1316.9" cy="920.8" r="9.6"/>
<circle cx="1317.2" cy="938.2" r="9.6"/>
<circle cx="1318.1" cy="929.5" r="9.6"/>
<circle cx="1318.3" cy="933.9" r="9.6"/>
<circle cx="1318.3" cy="919.7" r="9.6"/>
<circle cx="1318.5" cy="885.9" r="9.6"/>
<circle cx="1318.6" cy="940.8" r="9.6"/>
<circle cx="1318.8" cy="921.5" r="9.6"/>
<circle cx="1318.9" cy="937.9" r="9.6"/>
<circle cx="1319.3" cy="946.9" r="9.6"/>
<circle cx="1319.6" cy="930.1" r="9.6"/>
<circle cx="1319.7" cy="913.4" r="9.6"/>
<circle cx="1319.7" cy="937.4" r="9.6"/>
<circle cx="1320.7" cy="919.2" r="9.6"/>
<circle cx="1321.3" cy="941.3" r="9.6"/>
<circle cx="1321.6" cy="903.7" r="9.6"/>
<circle cx="1321.6" cy="932.5" r="9.6"/>
<circle cx="1321.9" cy="911.0" r="9.6"/>
<circle cx="1322.1" cy="932.0" r="9.6"/>
<circle cx="1322.1" cy="926.9" r="9.6"/>
<circle cx="1322.5" cy="936.4" r="9.6"/>
<circle cx="1324.6" cy="930.4" r="9.6"/>
<circle cx="1324.7" cy="907.2" r="9.6"/>
<circle cx="1324.8" cy="944.9" r="9.6"/>
<circle cx="1324.8" cy="923.6" r="9.6"/>
<circle cx="1324.9" cy="935.3" r="9.6"/>
<circle cx="1325.0" cy="931.7" r="9.6"/>
<circle cx="1325.1" cy="930.1" r="9.6"/>
<circle cx="1325.6" cy="937.7" r="9.6"/>
<circle cx="1325.8" cy="923.5" r="9.6"/>
<circle cx="1325.9" cy="932.1" r="9.6"/>
<circle cx="1326.0" cy="860.2" r="9.6"/>
<circle cx="1326.4" cy="934.6" r="9.6"/>
<circle cx="1327.0" cy="945.9" r="9.6"/>
<circle cx="1327.0" cy="941.9" r="9.6"/>
<circle cx="1327.1" cy="929.8" r="9.6"/>
<circle cx="1327.7" cy="937.0" r="9.6"/>
<circle cx="1328.6" cy="909.5" r="9.6"/>
<circle cx="1328.9" cy="941.0" r="9.6"/>
<circle cx="1329.1" cy="935.7" r="9.6"/>
<circle cx="1329.4" cy="927.1" r="9.6"/>
<circle cx="1329.4" cy="911.4" r="9.6"/>
<circle cx="1330.3" cy="942.2" r="9.6"/>
<circle cx="1330.6" cy="925.0" r="9.6"/>
<circle cx="1331.8" cy="889.2" r="9.6"/>
<circle cx="1332.3" cy="893.4" r="9.6"/>
<circle cx="1332.8" cy="934.7" r="9.6"/>
<circle cx="1333.1" cy="803.8" r="9.6"/>
<circle cx="1333.1" cy="831.2" r="9.6"/>
<circle cx="1333.5" cy="942.0" r="9.6"/>
<circle cx="1333.7" cy="944.6" r="9.6"/>
<circle cx="1334.1" cy="941.2" r="9.6"/>
<circle cx="1334.1" cy="937.5" r="9.6"/>
<circle cx="1334.3" cy="922.5" r="9.6"/>
<circle cx="1334.5" cy="901.4" r="9.6"/>
<circle cx="1334.6" cy="906.0" r="9.6"/>
<circle cx="1335.8" cy="943.5" r="9.6"/>
<circle cx="1336.7" cy="902.4" r="9.6"/>
<circle cx="1336.7" cy="941.6" r="9.6"/>
<circle cx="1336.9" cy="906.0" r="9.6"/>
<circle cx="1336.9" cy="930.2" r="9.6"/>
<circle cx="1337.1" cy="937.8" r="9.6"/>
<circle cx="1337.3" cy="919.7" r="9.6"/>
<circle cx="1338.0" cy="942.6" r="9.6"/>
<circle cx="1338.6" cy="933.0" r="9.6"/>
<circle cx="1339.2" cy="945.1" r="9.6"/>
<circle cx="1339.3" cy="937.5" r="9.6"/>
<circle cx="1339.3" cy="939.6" r="9.6"/>
<circle cx="1339.5" cy="936.7" r="9.6"/>
<circle cx="1339.7" cy="936.1" r="9.6"/>
<circle cx="1340.3" cy="906.3" r="9.6"/>
<circle cx="1341.1" cy="911.5" r="9.6"/>
<circle cx="1341.2" cy="939.1" r="9.6"/>
<circle cx="1341.6" cy="915.7" r="9.6"/>
<circle cx="1341.8" cy="940.9" r="9.6"/>
<circle cx="1342.0" cy="936.6" r="9.6"/>
<circle cx="1342.1" cy="937.9" r="9.6"/>
<circle cx="1342.7" cy="936.6" r="9.6"/>
<circle cx="1343.4" cy="941.4" r="9.6"/>
<circle cx="1343.4" cy="920.4" r="9.6"/>
<circle cx="1343.6" cy="904.0" r="9.6"/>
<circle cx="1344.4" cy="932.8" r="9.6"/>
<circle cx="1344.5" cy="932.5" r="9.6"/>
<circle cx="1345.0" cy="885.9" r="9.6"/>
<circle cx="1345.2" cy="934.9" r="9.6"/>
<circle cx="1345.9" cy="839.5" r="9.6"/>
<circle cx="1346.2" cy="945.9" r="9.6"/>
<circle cx="1346.5" cy="944.4" r="9.6"/>
<circle cx="1346.7" cy="917.5" r="9.6"/>
<circle cx="1347.2" cy="916.2" r="9.6"/>
<circle cx="1347.7" cy="917.4" r="9.6"/>
<circle cx="1347.7" cy="937.5" r="9.6"/>
<circle cx="1348.0" cy="938.5" r="9.6"/>
<circle cx="1348.2" cy="923.5" r="9.6"/>
<circle cx="1348.4" cy="942.4" r="9.6"/>
<circle cx="1349.5" cy="942.1" r="9.6"/>
<circle cx="1349.8" cy="945.4" r="9.6"/>
<circle cx="1350.0" cy="839.5" r="9.6"/>
<circle cx="1350.0" cy="846.1" r="9.6"/>
<circle cx="1350.3" cy="946.8" r="9.6"/>
<circle cx="1350.6" cy="929.5" r="9.6"/>
<circle cx="1351.8" cy="932.5" r="9.6"/>
<circle cx="1352.0" cy="946.7" r="9.6"/>
<circle cx="1352.1" cy="945.9" r="9.6"/>
<circle cx="1352.4" cy="933.7" r="9.6"/>
<circle cx="1352.5" cy="903.9" r="9.6"/>
<circle cx="1352.9" cy="933.4" r="9.6"/>
<circle cx="1353.1" cy="943.4" r="9.6"/>
<circle cx="1353.2" cy="899.5" r="9.6"/>
<circle cx="1353.3" cy="938.4" r="9.6"/>
<circle cx="1353.4" cy="946.8" r="9.6"/>
<circle cx="1353.7" cy="929.7" r="9.6"/>
<circle cx="1353.8" cy="942.5" r="9.6"/>
<circle cx="1353.9" cy="930.0" r="9.6"/>
<circle cx="1354.2" cy="944.4" r="9.6"/>
<circle cx="1354.3" cy="889.9" r="9.6"/>
<circle cx="1354.4" cy="899.0" r="9.6"/>
<circle cx="1354.6" cy="935.1" r="9.6"/>
<circle cx="1354.9" cy="934.9" r="9.6"/>
<circle cx="1355.0" cy="847.7" r="9.6"/>
<circle cx="1355.1" cy="926.0" r="9.6"/>
<circle cx="1355.5" cy="887.2" r="9.6"/>
<circle cx="1355.9" cy="943.8" r="9.6"/>
<circle cx="1356.0" cy="924.2" r="9.6"/>
<circle cx="1356.2" cy="906.3" r="9.6"/>
<circle cx="1356.4" cy="940.4" r="9.6"/>
<circle cx="1357.2" cy="925.0" r="9.6"/>
<circle cx="1357.6" cy="946.9" r="9.6"/>
<circle cx="1359.0" cy="943.7" r="9.6"/>
<circle cx="1359.1" cy="935.1" r="9.6"/>
<circle cx="1359.2" cy="889.5" r="9.6"/>
<circle cx="1359.3" cy="885.8" r="9.6"/>
<circle cx="1359.4" cy="905.4" r="9.6"/>
<circle cx="1359.9" cy="899.1" r="9.6"/>
<circle cx="1360.6" cy="871.0" r="9.6"/>
<circle cx="1360.9" cy="932.6" r="9.6"/>
<circle cx="1361.4" cy="941.8" r="9.6"/>
<circle cx="1361.5" cy="937.2" r="9.6"/>
<circle cx="1361.5" cy="914.2" r="9.6"/>
<circle cx="1361.6" cy="850.2" r="9.6"/>
<circle cx="1361.7" cy="945.7" r="9.6"/>
<circle cx="1361.8" cy="946.0" r="9.6"/>
<circle cx="1361.8" cy="924.8" r="9.6"/>
<circle cx="1362.1" cy="922.2" r="9.6"/>
<circle cx="1362.4" cy="933.9" r="9.6"/>
<circle cx="1362.4" cy="915.8" r="9.6"/>
<circle cx="1362.8" cy="924.0" r="9.6"/>
<circle cx="1363.2" cy="939.0" r="9.6"/>
<circle cx="1363.3" cy="929.1" r="9.6"/>
<circle cx="1363.4" cy="915.7" r="9.6"/>
<circle cx="1363.5" cy="943.9" r="9.6"/>
<circle cx="1363.6" cy="938.1" r="9.6"/>
<circle cx="1364.0" cy="943.4" r="9.6"/>
<circle cx="1364.3" cy="943.5" r="9.6"/>
<circle cx="1364.3" cy="914.9" r="9.6"/>
<circle cx="1364.4" cy="914.3" r="9.6"/>
<circle cx="1364.6" cy="932.9" r="9.6"/>
<circle cx="1364.8" cy="937.5" r="9.6"/>
<circle cx="1364.9" cy="898.8" r="9.6"/>
<circle cx="1365.1" cy="945.6" r="9.6"/>
<circle cx="1365.7" cy="932.2" r="9.6"/>
<circle cx="1366.2" cy="927.2" r="9.6"/>
<circle cx="1366.6" cy="785.6" r="9.6"/>
<circle cx="1366.7" cy="933.1" r="9.6"/>
<circle cx="1367.1" cy="942.2" r="9.6"/>
<circle cx="1367.7" cy="880.3" r="9.6"/>
<circle cx="1368.2" cy="809.3" r="9.6"/>
<circle cx="1368.5" cy="906.4" r="9.6"/>
<circle cx="1369.4" cy="943.3" r="9.6"/>
<circle cx="1369.5" cy="941.3" r="9.6"/>
<circle cx="1369.9" cy="864.3" r="9.6"/>
<circle cx="1370.4" cy="944.2" r="9.6"/>
<circle cx="1370.7" cy="927.7" r="9.6"/>
<circle cx="1370.9" cy="941.3" r="9.6"/>
<circle cx="1371.0" cy="944.7" r="9.6"/>
<circle cx="1371.2" cy="904.6" r="9.6"/>
<circle cx="1371.4" cy="945.4" r="9.6"/>
<circle cx="1371.7" cy="932.0" r="9.6"/>
<circle cx="1371.7" cy="940.6" r="9.6"/>
<circle cx="1371.8" cy="941.5" r="9.6"/>
<circle cx="1371.9" cy="923.5" r="9.6"/>
<circle cx="1372.0" cy="935.4" r="9.6"/>
<circle cx="1372.2" cy="945.5" r="9.6"/>
<circle cx="1372.4" cy="943.4" r="9.6"/>
<circle cx="1372.5" cy="932.8" r="9.6"/>
<circle cx="1372.6" cy="926.0" r="9.6"/>
<circle cx="1372.8" cy="942.8" r="9.6"/>
<circle cx="1373.9" cy="895.9" r="9.6"/>
<circle cx="1374.2" cy="936.4" r="9.6"/>
<circle cx="1374.3" cy="934.6" r="9.6"/>
<circle cx="1374.9" cy="806.3" r="9.6"/>
<circle cx="1375.2" cy="929.5" r="9.6"/>
<circle cx="1375.2" cy="945.9" r="9.6"/>
<circle cx="1375.6" cy="895.1" r="9.6"/>
<circle cx="1375.6" cy="940.7" r="9.6"/>
<circle cx="1376.2" cy="919.9" r="9.6"/>
<circle cx="1376.5" cy="830.3" r="9.6"/>
<circle cx="1376.7" cy="906.5" r="9.6"/>
<circle cx="1376.7" cy="944.7" r="9.6"/>
<circle cx="1376.8" cy="937.6" r="9.6"/>
<circle cx="1377.0" cy="939.1" r="9.6"/>
<circle cx="1377.3" cy="899.7" r="9.6"/>
<circle cx="1377.5" cy="931.4" r="9.6"/>
<circle cx="1377.9" cy="944.8" r="9.6"/>
<circle cx="1378.6" cy="925.0" r="9.6"/>
<circle cx="1378.6" cy="915.6" r="9.6"/>
<circle cx="1378.9" cy="874.4" r="9.6"/>
<circle cx="1379.0" cy="894.7" r="9.6"/>
<circle cx="1379.4" cy="932.1" r="9.6"/>
<circle cx="1379.4" cy="911.7" r="9.6"/>
<circle cx="1379.6" cy="941.6" r="9.6"/>
<circle cx="1379.8" cy="869.3" r="9.6"/>
<circle cx="1380.0" cy="933.9" r="9.6"/>
<circle cx="1380.1" cy="937.4" r="9.6"/>
<circle cx="1380.7" cy="802.2" r="9.6"/>
<circle cx="1380.8" cy="936.5" r="9.6"/>
<circle cx="1380.9" cy="940.5" r="9.6"/>
<circle cx="1381.5" cy="837.8" r="9.6"/>
<circle cx="1382.0" cy="889.8" r="9.6"/>
<circle cx="1382.4" cy="920.4" r="9.6"/>
<circle cx="1383.1" cy="923.9" r="9.6"/>
<circle cx="1383.3" cy="932.0" r="9.6"/>
<circle cx="1383.4" cy="935.4" r="9.6"/>
<circle cx="1383.8" cy="939.3" r="9.6"/>
<circle cx="1384.3" cy="940.8" r="9.6"/>
<circle cx="1384.4" cy="918.4" r="9.6"/>
<circle cx="1384.8" cy="941.4" r="9.6"/>
<circle cx="1384.8" cy="925.3" r="9.6"/>
<circle cx="1385.2" cy="934.0" r="9.6"/>
<circle cx="1385.5" cy="939.8" r="9.6"/>
<circle cx="1386.1" cy="874.9" r="9.6"/>
<circle cx="1386.5" cy="859.3" r="9.6"/>
<circle cx="1387.2" cy="939.0" r="9.6"/>
<circle cx="1388.1" cy="903.1" r="9.6"/>
<circle cx="1388.5" cy="942.5" r="9.6"/>
<circle cx="1388.8" cy="906.1" r="9.6"/>
<circle cx="1388.9" cy="898.6" r="9.6"/>
<circle cx="1389.3" cy="905.4" r="9.6"/>
<circle cx="1389.8" cy="926.7" r="9.6"/>
<circle cx="1389.8" cy="829.5" r="9.6"/>
<circle cx="1390.0" cy="882.8" r="9.6"/>
<circle cx="1391.0" cy="903.1" r="9.6"/>
<circle cx="1391.1" cy="906.1" r="9.6"/>
<circle cx="1391.4" cy="937.4" r="9.6"/>
<circle cx="1391.4" cy="856.0" r="9.6"/>
<circle cx="1391.8" cy="945.4" r="9.6"/>
<circle cx="1392.0" cy="921.8" r="9.6"/>
<circle cx="1392.4" cy="924.4" r="9.6"/>
<circle cx="1392.6" cy="938.2" r="9.6"/>
<circle cx="1392.9" cy="909.4" r="9.6"/>
<circle cx="1393.6" cy="940.7" r="9.6"/>
<circle cx="1393.8" cy="943.5" r="9.6"/>
<circle cx="1393.8" cy="885.0" r="9.6"/>
<circle cx="1393.8" cy="914.0" r="9.6"/>
<circle cx="1394.5" cy="915.3" r="9.6"/>
<circle cx="1395.4" cy="891.5" r="9.6"/>
<circle cx="1395.6" cy="881.0" r="9.6"/>
<circle cx="1395.7" cy="935.1" r="9.6"/>
<circle cx="1395.8" cy="942.4" r="9.6"/>
<circle cx="1395.8" cy="946.8" r="9.6"/>
<circle cx="1395.9" cy="939.7" r="9.6"/>
<circle cx="1396.1" cy="923.7" r="9.6"/>
<circle cx="1396.4" cy="944.6" r="9.6"/>
<circle cx="1397.1" cy="934.7" r="9.6"/>
<circle cx="1397.2" cy="910.9" r="9.6"/>
<circle cx="1397.4" cy="946.1" r="9.6"/>
<circle cx="1398.2" cy="885.8" r="9.6"/>
<circle cx="1398.9" cy="925.8" r="9.6"/>
<circle cx="1399.1" cy="911.1" r="9.6"/>
<circle cx="1399.3" cy="891.9" r="9.6"/>
<circle cx="1399.3" cy="895.2" r="9.6"/>
<circle cx="1399.7" cy="841.9" r="9.6"/>
<circle cx="1399.9" cy="877.5" r="9.6"/>
<circle cx="1400.0" cy="942.3" r="9.6"/>
<circle cx="1400.3" cy="931.4" r="9.6"/>
<circle cx="1400.3" cy="890.3" r="9.6"/>
<circle cx="1400.6" cy="921.2" r="9.6"/>
<circle cx="1400.8" cy="938.5" r="9.6"/>
<circle cx="1401.1" cy="915.5" r="9.6"/>
<circle cx="1401.4" cy="816.2" r="9.6"/>
<circle cx="1402.0" cy="901.7" r="9.6"/>
<circle cx="1403.0" cy="774.0" r="9.6"/>
<circle cx="1404.3" cy="942.3" r="9.6"/>
<circle cx="1404.7" cy="851.1" r="9.6"/>
<circle cx="1404.9" cy="940.7" r="9.6"/>
<circle cx="1406.3" cy="940.6" r="9.6"/>
<circle cx="1406.3" cy="937.4" r="9.6"/>
<circle cx="1406.4" cy="812.1" r="9.6"/>
<circle cx="1406.4" cy="877.6" r="9.6"/>
<circle cx="1406.5" cy="945.9" r="9.6"/>
<circle cx="1406.9" cy="905.1" r="9.6"/>
<circle cx="1407.1" cy="891.6" r="9.6"/>
<circle cx="1407.1" cy="941.9" r="9.6"/>
<circle cx="1407.2" cy="904.8" r="9.6"/>
<circle cx="1407.6" cy="940.6" r="9.6"/>
<circle cx="1407.6" cy="938.5" r="9.6"/>
<circle cx="1407.7" cy="938.6" r="9.6"/>
<circle cx="1407.8" cy="923.8" r="9.6"/>
<circle cx="1408.0" cy="774.0" r="9.6"/>
<circle cx="1408.0" cy="896.6" r="9.6"/>
<circle cx="1408.7" cy="946.8" r="9.6"/>
<circle cx="1409.4" cy="930.8" r="9.6"/>
<circle cx="1409.4" cy="936.2" r="9.6"/>
<circle cx="1409.5" cy="932.8" r="9.6"/>
<circle cx="1409.8" cy="885.8" r="9.6"/>
<circle cx="1410.1" cy="902.9" r="9.6"/>
<circle cx="1410.1" cy="943.1" r="9.6"/>
<circle cx="1410.5" cy="929.0" r="9.6"/>
<circle cx="1410.9" cy="933.7" r="9.6"/>
<circle cx="1411.0" cy="817.6" r="9.6"/>
<circle cx="1411.3" cy="891.9" r="9.6"/>
<circle cx="1412.6" cy="938.9" r="9.6"/>
<circle cx="1413.1" cy="893.2" r="9.6"/>
<circle cx="1413.2" cy="908.9" r="9.6"/>
<circle cx="1413.6" cy="929.1" r="9.6"/>
<circle cx="1413.8" cy="774.0" r="9.6"/>
<circle cx="1413.9" cy="905.7" r="9.6"/>
<circle cx="1414.8" cy="924.3" r="9.6"/>
<circle cx="1414.9" cy="913.9" r="9.6"/>
<circle cx="1414.9" cy="943.4" r="9.6"/>
<circle cx="1415.0" cy="910.1" r="9.6"/>
<circle cx="1416.3" cy="861.0" r="9.6"/>
<circle cx="1417.0" cy="907.3" r="9.6"/>
<circle cx="1417.1" cy="936.7" r="9.6"/>
<circle cx="1417.4" cy="910.6" r="9.6"/>
<circle cx="1417.5" cy="901.7" r="9.6"/>
<circle cx="1418.0" cy="774.0" r="9.6"/>
<circle cx="1418.9" cy="914.5" r="9.6"/>
<circle cx="1419.2" cy="941.3" r="9.6"/>
<circle cx="1419.7" cy="932.9" r="9.6"/>
<circle cx="1419.7" cy="935.7" r="9.6"/>
<circle cx="1420.0" cy="939.1" r="9.6"/>
<circle cx="1420.1" cy="907.2" r="9.6"/>
<circle cx="1420.4" cy="932.8" r="9.6"/>
<circle cx="1420.7" cy="932.6" r="9.6"/>
<circle cx="1420.9" cy="887.6" r="9.6"/>
<circle cx="1421.4" cy="910.9" r="9.6"/>
<circle cx="1421.6" cy="904.2" r="9.6"/>
<circle cx="1421.9" cy="937.7" r="9.6"/>
<circle cx="1422.7" cy="930.1" r="9.6"/>
<circle cx="1422.8" cy="915.0" r="9.6"/>
<circle cx="1422.9" cy="774.0" r="9.6"/>
<circle cx="1423.3" cy="929.9" r="9.6"/>
<circle cx="1423.7" cy="896.4" r="9.6"/>
<circle cx="1424.6" cy="746.3" r="9.6"/>
<circle cx="1424.6" cy="872.6" r="9.6"/>
<circle cx="1425.1" cy="915.3" r="9.6"/>
<circle cx="1425.9" cy="929.3" r="9.6"/>
<circle cx="1426.5" cy="908.0" r="9.6"/>
<circle cx="1426.7" cy="945.0" r="9.6"/>
<circle cx="1426.8" cy="931.4" r="9.6"/>
<circle cx="1427.2" cy="940.3" r="9.6"/>
<circle cx="1428.1" cy="934.9" r="9.6"/>
<circle cx="1428.7" cy="912.3" r="9.6"/>
<circle cx="1429.6" cy="774.0" r="9.6"/>
<circle cx="1430.0" cy="943.2" r="9.6"/>
<circle cx="1430.4" cy="887.2" r="9.6"/>
<circle cx="1430.5" cy="891.5" r="9.6"/>
<circle cx="1431.0" cy="946.3" r="9.6"/>
<circle cx="1431.1" cy="904.0" r="9.6"/>
<circle cx="1431.2" cy="846.1" r="9.6"/>
<circle cx="1431.4" cy="939.9" r="9.6"/>
<circle cx="1432.0" cy="943.0" r="9.6"/>
<circle cx="1432.0" cy="856.0" r="9.6"/>
<circle cx="1432.7" cy="932.5" r="9.6"/>
<circle cx="1433.2" cy="909.5" r="9.6"/>
<circle cx="1433.4" cy="945.0" r="9.6"/>
<circle cx="1433.5" cy="886.9" r="9.6"/>
<circle cx="1433.7" cy="944.8" r="9.6"/>
<circle cx="1433.8" cy="932.7" r="9.6"/>
<circle cx="1436.2" cy="941.7" r="9.6"/>
<circle cx="1436.2" cy="774.0" r="9.6"/>
<circle cx="1436.3" cy="946.2" r="9.6"/>
<circle cx="1436.7" cy="941.8" r="9.6"/>
<circle cx="1436.8" cy="930.0" r="9.6"/>
<circle cx="1436.8" cy="941.2" r="9.6"/>
<circle cx="1437.0" cy="885.1" r="9.6"/>
<circle cx="1437.2" cy="936.8" r="9.6"/>
<circle cx="1437.9" cy="885.9" r="9.6"/>
<circle cx="1438.0" cy="935.8" r="9.6"/>
<circle cx="1438.6" cy="905.0" r="9.6"/>
<circle cx="1438.8" cy="901.6" r="9.6"/>
<circle cx="1438.9" cy="920.8" r="9.6"/>
<circle cx="1438.9" cy="929.8" r="9.6"/>
<circle cx="1439.5" cy="867.6" r="9.6"/>
<circle cx="1439.8" cy="937.1" r="9.6"/>
<circle cx="1440.9" cy="942.0" r="9.6"/>
<circle cx="1441.1" cy="944.8" r="9.6"/>
<circle cx="1441.2" cy="932.5" r="9.6"/>
<circle cx="1442.0" cy="774.0" r="9.6"/>
<circle cx="1442.0" cy="939.6" r="9.6"/>
<circle cx="1442.3" cy="945.7" r="9.6"/>
<circle cx="1443.9" cy="933.1" r="9.6"/>
<circle cx="1444.2" cy="933.4" r="9.6"/>
<circle cx="1444.6" cy="888.6" r="9.6"/>
<circle cx="1444.8" cy="935.0" r="9.6"/>
<circle cx="1445.1" cy="891.4" r="9.6"/>
<circle cx="1445.3" cy="930.5" r="9.6"/>
<circle cx="1445.4" cy="900.0" r="9.6"/>
<circle cx="1445.4" cy="944.8" r="9.6"/>
<circle cx="1445.9" cy="945.7" r="9.6"/>
<circle cx="1446.1" cy="944.4" r="9.6"/>
<circle cx="1447.8" cy="843.6" r="9.6"/>
<circle cx="1447.8" cy="867.6" r="9.6"/>
<circle cx="1448.3" cy="930.1" r="9.6"/>
<circle cx="1448.6" cy="774.0" r="9.6"/>
<circle cx="1448.8" cy="946.6" r="9.6"/>
<circle cx="1449.0" cy="942.8" r="9.6"/>
<circle cx="1449.1" cy="942.6" r="9.6"/>
<circle cx="1450.5" cy="917.8" r="9.6"/>
<circle cx="1450.5" cy="946.1" r="9.6"/>
<circle cx="1450.9" cy="925.7" r="9.6"/>
<circle cx="1453.7" cy="923.1" r="9.6"/>
<circle cx="1453.7" cy="942.1" r="9.6"/>
<circle cx="1454.0" cy="940.9" r="9.6"/>
<circle cx="1454.4" cy="867.6" r="9.6"/>
<circle cx="1454.4" cy="895.7" r="9.6"/>
<circle cx="1454.5" cy="944.9" r="9.6"/>
<circle cx="1454.6" cy="940.1" r="9.6"/>
<circle cx="1454.9" cy="946.1" r="9.6"/>
<circle cx="1455.6" cy="943.6" r="9.6"/>
<circle cx="1455.6" cy="921.1" r="9.6"/>
<circle cx="1455.9" cy="938.8" r="9.6"/>
<circle cx="1456.0" cy="938.9" r="9.6"/>
<circle cx="1456.2" cy="944.3" r="9.6"/>
<circle cx="1456.5" cy="938.3" r="9.6"/>
<circle cx="1456.6" cy="946.8" r="9.6"/>
<circle cx="1456.6" cy="907.6" r="9.6"/>
<circle cx="1457.2" cy="943.2" r="9.6"/>
<circle cx="1457.3" cy="939.8" r="9.6"/>
<circle cx="1457.5" cy="918.3" r="9.6"/>
<circle cx="1457.7" cy="928.6" r="9.6"/>
<circle cx="1457.7" cy="944.3" r="9.6"/>
<circle cx="1457.7" cy="890.8" r="9.6"/>
<circle cx="1458.3" cy="935.3" r="9.6"/>
<circle cx="1458.4" cy="944.8" r="9.6"/>
<circle cx="1458.8" cy="930.6" r="9.6"/>
<circle cx="1459.0" cy="942.2" r="9.6"/>
<circle cx="1459.3" cy="938.4" r="9.6"/>
<circle cx="1459.4" cy="910.6" r="9.6"/>
<circle cx="1459.4" cy="944.0" r="9.6"/>
<circle cx="1459.5" cy="911.0" r="9.6"/>
<circle cx="1460.0" cy="909.7" r="9.6"/>
<circle cx="1461.5" cy="939.7" r="9.6"/>
<circle cx="1461.5" cy="925.6" r="9.6"/>
<circle cx="1462.2" cy="929.4" r="9.6"/>
<circle cx="1462.2" cy="938.8" r="9.6"/>
<circle cx="1462.3" cy="927.3" r="9.6"/>
<circle cx="1462.4" cy="942.8" r="9.6"/>
<circle cx="1462.5" cy="888.8" r="9.6"/>
<circle cx="1462.7" cy="867.6" r="9.6"/>
<circle cx="1462.8" cy="929.1" r="9.6"/>
<circle cx="1463.1" cy="926.8" r="9.6"/>
<circle cx="1463.4" cy="884.1" r="9.6"/>
<circle cx="1463.4" cy="944.1" r="9.6"/>
<circle cx="1463.8" cy="926.2" r="9.6"/>
<circle cx="1464.0" cy="945.4" r="9.6"/>
<circle cx="1466.2" cy="939.5" r="9.6"/>
<circle cx="1466.3" cy="935.8" r="9.6"/>
<circle cx="1466.5" cy="933.8" r="9.6"/>
<circle cx="1466.7" cy="901.6" r="9.6"/>
<circle cx="1467.1" cy="938.5" r="9.6"/>
<circle cx="1468.0" cy="916.3" r="9.6"/>
<circle cx="1468.5" cy="935.9" r="9.6"/>
<circle cx="1468.6" cy="940.4" r="9.6"/>
<circle cx="1468.7" cy="934.9" r="9.6"/>
<circle cx="1469.3" cy="926.0" r="9.6"/>
<circle cx="1469.3" cy="926.2" r="9.6"/>
<circle cx="1469.3" cy="877.6" r="9.6"/>
<circle cx="1469.4" cy="892.2" r="9.6"/>
<circle cx="1469.6" cy="944.0" r="9.6"/>
<circle cx="1470.2" cy="940.5" r="9.6"/>
<circle cx="1470.4" cy="939.2" r="9.6"/>
<circle cx="1470.5" cy="901.7" r="9.6"/>
<circle cx="1470.6" cy="917.3" r="9.6"/>
<circle cx="1470.7" cy="941.6" r="9.6"/>
<circle cx="1470.8" cy="944.6" r="9.6"/>
<circle cx="1470.8" cy="927.4" r="9.6"/>
<circle cx="1471.2" cy="941.4" r="9.6"/>
<circle cx="1471.2" cy="927.8" r="9.6"/>
<circle cx="1472.5" cy="934.8" r="9.6"/>
<circle cx="1472.8" cy="907.7" r="9.6"/>
<circle cx="1473.1" cy="912.6" r="9.6"/>
<circle cx="1473.5" cy="890.7" r="9.6"/>
<circle cx="1474.0" cy="912.8" r="9.6"/>
<circle cx="1475.2" cy="933.0" r="9.6"/>
<circle cx="1475.2" cy="915.1" r="9.6"/>
<circle cx="1475.7" cy="933.5" r="9.6"/>
<circle cx="1475.8" cy="932.0" r="9.6"/>
<circle cx="1475.9" cy="934.8" r="9.6"/>
<circle cx="1475.9" cy="905.4" r="9.6"/>
<circle cx="1476.4" cy="932.9" r="9.6"/>
<circle cx="1476.4" cy="931.1" r="9.6"/>
<circle cx="1476.7" cy="927.4" r="9.6"/>
<circle cx="1476.7" cy="943.0" r="9.6"/>
<circle cx="1478.1" cy="936.3" r="9.6"/>
<circle cx="1478.1" cy="930.5" r="9.6"/>
<circle cx="1478.4" cy="901.1" r="9.6"/>
<circle cx="1478.5" cy="945.9" r="9.6"/>
<circle cx="1479.0" cy="931.1" r="9.6"/>
<circle cx="1479.3" cy="877.6" r="9.6"/>
<circle cx="1479.8" cy="939.9" r="9.6"/>
<circle cx="1480.0" cy="934.5" r="9.6"/>
<circle cx="1480.3" cy="933.6" r="9.6"/>
<circle cx="1480.4" cy="942.4" r="9.6"/>
<circle cx="1480.7" cy="946.0" r="9.6"/>
<circle cx="1480.8" cy="941.6" r="9.6"/>
<circle cx="1481.2" cy="929.3" r="9.6"/>
<circle cx="1481.4" cy="945.0" r="9.6"/>
<circle cx="1481.4" cy="946.2" r="9.6"/>
<circle cx="1482.5" cy="943.4" r="9.6"/>
<circle cx="1482.6" cy="882.5" r="9.6"/>
<circle cx="1482.7" cy="946.4" r="9.6"/>
<circle cx="1483.3" cy="907.6" r="9.6"/>
<circle cx="1483.9" cy="767.3" r="9.6"/>
<circle cx="1484.3" cy="945.3" r="9.6"/>
<circle cx="1484.7" cy="914.0" r="9.6"/>
<circle cx="1485.0" cy="940.1" r="9.6"/>
<circle cx="1485.2" cy="887.9" r="9.6"/>
<circle cx="1485.7" cy="938.5" r="9.6"/>
<circle cx="1485.8" cy="937.8" r="9.6"/>
<circle cx="1485.9" cy="922.0" r="9.6"/>
<circle cx="1486.1" cy="934.9" r="9.6"/>
<circle cx="1486.2" cy="937.2" r="9.6"/>
<circle cx="1486.7" cy="917.9" r="9.6"/>
<circle cx="1486.9" cy="941.3" r="9.6"/>
<circle cx="1486.9" cy="924.8" r="9.6"/>
<circle cx="1487.0" cy="915.9" r="9.6"/>
<circle cx="1487.0" cy="932.4" r="9.6"/>
<circle cx="1487.7" cy="933.2" r="9.6"/>
<circle cx="1488.0" cy="930.9" r="9.6"/>
<circle cx="1488.3" cy="923.8" r="9.6"/>
<circle cx="1488.9" cy="924.6" r="9.6"/>
<circle cx="1489.2" cy="945.3" r="9.6"/>
<circle cx="1489.3" cy="892.3" r="9.6"/>
<circle cx="1489.6" cy="934.0" r="9.6"/>
<circle cx="1489.7" cy="945.7" r="9.6"/>
<circle cx="1490.3" cy="941.6" r="9.6"/>
<circle cx="1490.3" cy="920.5" r="9.6"/>
<circle cx="1490.4" cy="937.2" r="9.6"/>
<circle cx="1490.7" cy="923.2" r="9.6"/>
<circle cx="1490.7" cy="913.3" r="9.6"/>
<circle cx="1490.7" cy="931.0" r="9.6"/>
<circle cx="1490.9" cy="944.3" r="9.6"/>
<circle cx="1491.2" cy="944.4" r="9.6"/>
<circle cx="1491.8" cy="930.5" r="9.6"/>
<circle cx="1492.5" cy="856.0" r="9.6"/>
<circle cx="1493.0" cy="903.3" r="9.6"/>
<circle cx="1493.4" cy="945.8" r="9.6"/>
<circle cx="1493.9" cy="945.4" r="9.6"/>
<circle cx="1494.0" cy="941.4" r="9.6"/>
<circle cx="1494.1" cy="928.9" r="9.6"/>
<circle cx="1494.3" cy="933.7" r="9.6"/>
<circle cx="1494.9" cy="930.0" r="9.6"/>
<circle cx="1495.8" cy="941.6" r="9.6"/>
<circle cx="1496.0" cy="944.9" r="9.6"/>
<circle cx="1496.1" cy="942.0" r="9.6"/>
<circle cx="1496.4" cy="883.1" r="9.6"/>
<circle cx="1496.6" cy="937.0" r="9.6"/>
<circle cx="1496.8" cy="892.1" r="9.6"/>
<circle cx="1497.2" cy="943.6" r="9.6"/>
<circle cx="1497.6" cy="913.1" r="9.6"/>
<circle cx="1497.6" cy="913.8" r="9.6"/>
<circle cx="1497.6" cy="931.1" r="9.6"/>
<circle cx="1497.6" cy="943.4" r="9.6"/>
<circle cx="1497.9" cy="907.9" r="9.6"/>
<circle cx="1498.0" cy="903.1" r="9.6"/>
<circle cx="1498.3" cy="935.1" r="9.6"/>
<circle cx="1498.6" cy="914.3" r="9.6"/>
<circle cx="1498.6" cy="944.8" r="9.6"/>
<circle cx="1498.8" cy="946.5" r="9.6"/>
<circle cx="1498.9" cy="927.0" r="9.6"/>
<circle cx="1499.2" cy="875.9" r="9.6"/>
<circle cx="1499.3" cy="934.8" r="9.6"/>
<circle cx="1499.5" cy="913.3" r="9.6"/>
<circle cx="1499.7" cy="916.5" r="9.6"/>
<circle cx="1499.7" cy="944.5" r="9.6"/>
<circle cx="1500.0" cy="941.4" r="9.6"/>
<circle cx="1500.8" cy="911.5" r="9.6"/>
<circle cx="1500.8" cy="854.4" r="9.6"/>
<circle cx="1502.6" cy="927.3" r="9.6"/>
<circle cx="1502.7" cy="945.7" r="9.6"/>
<circle cx="1503.8" cy="903.2" r="9.6"/>
<circle cx="1503.9" cy="915.0" r="9.6"/>
<circle cx="1504.5" cy="882.5" r="9.6"/>
<circle cx="1504.7" cy="904.9" r="9.6"/>
<circle cx="1505.0" cy="938.4" r="9.6"/>
<circle cx="1505.1" cy="917.1" r="9.6"/>
<circle cx="1505.1" cy="930.8" r="9.6"/>
<circle cx="1505.6" cy="931.5" r="9.6"/>
<circle cx="1505.7" cy="932.8" r="9.6"/>
<circle cx="1506.1" cy="914.4" r="9.6"/>
<circle cx="1506.2" cy="941.9" r="9.6"/>
<circle cx="1506.3" cy="932.4" r="9.6"/>
<circle cx="1506.3" cy="920.3" r="9.6"/>
<circle cx="1506.5" cy="924.0" r="9.6"/>
<circle cx="1506.5" cy="945.3" r="9.6"/>
<circle cx="1506.6" cy="852.7" r="9.6"/>
<circle cx="1506.7" cy="934.4" r="9.6"/>
<circle cx="1507.2" cy="944.9" r="9.6"/>
<circle cx="1507.3" cy="888.6" r="9.6"/>
<circle cx="1507.5" cy="862.7" r="9.6"/>
<circle cx="1508.0" cy="917.3" r="9.6"/>
<circle cx="1508.4" cy="945.9" r="9.6"/>
<circle cx="1508.6" cy="879.0" r="9.6"/>
<circle cx="1508.8" cy="902.0" r="9.6"/>
<circle cx="1509.0" cy="930.9" r="9.6"/>
<circle cx="1509.2" cy="930.8" r="9.6"/>
<circle cx="1509.3" cy="945.8" r="9.6"/>
<circle cx="1509.5" cy="923.1" r="9.6"/>
<circle cx="1510.2" cy="946.1" r="9.6"/>
<circle cx="1510.4" cy="935.3" r="9.6"/>
<circle cx="1510.6" cy="943.2" r="9.6"/>
<circle cx="1511.0" cy="933.4" r="9.6"/>
<circle cx="1511.9" cy="944.2" r="9.6"/>
<circle cx="1512.2" cy="930.8" r="9.6"/>
<circle cx="1512.9" cy="921.2" r="9.6"/>
<circle cx="1513.0" cy="942.5" r="9.6"/>
<circle cx="1513.0" cy="946.2" r="9.6"/>
<circle cx="1513.5" cy="881.0" r="9.6"/>
<circle cx="1513.7" cy="938.9" r="9.6"/>
<circle cx="1514.1" cy="897.5" r="9.6"/>
<circle cx="1515.1" cy="939.7" r="9.6"/>
<circle cx="1515.5" cy="945.3" r="9.6"/>
<circle cx="1515.8" cy="875.9" r="9.6"/>
<circle cx="1515.8" cy="904.0" r="9.6"/>
<circle cx="1516.5" cy="942.6" r="9.6"/>
<circle cx="1516.8" cy="915.0" r="9.6"/>
<circle cx="1517.2" cy="926.2" r="9.6"/>
<circle cx="1518.0" cy="945.2" r="9.6"/>
<circle cx="1518.3" cy="942.9" r="9.6"/>
<circle cx="1518.5" cy="935.5" r="9.6"/>
<circle cx="1518.7" cy="890.5" r="9.6"/>
<circle cx="1519.1" cy="940.0" r="9.6"/>
<circle cx="1519.2" cy="890.6" r="9.6"/>
<circle cx="1519.3" cy="938.9" r="9.6"/>
<circle cx="1519.4" cy="941.8" r="9.6"/>
<circle cx="1519.4" cy="912.2" r="9.6"/>
<circle cx="1519.6" cy="829.5" r="9.6"/>
<circle cx="1520.3" cy="897.9" r="9.6"/>
<circle cx="1520.4" cy="940.8" r="9.6"/>
<circle cx="1520.6" cy="941.6" r="9.6"/>
<circle cx="1521.5" cy="945.6" r="9.6"/>
<circle cx="1522.1" cy="922.3" r="9.6"/>
<circle cx="1522.3" cy="911.8" r="9.6"/>
<circle cx="1522.5" cy="943.4" r="9.6"/>
<circle cx="1523.3" cy="943.5" r="9.6"/>
<circle cx="1523.4" cy="924.4" r="9.6"/>
<circle cx="1523.8" cy="946.7" r="9.6"/>
<circle cx="1524.0" cy="915.3" r="9.6"/>
<circle cx="1524.1" cy="945.3" r="9.6"/>
<circle cx="1524.8" cy="943.9" r="9.6"/>
<circle cx="1525.0" cy="908.9" r="9.6"/>
<circle cx="1525.0" cy="931.1" r="9.6"/>
<circle cx="1526.0" cy="945.2" r="9.6"/>
<circle cx="1526.5" cy="902.5" r="9.6"/>
<circle cx="1527.0" cy="936.0" r="9.6"/>
<circle cx="1527.1" cy="937.5" r="9.6"/>
<circle cx="1527.6" cy="943.6" r="9.6"/>
<circle cx="1527.9" cy="943.6" r="9.6"/>
<circle cx="1527.9" cy="913.0" r="9.6"/>
<circle cx="1528.1" cy="903.0" r="9.6"/>
<circle cx="1528.2" cy="931.3" r="9.6"/>
<circle cx="1529.0" cy="877.6" r="9.6"/>
<circle cx="1529.1" cy="946.6" r="9.6"/>
<circle cx="1529.4" cy="941.4" r="9.6"/>
<circle cx="1529.6" cy="940.2" r="9.6"/>
<circle cx="1529.6" cy="930.3" r="9.6"/>
<circle cx="1530.6" cy="941.1" r="9.6"/>
<circle cx="1531.1" cy="932.9" r="9.6"/>
<circle cx="1532.3" cy="899.4" r="9.6"/>
<circle cx="1532.3" cy="856.0" r="9.6"/>
<circle cx="1532.5" cy="927.8" r="9.6"/>
<circle cx="1532.5" cy="945.9" r="9.6"/>
<circle cx="1533.5" cy="917.0" r="9.6"/>
<circle cx="1533.8" cy="931.4" r="9.6"/>
<circle cx="1533.9" cy="924.3" r="9.6"/>
<circle cx="1534.4" cy="908.7" r="9.6"/>
<circle cx="1534.9" cy="945.5" r="9.6"/>
<circle cx="1534.9" cy="930.4" r="9.6"/>
<circle cx="1534.9" cy="885.6" r="9.6"/>
<circle cx="1535.4" cy="942.1" r="9.6"/>
<circle cx="1535.5" cy="917.4" r="9.6"/>
<circle cx="1535.9" cy="892.8" r="9.6"/>
<circle cx="1536.1" cy="942.6" r="9.6"/>
<circle cx="1536.2" cy="896.6" r="9.6"/>
<circle cx="1536.7" cy="927.9" r="9.6"/>
<circle cx="1537.3" cy="859.3" r="9.6"/>
<circle cx="1537.6" cy="934.1" r="9.6"/>
<circle cx="1537.9" cy="946.9" r="9.6"/>
<circle cx="1538.2" cy="894.7" r="9.6"/>
<circle cx="1539.0" cy="916.6" r="9.6"/>
<circle cx="1539.5" cy="916.9" r="9.6"/>
<circle cx="1539.6" cy="919.9" r="9.6"/>
<circle cx="1539.6" cy="941.0" r="9.6"/>
<circle cx="1539.6" cy="926.2" r="9.6"/>
<circle cx="1539.8" cy="938.4" r="9.6"/>
<circle cx="1539.9" cy="922.0" r="9.6"/>
<circle cx="1540.3" cy="945.9" r="9.6"/>
<circle cx="1540.6" cy="943.0" r="9.6"/>
<circle cx="1541.2" cy="924.1" r="9.6"/>
<circle cx="1541.3" cy="930.5" r="9.6"/>
<circle cx="1541.3" cy="942.7" r="9.6"/>
<circle cx="1542.0" cy="946.1" r="9.6"/>
<circle cx="1542.0" cy="934.3" r="9.6"/>
<circle cx="1542.3" cy="877.6" r="9.6"/>
<circle cx="1542.3" cy="936.0" r="9.6"/>
<circle cx="1542.6" cy="939.3" r="9.6"/>
<circle cx="1542.7" cy="942.2" r="9.6"/>
<circle cx="1543.3" cy="938.6" r="9.6"/>
<circle cx="1543.5" cy="934.2" r="9.6"/>
<circle cx="1543.7" cy="928.5" r="9.6"/>
<circle cx="1544.7" cy="923.2" r="9.6"/>
<circle cx="1544.7" cy="938.3" r="9.6"/>
<circle cx="1544.7" cy="919.7" r="9.6"/>
<circle cx="1544.8" cy="932.7" r="9.6"/>
<circle cx="1545.3" cy="942.0" r="9.6"/>
<circle cx="1545.6" cy="940.6" r="9.6"/>
<circle cx="1545.7" cy="944.6" r="9.6"/>
<circle cx="1546.3" cy="886.8" r="9.6"/>
<circle cx="1546.6" cy="907.3" r="9.6"/>
<circle cx="1546.6" cy="940.0" r="9.6"/>
<circle cx="1547.4" cy="919.8" r="9.6"/>
<circle cx="1547.6" cy="938.6" r="9.6"/>
<circle cx="1547.8" cy="935.8" r="9.6"/>
<circle cx="1548.1" cy="918.9" r="9.6"/>
<circle cx="1548.3" cy="908.2" r="9.6"/>
<circle cx="1548.3" cy="940.7" r="9.6"/>
<circle cx="1548.5" cy="935.7" r="9.6"/>
<circle cx="1548.9" cy="813.8" r="9.6"/>
<circle cx="1548.9" cy="862.7" r="9.6"/>
<circle cx="1549.3" cy="926.3" r="9.6"/>
<circle cx="1549.5" cy="938.6" r="9.6"/>
<circle cx="1549.7" cy="942.8" r="9.6"/>
<circle cx="1550.4" cy="940.8" r="9.6"/>
<circle cx="1550.6" cy="856.0" r="9.6"/>
<circle cx="1550.7" cy="940.8" r="9.6"/>
<circle cx="1551.1" cy="943.3" r="9.6"/>
<circle cx="1551.1" cy="945.1" r="9.6"/>
<circle cx="1551.1" cy="926.5" r="9.6"/>
<circle cx="1551.5" cy="906.6" r="9.6"/>
<circle cx="1551.6" cy="946.5" r="9.6"/>
<circle cx="1551.6" cy="937.9" r="9.6"/>
<circle cx="1552.0" cy="904.8" r="9.6"/>
<circle cx="1552.4" cy="913.4" r="9.6"/>
<circle cx="1552.8" cy="896.6" r="9.6"/>
<circle cx="1553.0" cy="936.4" r="9.6"/>
<circle cx="1553.0" cy="923.6" r="9.6"/>
<circle cx="1553.1" cy="919.7" r="9.6"/>
<circle cx="1553.1" cy="902.1" r="9.6"/>
<circle cx="1553.7" cy="942.1" r="9.6"/>
<circle cx="1554.4" cy="934.2" r="9.6"/>
<circle cx="1554.5" cy="920.0" r="9.6"/>
<circle cx="1554.6" cy="892.3" r="9.6"/>
<circle cx="1554.7" cy="911.2" r="9.6"/>
<circle cx="1555.8" cy="935.5" r="9.6"/>
<circle cx="1556.0" cy="831.2" r="9.6"/>
<circle cx="1557.0" cy="917.5" r="9.6"/>
<circle cx="1557.2" cy="882.5" r="9.6"/>
<circle cx="1557.7" cy="910.4" r="9.6"/>
<circle cx="1558.3" cy="907.2" r="9.6"/>
<circle cx="1558.3" cy="936.7" r="9.6"/>
<circle cx="1558.5" cy="939.0" r="9.6"/>
<circle cx="1558.7" cy="945.1" r="9.6"/>
<circle cx="1559.4" cy="946.0" r="9.6"/>
<circle cx="1559.8" cy="928.3" r="9.6"/>
<circle cx="1560.2" cy="929.1" r="9.6"/>
<circle cx="1560.6" cy="909.7" r="9.6"/>
<circle cx="1560.8" cy="945.1" r="9.6"/>
<circle cx="1561.8" cy="921.6" r="9.6"/>
<circle cx="1562.1" cy="931.9" r="9.6"/>
<circle cx="1562.2" cy="936.5" r="9.6"/>
<circle cx="1562.9" cy="901.4" r="9.6"/>
<circle cx="1563.7" cy="943.7" r="9.6"/>
<circle cx="1563.7" cy="908.1" r="9.6"/>
<circle cx="1563.8" cy="929.6" r="9.6"/>
<circle cx="1564.1" cy="926.6" r="9.6"/>
<circle cx="1564.5" cy="945.0" r="9.6"/>
<circle cx="1565.0" cy="943.8" r="9.6"/>
<circle cx="1565.5" cy="930.4" r="9.6"/>
<circle cx="1565.5" cy="885.9" r="9.6"/>
<circle cx="1567.1" cy="936.7" r="9.6"/>
<circle cx="1567.8" cy="936.2" r="9.6"/>
<circle cx="1568.0" cy="922.7" r="9.6"/>
<circle cx="1568.1" cy="946.1" r="9.6"/>
<circle cx="1568.1" cy="939.8" r="9.6"/>
<circle cx="1568.3" cy="940.6" r="9.6"/>
<circle cx="1568.3" cy="939.7" r="9.6"/>
<circle cx="1568.6" cy="943.1" r="9.6"/>
<circle cx="1568.9" cy="923.0" r="9.6"/>
<circle cx="1569.1" cy="943.8" r="9.6"/>
<circle cx="1569.4" cy="931.4" r="9.6"/>
<circle cx="1569.6" cy="860.2" r="9.6"/>
<circle cx="1569.9" cy="932.0" r="9.6"/>
<circle cx="1570.4" cy="926.8" r="9.6"/>
<circle cx="1570.4" cy="939.0" r="9.6"/>
<circle cx="1570.6" cy="939.4" r="9.6"/>
<circle cx="1570.7" cy="928.2" r="9.6"/>
<circle cx="1570.9" cy="943.6" r="9.6"/>
<circle cx="1571.3" cy="904.2" r="9.6"/>
<circle cx="1572.0" cy="926.4" r="9.6"/>
<circle cx="1572.0" cy="931.9" r="9.6"/>
<circle cx="1572.1" cy="943.6" r="9.6"/>
<circle cx="1573.0" cy="910.9" r="9.6"/>
<circle cx="1573.0" cy="936.3" r="9.6"/>
<circle cx="1573.5" cy="940.2" r="9.6"/>
<circle cx="1573.7" cy="920.1" r="9.6"/>
<circle cx="1573.8" cy="923.3" r="9.6"/>
<circle cx="1574.3" cy="829.5" r="9.6"/>
<circle cx="1574.3" cy="927.9" r="9.6"/>
<circle cx="1574.3" cy="898.2" r="9.6"/>
<circle cx="1574.5" cy="925.7" r="9.6"/>
<circle cx="1574.6" cy="929.2" r="9.6"/>
<circle cx="1574.7" cy="920.7" r="9.6"/>
<circle cx="1576.2" cy="942.5" r="9.6"/>
<circle cx="1576.4" cy="884.2" r="9.6"/>
<circle cx="1576.8" cy="925.4" r="9.6"/>
<circle cx="1577.2" cy="944.6" r="9.6"/>
<circle cx="1578.7" cy="946.1" r="9.6"/>
<circle cx="1578.8" cy="936.3" r="9.6"/>
<circle cx="1578.8" cy="922.9" r="9.6"/>
<circle cx="1578.9" cy="925.1" r="9.6"/>
<circle cx="1579.1" cy="938.3" r="9.6"/>
<circle cx="1579.8" cy="946.2" r="9.6"/>
<circle cx="1580.4" cy="876.7" r="9.6"/>
<circle cx="1580.5" cy="908.6" r="9.6"/>
<circle cx="1580.6" cy="931.4" r="9.6"/>
<circle cx="1580.7" cy="928.1" r="9.6"/>
<circle cx="1581.1" cy="938.8" r="9.6"/>
<circle cx="1581.1" cy="918.4" r="9.6"/>
<circle cx="1581.3" cy="891.8" r="9.6"/>
<circle cx="1581.3" cy="922.5" r="9.6"/>
<circle cx="1582.3" cy="898.5" r="9.6"/>
<circle cx="1582.3" cy="938.5" r="9.6"/>
<circle cx="1582.4" cy="941.4" r="9.6"/>
<circle cx="1582.8" cy="942.6" r="9.6"/>
<circle cx="1583.1" cy="945.5" r="9.6"/>
<circle cx="1583.4" cy="928.9" r="9.6"/>
<circle cx="1583.7" cy="860.2" r="9.6"/>
<circle cx="1584.1" cy="943.0" r="9.6"/>
<circle cx="1584.1" cy="900.6" r="9.6"/>
<circle cx="1586.0" cy="929.7" r="9.6"/>
<circle cx="1586.6" cy="937.5" r="9.6"/>
<circle cx="1587.1" cy="946.5" r="9.6"/>
<circle cx="1587.3" cy="944.5" r="9.6"/>
<circle cx="1587.6" cy="944.2" r="9.6"/>
<circle cx="1587.7" cy="945.2" r="9.6"/>
<circle cx="1588.7" cy="877.6" r="9.6"/>
<circle cx="1588.9" cy="932.2" r="9.6"/>
<circle cx="1589.1" cy="937.1" r="9.6"/>
<circle cx="1590.3" cy="934.8" r="9.6"/>
<circle cx="1590.3" cy="943.6" r="9.6"/>
<circle cx="1590.3" cy="861.8" r="9.6"/>
<circle cx="1590.4" cy="921.7" r="9.6"/>
<circle cx="1590.5" cy="920.0" r="9.6"/>
<circle cx="1591.7" cy="908.7" r="9.6"/>
<circle cx="1591.7" cy="932.7" r="9.6"/>
<circle cx="1593.3" cy="923.4" r="9.6"/>
<circle cx="1593.7" cy="939.4" r="9.6"/>
<circle cx="1593.7" cy="945.9" r="9.6"/>
<circle cx="1593.8" cy="927.0" r="9.6"/>
<circle cx="1593.9" cy="938.5" r="9.6"/>
<circle cx="1594.1" cy="930.4" r="9.6"/>
<circle cx="1594.4" cy="935.1" r="9.6"/>
<circle cx="1594.8" cy="914.6" r="9.6"/>
<circle cx="1595.2" cy="946.1" r="9.6"/>
<circle cx="1595.4" cy="910.2" r="9.6"/>
<circle cx="1595.7" cy="940.5" r="9.6"/>
<circle cx="1595.8" cy="892.7" r="9.6"/>
<circle cx="1595.8" cy="827.9" r="9.6"/>
<circle cx="1596.5" cy="921.3" r="9.6"/>
<circle cx="1597.0" cy="938.9" r="9.6"/>
<circle cx="1597.8" cy="920.2" r="9.6"/>
<circle cx="1598.2" cy="915.6" r="9.6"/>
<circle cx="1598.2" cy="921.1" r="9.6"/>
<circle cx="1598.3" cy="900.4" r="9.6"/>
<circle cx="1598.9" cy="946.5" r="9.6"/>
<circle cx="1599.0" cy="898.5" r="9.6"/>
<circle cx="1599.2" cy="943.9" r="9.6"/>
<circle cx="1599.9" cy="935.3" r="9.6"/>
<circle cx="1600.6" cy="937.3" r="9.6"/>
<circle cx="1600.7" cy="930.8" r="9.6"/>
<circle cx="1600.9" cy="930.9" r="9.6"/>
<circle cx="1601.0" cy="938.7" r="9.6"/>
<circle cx="1601.2" cy="922.9" r="9.6"/>
<circle cx="1601.5" cy="942.9" r="9.6"/>
<circle cx="1601.7" cy="943.1" r="9.6"/>
<circle cx="1602.3" cy="938.8" r="9.6"/>
<circle cx="1602.3" cy="930.1" r="9.6"/>
<circle cx="1603.1" cy="936.3" r="9.6"/>
<circle cx="1603.6" cy="861.8" r="9.6"/>
<circle cx="1603.6" cy="926.2" r="9.6"/>
<circle cx="1604.1" cy="931.1" r="9.6"/>
<circle cx="1604.2" cy="922.4" r="9.6"/>
<circle cx="1604.5" cy="944.3" r="9.6"/>
<circle cx="1605.0" cy="893.0" r="9.6"/>
<circle cx="1605.1" cy="905.8" r="9.6"/>
<circle cx="1605.1" cy="944.2" r="9.6"/>
<circle cx="1605.4" cy="906.9" r="9.6"/>
<circle cx="1605.5" cy="942.8" r="9.6"/>
<circle cx="1605.5" cy="943.6" r="9.6"/>
<circle cx="1606.9" cy="875.9" r="9.6"/>
<circle cx="1607.7" cy="915.5" r="9.6"/>
<circle cx="1608.8" cy="902.6" r="9.6"/>
<circle cx="1610.3" cy="921.8" r="9.6"/>
<circle cx="1610.7" cy="938.6" r="9.6"/>
<circle cx="1612.1" cy="943.8" r="9.6"/>
<circle cx="1612.9" cy="906.9" r="9.6"/>
<circle cx="1613.0" cy="930.6" r="9.6"/>
<circle cx="1613.1" cy="906.7" r="9.6"/>
<circle cx="1613.6" cy="861.0" r="9.6"/>
<circle cx="1613.8" cy="896.4" r="9.6"/>
<circle cx="1613.8" cy="943.7" r="9.6"/>
<circle cx="1613.9" cy="938.7" r="9.6"/>
<circle cx="1614.1" cy="937.4" r="9.6"/>
<circle cx="1614.6" cy="929.5" r="9.6"/>
<circle cx="1614.6" cy="921.0" r="9.6"/>
<circle cx="1614.7" cy="939.1" r="9.6"/>
<circle cx="1614.8" cy="928.4" r="9.6"/>
<circle cx="1615.2" cy="938.9" r="9.6"/>
<circle cx="1616.9" cy="884.2" r="9.6"/>
<circle cx="1617.6" cy="933.0" r="9.6"/>
<circle cx="1617.6" cy="936.5" r="9.6"/>
<circle cx="1618.2" cy="936.9" r="9.6"/>
<circle cx="1618.4" cy="909.9" r="9.6"/>
<circle cx="1618.7" cy="905.2" r="9.6"/>
<circle cx="1618.9" cy="893.1" r="9.6"/>
<circle cx="1619.2" cy="933.6" r="9.6"/>
<circle cx="1619.3" cy="945.1" r="9.6"/>
<circle cx="1619.9" cy="938.4" r="9.6"/>
<circle cx="1620.2" cy="945.4" r="9.6"/>
<circle cx="1620.7" cy="896.4" r="9.6"/>
<circle cx="1620.8" cy="909.3" r="9.6"/>
<circle cx="1621.0" cy="894.0" r="9.6"/>
<circle cx="1621.2" cy="945.7" r="9.6"/>
<circle cx="1621.3" cy="897.6" r="9.6"/>
<circle cx="1621.5" cy="902.3" r="9.6"/>
<circle cx="1621.8" cy="934.7" r="9.6"/>
<circle cx="1621.9" cy="928.9" r="9.6"/>
<circle cx="1622.0" cy="939.4" r="9.6"/>
<circle cx="1622.1" cy="942.5" r="9.6"/>
<circle cx="1622.3" cy="944.9" r="9.6"/>
<circle cx="1622.3" cy="943.6" r="9.6"/>
<circle cx="1623.1" cy="942.2" r="9.6"/>
<circle cx="1623.5" cy="936.1" r="9.6"/>
<circle cx="1623.7" cy="935.7" r="9.6"/>
<circle cx="1624.2" cy="902.5" r="9.6"/>
<circle cx="1624.2" cy="944.9" r="9.6"/>
<circle cx="1625.7" cy="925.2" r="9.6"/>
<circle cx="1627.0" cy="908.8" r="9.6"/>
<circle cx="1627.3" cy="944.2" r="9.6"/>
<circle cx="1628.1" cy="922.5" r="9.6"/>
<circle cx="1628.4" cy="936.2" r="9.6"/>
<circle cx="1629.0" cy="936.2" r="9.6"/>
<circle cx="1630.1" cy="866.8" r="9.6"/>
<circle cx="1630.8" cy="928.7" r="9.6"/>
<circle cx="1630.9" cy="927.4" r="9.6"/>
<circle cx="1631.3" cy="920.2" r="9.6"/>
<circle cx="1631.7" cy="937.8" r="9.6"/>
<circle cx="1631.8" cy="884.2" r="9.6"/>
<circle cx="1632.3" cy="921.9" r="9.6"/>
<circle cx="1632.5" cy="944.9" r="9.6"/>
<circle cx="1632.9" cy="939.3" r="9.6"/>
<circle cx="1633.1" cy="926.5" r="9.6"/>
<circle cx="1633.1" cy="924.2" r="9.6"/>
<circle cx="1633.3" cy="944.6" r="9.6"/>
<circle cx="1634.5" cy="942.5" r="9.6"/>
<circle cx="1634.8" cy="918.9" r="9.6"/>
<circle cx="1634.9" cy="933.9" r="9.6"/>
<circle cx="1635.1" cy="908.5" r="9.6"/>
<circle cx="1635.4" cy="926.4" r="9.6"/>
<circle cx="1635.5" cy="929.8" r="9.6"/>
<circle cx="1636.4" cy="942.8" r="9.6"/>
<circle cx="1636.8" cy="903.9" r="9.6"/>
<circle cx="1637.1" cy="941.6" r="9.6"/>
<circle cx="1637.2" cy="938.3" r="9.6"/>
<circle cx="1637.2" cy="921.3" r="9.6"/>
<circle cx="1637.5" cy="896.1" r="9.6"/>
<circle cx="1638.3" cy="927.8" r="9.6"/>
<circle cx="1638.4" cy="937.1" r="9.6"/>
<circle cx="1638.4" cy="924.2" r="9.6"/>
<circle cx="1638.4" cy="939.5" r="9.6"/>
<circle cx="1639.0" cy="927.7" r="9.6"/>
<circle cx="1639.2" cy="946.9" r="9.6"/>
<circle cx="1639.2" cy="908.8" r="9.6"/>
<circle cx="1640.8" cy="944.6" r="9.6"/>
<circle cx="1641.7" cy="946.6" r="9.6"/>
<circle cx="1641.8" cy="941.2" r="9.6"/>
<circle cx="1642.1" cy="944.4" r="9.6"/>
<circle cx="1642.5" cy="901.9" r="9.6"/>
<circle cx="1643.4" cy="884.2" r="9.6"/>
<circle cx="1644.1" cy="944.3" r="9.6"/>
<circle cx="1645.0" cy="928.7" r="9.6"/>
<circle cx="1645.1" cy="943.4" r="9.6"/>
<circle cx="1645.6" cy="946.3" r="9.6"/>
<circle cx="1645.6" cy="939.8" r="9.6"/>
<circle cx="1645.7" cy="929.2" r="9.6"/>
<circle cx="1646.0" cy="944.9" r="9.6"/>
<circle cx="1647.2" cy="919.0" r="9.6"/>
<circle cx="1648.3" cy="899.2" r="9.6"/>
<circle cx="1649.1" cy="937.7" r="9.6"/>
<circle cx="1649.3" cy="940.0" r="9.6"/>
<circle cx="1649.5" cy="938.4" r="9.6"/>
<circle cx="1650.0" cy="892.5" r="9.6"/>
<circle cx="1650.2" cy="946.3" r="9.6"/>
<circle cx="1650.6" cy="916.0" r="9.6"/>
<circle cx="1650.8" cy="923.4" r="9.6"/>
<circle cx="1650.8" cy="900.2" r="9.6"/>
<circle cx="1651.6" cy="897.3" r="9.6"/>
<circle cx="1652.4" cy="934.7" r="9.6"/>
<circle cx="1652.6" cy="912.1" r="9.6"/>
<circle cx="1653.0" cy="912.5" r="9.6"/>
<circle cx="1653.2" cy="941.3" r="9.6"/>
<circle cx="1653.5" cy="926.6" r="9.6"/>
<circle cx="1653.6" cy="934.0" r="9.6"/>
<circle cx="1653.7" cy="924.5" r="9.6"/>
<circle cx="1653.8" cy="928.2" r="9.6"/>
<circle cx="1653.9" cy="945.0" r="9.6"/>
<circle cx="1654.6" cy="933.8" r="9.6"/>
<circle cx="1654.9" cy="942.1" r="9.6"/>
<circle cx="1654.9" cy="944.3" r="9.6"/>
<circle cx="1655.1" cy="931.1" r="9.6"/>
<circle cx="1655.2" cy="911.9" r="9.6"/>
<circle cx="1655.3" cy="946.1" r="9.6"/>
<circle cx="1655.5" cy="910.6" r="9.6"/>
<circle cx="1656.1" cy="909.4" r="9.6"/>
<circle cx="1657.0" cy="938.3" r="9.6"/>
<circle cx="1657.1" cy="934.3" r="9.6"/>
<circle cx="1657.2" cy="903.0" r="9.6"/>
<circle cx="1657.8" cy="946.1" r="9.6"/>
<circle cx="1658.4" cy="910.3" r="9.6"/>
<circle cx="1658.4" cy="942.4" r="9.6"/>
<circle cx="1659.3" cy="915.8" r="9.6"/>
<circle cx="1659.5" cy="933.2" r="9.6"/>
<circle cx="1659.5" cy="945.4" r="9.6"/>
<circle cx="1659.7" cy="935.2" r="9.6"/>
<circle cx="1659.7" cy="938.9" r="9.6"/>
<circle cx="1660.3" cy="934.2" r="9.6"/>
<circle cx="1660.4" cy="904.3" r="9.6"/>
<circle cx="1660.6" cy="916.3" r="9.6"/>
<circle cx="1660.7" cy="936.0" r="9.6"/>
<circle cx="1660.8" cy="941.1" r="9.6"/>
<circle cx="1661.1" cy="922.4" r="9.6"/>
<circle cx="1661.6" cy="915.2" r="9.6"/>
<circle cx="1661.8" cy="927.0" r="9.6"/>
<circle cx="1662.1" cy="886.0" r="9.6"/>
<circle cx="1662.3" cy="919.9" r="9.6"/>
<circle cx="1662.3" cy="908.6" r="9.6"/>
<circle cx="1662.5" cy="946.8" r="9.6"/>
<circle cx="1662.8" cy="933.9" r="9.6"/>
<circle cx="1663.0" cy="938.2" r="9.6"/>
<circle cx="1663.1" cy="919.5" r="9.6"/>
<circle cx="1663.2" cy="915.0" r="9.6"/>
<circle cx="1664.7" cy="943.2" r="9.6"/>
<circle cx="1664.9" cy="917.4" r="9.6"/>
<circle cx="873.9" cy="233.0" r="9.6"/>
<circle cx="873.9" cy="230.3" r="9.6"/>
<circle cx="873.9" cy="222.2" r="9.6"/>
<circle cx="873.9" cy="192.7" r="9.6"/>
<circle cx="873.9" cy="202.7" r="9.6"/>
<circle cx="873.9" cy="302.8" r="9.6"/>
<circle cx="875.8" cy="334.0" r="9.6"/>
<circle cx="875.8" cy="330.0" r="9.6"/>
<circle cx="876.6" cy="324.2" r="9.6"/>
<circle cx="874.4" cy="318.3" r="9.6" fill="#ff0000"/>
<circle cx="874.4" cy="384.6" r="9.6" fill="#ffa500"/>
<circle cx="874.4" cy="360.5" r="9.6" fill="#ffa500"/>
<circle cx="874.4" cy="372.5" r="9.6" fill="#ffa500"/>
<circle cx="874.4" cy="354.3" r="9.6" fill="#ffa500"/>
<circle cx="876.0" cy="484.1" r="9.6"/>
<circle cx="876.0" cy="470.8" r="9.6"/>
<circle cx="876.0" cy="516.1" r="9.6"/>
<circle cx="874.3" cy="570.6" r="9.6"/>
<circle cx="874.9" cy="712.0" r="9.6"/>
<circle cx="874.9" cy="708.0" r="9.6"/>
<circle cx="876.2" cy="698.5" r="9.6"/>
<circle cx="875.1" cy="732.2" r="9.6"/>
<circle cx="875.1" cy="745.4" r="9.6"/>
<path d="M874.2 141.1L885.9 152.8L874.2 164.5L862.5 152.8Z" fill="#7d26cd" stroke-width="2.3" stroke-linejoin="round"/>
</g>
</g>
<line x1="134.4" y1="947.0" x2="153" y2="947.0" stroke="#363636" stroke-width="2.3" stroke-linecap="round"/>
<text transform="translate(115.4,958.4) scale(1,1.05)" font-family="Liberation Sans, Arial, sans-serif" font-size="31" fill="#3c3c3c" text-anchor="end">0</text>
<line x1="134.4" y1="781.5" x2="153" y2="781.5" stroke="#363636" stroke-width="2.3" stroke-linecap="round"/>
<text transform="translate(115.4,792.9) scale(1,1.05)" font-family="Liberation Sans, Arial, sans-serif" font-size="31" fill="#3c3c3c" text-anchor="end">2</text>
<line x1="134.4" y1="616.0" x2="153" y2="616.0" stroke="#363636" stroke-width="2.3" stroke-linecap="round"/>
<text transform="translate(115.4,627.4) scale(1,1.05)" font-family="Liberation Sans, Arial, sans-serif" font-size="31" fill="#3c3c3c" text-anchor="end">4</text>
<line x1="134.4" y1="450.5" x2="153" y2="450.5" stroke="#363636" stroke-width="2.3" stroke-linecap="round"/>
<text transform="translate(115.4,461.9) scale(1,1.05)" font-family="Liberation Sans, Arial, sans-serif" font-size="31" fill="#3c3c3c" text-anchor="end">6</text>
<line x1="134.4" y1="285.0" x2="153" y2="285.0" stroke="#363636" stroke-width="2.3" stroke-linecap="round"/>
<text transform="translate(115.4,296.4) scale(1,1.05)" font-family="Liberation Sans, Arial, sans-serif" font-size="31" fill="#3c3c3c" text-anchor="end">8</text>
<line x1="134.4" y1="119.5" x2="153" y2="119.5" stroke="#363636" stroke-width="2.3" stroke-linecap="round"/>
<text transform="translate(115.4,130.9) scale(1,1.05)" font-family="Liberation Sans, Arial, sans-serif" font-size="31" fill="#3c3c3c" text-anchor="end">10</text>
<g transform="translate(48.1,0) rotate(-90)" font-family="Liberation Sans, Arial, sans-serif" font-size="31" fill="#3c3c3c"><text><tspan x="-618.8" y="0">−</tspan><tspan x="-598" y="0">log</tspan><tspan x="-556.6" y="6.4" font-size="21">10</tspan><tspan x="-535" y="0">(p</tspan><tspan x="-505.6" y="0">−</tspan><tspan x="-486" y="0">value)</tspan></text></g>
<line x1="1658" y1="73.24999999999989" x2="1658" y2="947.0" stroke="#2222ff" stroke-width="2.3" stroke-linecap="round"/>
<line x1="1658" y1="947.0" x2="1676.3" y2="947.0" stroke="#2222ff" stroke-width="2.3" stroke-linecap="round"/>
<text transform="translate(1695.3,958.4) scale(1,1.05)" font-family="Liberation Sans, Arial, sans-serif" font-size="31" fill="#2222ff">0</text>
<line x1="1658" y1="772.25" x2="1676.3" y2="772.25" stroke="#2222ff" stroke-width="2.3" stroke-linecap="round"/>
<text transform="translate(1695.3,783.6) scale(1,1.05)" font-family="Liberation Sans, Arial, sans-serif" font-size="31" fill="#2222ff">20</text>
<line x1="1658" y1="597.5" x2="1676.3" y2="597.5" stroke="#2222ff" stroke-width="2.3" stroke-linecap="round"/>
<text transform="translate(1695.3,608.9) scale(1,1.05)" font-family="Liberation Sans, Arial, sans-serif" font-size="31" fill="#2222ff">40</text>
<line x1="1658" y1="422.75" x2="1676.3" y2="422.75" stroke="#2222ff" stroke-width="2.3" stroke-linecap="round"/>
<text transform="translate(1695.3,434.1) scale(1,1.05)" font-family="Liberation Sans, Arial, sans-serif" font-size="31" fill="#2222ff">60</text>
<line x1="1658" y1="248.0" x2="1676.3" y2="248.0" stroke="#2222ff" stroke-width="2.3" stroke-linecap="round"/>
<text transform="translate(1695.3,259.4) scale(1,1.05)" font-family="Liberation Sans, Arial, sans-serif" font-size="31" fill="#2222ff">80</text>
<line x1="1658" y1="73.24999999999989" x2="1676.3" y2="73.24999999999989" stroke="#2222ff" stroke-width="2.3" stroke-linecap="round"/>
<text transform="translate(1695.3,84.6) scale(1,1.05)" font-family="Liberation Sans, Arial, sans-serif" font-size="31" fill="#2222ff">100</text>
<text transform="translate(1758,313) rotate(90)" font-family="Liberation Sans, Arial, sans-serif" font-size="31.4" fill="#2222ff">Recombination rate (cM/Mb)</text>
<rect x="1516" y="45.5" width="125.5" height="300" fill="#fff" stroke="#3a3a3a" stroke-width="2.3"/>
<rect x="1534" y="98.0" width="30" height="46.5" fill="#ff0000" stroke="#484848" stroke-width="2.2"/>
<rect x="1534" y="144.5" width="30" height="46.5" fill="#ffa500" stroke="#484848" stroke-width="2.2"/>
<rect x="1534" y="191.0" width="30" height="46.5" fill="#00ff00" stroke="#484848" stroke-width="2.2"/>
<rect x="1534" y="237.5" width="30" height="46.5" fill="#87cefa" stroke="#484848" stroke-width="2.2"/>
<rect x="1534" y="284.0" width="30" height="46.5" fill="#000080" stroke="#484848" stroke-width="2.2"/>
<line x1="1564" y1="144.5" x2="1580" y2="144.5" stroke="#363636" stroke-width="2"/>
<text transform="translate(1588,153.7) scale(1,1.05)" font-family="Liberation Sans, Arial, sans-serif" font-size="25" fill="#3c3c3c">0.8</text>
<line x1="1564" y1="191.0" x2="1580" y2="191.0" stroke="#363636" stroke-width="2"/>
<text transform="translate(1588,200.2) scale(1,1.05)" font-family="Liberation Sans, Arial, sans-serif" font-size="25" fill="#3c3c3c">0.6</text>
<line x1="1564" y1="237.5" x2="1580" y2="237.5" stroke="#363636" stroke-width="2"/>
<text transform="translate(1588,246.7) scale(1,1.05)" font-family="Liberation Sans, Arial, sans-serif" font-size="25" fill="#3c3c3c">0.4</text>
<line x1="1564" y1="284.0" x2="1580" y2="284.0" stroke="#363636" stroke-width="2"/>
<text transform="translate(1588,293.2) scale(1,1.05)" font-family="Liberation Sans, Arial, sans-serif" font-size="25" fill="#3c3c3c">0.2</text>
<text x="1568" y="87.3" font-family="Liberation Sans, Arial, sans-serif" font-size="31" fill="#3c3c3c">r<tspan font-size="21.5" dy="-16">2</tspan></text>
<text x="874.3" y="131.9" font-family="Liberation Sans, Arial, sans-serif" font-size="31.3" fill="#000" text-anchor="middle">rs139753473</text>
<rect x="153.6" y="1009.8" width="1503.2" height="119.40000000000009" fill="none" stroke="#555555" stroke-width="1.3"/>
<line x1="153.0" y1="1129.9" x2="1568.8000000000013" y2="1129.9" stroke="#363636" stroke-width="2.3" stroke-linecap="round"/>
<line x1="153.0" y1="1129.9" x2="153.0" y2="1148.6" stroke="#363636" stroke-width="2.3" stroke-linecap="round"/>
<text transform="translate(153.0,1197.3) scale(1,1.05)" font-family="Liberation Sans, Arial, sans-serif" font-size="30.5" fill="#3c3c3c" text-anchor="middle">16</text>
<line x1="506.94999999999874" y1="1129.9" x2="506.94999999999874" y2="1148.6" stroke="#363636" stroke-width="2.3" stroke-linecap="round"/>
<text transform="translate(506.9,1197.3) scale(1,1.05)" font-family="Liberation Sans, Arial, sans-serif" font-size="30.5" fill="#3c3c3c" text-anchor="middle">16.2</text>
<line x1="860.8999999999975" y1="1129.9" x2="860.8999999999975" y2="1148.6" stroke="#363636" stroke-width="2.3" stroke-linecap="round"/>
<text transform="translate(860.9,1197.3) scale(1,1.05)" font-family="Liberation Sans, Arial, sans-serif" font-size="30.5" fill="#3c3c3c" text-anchor="middle">16.4</text>
<line x1="1214.8500000000024" y1="1129.9" x2="1214.8500000000024" y2="1148.6" stroke="#363636" stroke-width="2.3" stroke-linecap="round"/>
<text transform="translate(1214.9,1197.3) scale(1,1.05)" font-family="Liberation Sans, Arial, sans-serif" font-size="30.5" fill="#3c3c3c" text-anchor="middle">16.6</text>
<line x1="1568.8000000000013" y1="1129.9" x2="1568.8000000000013" y2="1148.6" stroke="#363636" stroke-width="2.3" stroke-linecap="round"/>
<text transform="translate(1568.8,1197.3) scale(1,1.05)" font-family="Liberation Sans, Arial, sans-serif" font-size="30.5" fill="#3c3c3c" text-anchor="middle">16.8</text>
<text x="905.5" y="1241.6" font-family="Liberation Sans, Arial, sans-serif" font-size="31.3" fill="#3c3c3c" text-anchor="middle">Position on chr3 (Mb)</text>
<line x1="534.2" y1="1052.3" x2="637.6" y2="1052.3" stroke="#000080" stroke-width="2.4"/>
<rect x="534.2" y="1046.8" width="4.2" height="11" fill="#000080"/>
<rect x="572.0" y="1046.8" width="2.0" height="11" fill="#000080"/>
<rect x="580.7" y="1046.8" width="2.0" height="11" fill="#000080"/>
<rect x="595.0" y="1046.8" width="2.0" height="11" fill="#000080"/>
<rect x="599.4" y="1046.8" width="4.4" height="11" fill="#000080"/>
<rect x="609.3" y="1046.8" width="2.0" height="11" fill="#000080"/>
<rect x="613.7" y="1046.8" width="3.2" height="11" fill="#000080"/>
<rect x="619.3" y="1046.8" width="2.4" height="11" fill="#000080"/>
<rect x="628.2" y="1046.8" width="7.0" height="11" fill="#000080"/>
<rect x="635.8" y="1046.8" width="2.0" height="11" fill="#000080"/>
<text transform="translate(515.5,1041.2) scale(1,1.05)" font-family="Liberation Sans, Arial, sans-serif" font-style="italic" font-size="26" fill="#000">GALNT15</text>
<line x1="635.2" y1="1031.5" x2="660.8" y2="1031.5" stroke="#000" stroke-width="2.4" stroke-linecap="round"/>
<path d="M650.0 1027.3L660.8 1031.5L650.0 1035.7" fill="none" stroke="#000" stroke-width="2.4" stroke-linejoin="round" stroke-linecap="round"/>
<line x1="694.8" y1="1052.3" x2="824.5" y2="1052.3" stroke="#000080" stroke-width="2.4"/>
<rect x="694.8" y="1046.8" width="2.4" height="11" fill="#000080"/>
<rect x="702.0" y="1046.8" width="2.0" height="11" fill="#000080"/>
<rect x="705.2" y="1046.8" width="3.1" height="11" fill="#000080"/>
<rect x="732.2" y="1046.8" width="2.4" height="11" fill="#000080"/>
<rect x="747.1" y="1046.8" width="2.4" height="11" fill="#000080"/>
<rect x="759.4" y="1046.8" width="9.4" height="11" fill="#000080"/>
<rect x="822.0" y="1046.8" width="2.5" height="11" fill="#000080"/>
<text transform="translate(694.5,1041.2) scale(1,1.05)" font-family="Liberation Sans, Arial, sans-serif" font-style="italic" font-size="26" fill="#000">OXNAD1</text>
<line x1="803.2" y1="1031.5" x2="828.8" y2="1031.5" stroke="#000" stroke-width="2.4" stroke-linecap="round"/>
<path d="M818.0 1027.3L828.8 1031.5L818.0 1035.7" fill="none" stroke="#000" stroke-width="2.4" stroke-linejoin="round" stroke-linecap="round"/>
<line x1="1174.4" y1="1052.3" x2="1185.8" y2="1052.3" stroke="#000080" stroke-width="2.4"/>
<rect x="1174.4" y="1046.8" width="2.4" height="11" fill="#000080"/>
<rect x="1178.8" y="1046.8" width="7.0" height="11" fill="#000080"/>
<text transform="translate(1100.5,1041.2) scale(1,1.05)" font-family="Liberation Sans, Arial, sans-serif" font-style="italic" font-size="26" fill="#000">LINC00690</text>
<line x1="1237.5" y1="1031.5" x2="1263.1" y2="1031.5" stroke="#000" stroke-width="2.4" stroke-linecap="round"/>
<path d="M1252.3 1027.3L1263.1 1031.5L1252.3 1035.7" fill="none" stroke="#000" stroke-width="2.4" stroke-linejoin="round" stroke-linecap="round"/>
<line x1="680.3" y1="1112.6" x2="696.8" y2="1112.6" stroke="#000080" stroke-width="2.4"/>
<rect x="680.3" y="1107.1" width="8.6" height="11" fill="#000080"/>
<rect x="693.8" y="1107.1" width="3.0" height="11" fill="#000080"/>
<text transform="translate(667.5,1101.8) scale(1,1.05)" font-family="Liberation Sans, Arial, sans-serif" font-style="italic" font-size="26" fill="#000">DPH3</text>
<line x1="636.8" y1="1092.0" x2="662.2" y2="1092.0" stroke="#000" stroke-width="2.4" stroke-linecap="round"/>
<path d="M647.8 1087.8L637.0 1092.0L647.8 1096.2" fill="none" stroke="#000" stroke-width="2.4" stroke-linejoin="round" stroke-linecap="round"/>
<line x1="785.0" y1="1112.6" x2="1136.3" y2="1112.6" stroke="#000080" stroke-width="2.4"/>
<rect x="785.0" y="1107.1" width="4.2" height="11" fill="#000080"/>
<rect x="797.9" y="1107.1" width="2.0" height="11" fill="#000080"/>
<rect x="803.5" y="1107.1" width="2.0" height="11" fill="#000080"/>
<rect x="858.9" y="1107.1" width="2.0" height="11" fill="#000080"/>
<rect x="880.6" y="1107.1" width="2.0" height="11" fill="#000080"/>
<rect x="894.3" y="1107.1" width="2.0" height="11" fill="#000080"/>
<rect x="950.0" y="1107.1" width="2.0" height="11" fill="#000080"/>
<rect x="993.3" y="1107.1" width="2.0" height="11" fill="#000080"/>
<rect x="1099.3" y="1107.1" width="2.0" height="11" fill="#000080"/>
<rect x="1134.3" y="1107.1" width="2.0" height="11" fill="#000080"/>
<text transform="translate(932.5,1101.8) scale(1,1.05)" font-family="Liberation Sans, Arial, sans-serif" font-style="italic" font-size="26" fill="#000">RFTN1</text>
<line x1="901.7" y1="1092.0" x2="927.5" y2="1092.0" stroke="#000" stroke-width="2.4" stroke-linecap="round"/>
<path d="M912.7 1087.8L901.9 1092.0L912.7 1096.2" fill="none" stroke="#000" stroke-width="2.4" stroke-linejoin="round" stroke-linecap="round"/>
<line x1="1263.9" y1="1112.6" x2="1299.1" y2="1112.6" stroke="#000080" stroke-width="2.4"/>
<rect x="1263.9" y="1107.1" width="5.0" height="11" fill="#000080"/>
<rect x="1273.2" y="1107.1" width="2.6" height="11" fill="#000080"/>
<rect x="1276.4" y="1107.1" width="10.4" height="11" fill="#000080"/>
<rect x="1295.3" y="1107.1" width="3.8" height="11" fill="#000080"/>
<text transform="translate(1262.5,1101.8) scale(1,1.05)" font-family="Liberation Sans, Arial, sans-serif" font-style="italic" font-size="26" fill="#000">DAZL</text>
<line x1="1231.5" y1="1092.0" x2="1257.7" y2="1092.0" stroke="#000" stroke-width="2.4" stroke-linecap="round"/>
<path d="M1242.5 1087.8L1231.7 1092.0L1242.5 1096.2" fill="none" stroke="#000" stroke-width="2.4" stroke-linejoin="round" stroke-linecap="round"/>
</svg>
</body></html>
